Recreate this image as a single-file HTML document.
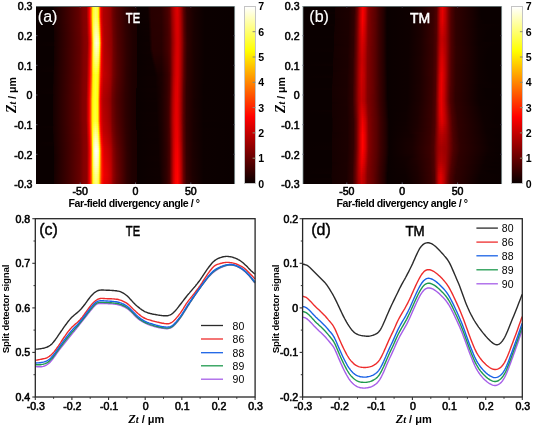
<!DOCTYPE html>
<html><head><meta charset="utf-8">
<style>
html,body{margin:0;padding:0;background:#fff;}
body{width:533px;height:428px;position:relative;overflow:hidden;font-family:"Liberation Sans",sans-serif;}
.hm{position:absolute;overflow:hidden;}
.hm div{position:absolute;left:0;right:0;}
.cbar{position:absolute;box-sizing:border-box;border:1px solid #c4c4c4;background:linear-gradient(to top,#0a0000 0%,#ff0000 37.5%,#ffff00 75%,#ffffff 100%);}
.t{position:absolute;white-space:nowrap;line-height:1;color:#000;filter:grayscale(1);}
.tk{font-size:10.6px;-webkit-text-stroke:0.55px #000;}
.cb{font-size:10.6px;font-weight:bold;}
.xl{font-size:10.6px;font-weight:bold;letter-spacing:-0.45px;}
.xl2{font-size:11px;font-weight:bold;}
.xl2 .z{font-size:1.12em;}
.yl{font-size:10.6px;font-weight:bold;}
.yl2{font-size:9.8px;font-weight:bold;letter-spacing:-0.25px;}
.lg{font-size:10.5px;}
.pl{font-size:16px;-webkit-text-stroke:0.4px currentColor;}
.tt{font-size:14.3px;-webkit-text-stroke:0.5px currentColor;}
.w{color:#fff;}
.z{font-family:"Liberation Serif",serif;font-style:italic;font-size:1.3em;}
.zt{font-family:"Liberation Serif",serif;font-style:italic;font-size:0.95em;}
svg{position:absolute;left:0;top:0;}
</style></head><body>
<div class="hm" style="left:36px;top:6px;width:199px;height:178px">
<div style="top:0px;height:2px;background:linear-gradient(90deg,#0a0000 0.0px,#0a0000 17.0px,#160000 18.0px,#420000 33.0px,#630000 43.0px,#810000 47.0px,#8d0000 50.5px,#e50000 53.0px,#fd0000 53.5px,#ff1800 54.0px,#ff5500 55.0px,#ff7f00 55.5px,#ffb900 56.0px,#ffe500 56.5px,#ffff0f 57.0px,#ffff2d 57.5px,#ffff5e 59.5px,#ffff4f 60.5px,#ffff39 61.5px,#ffff23 62.0px,#ffee00 62.5px,#ffbb00 63.0px,#ff7c00 63.5px,#ff1000 64.5px,#f00000 65.0px,#d70000 65.5px,#b00000 67.5px,#9e0000 72.0px,#900000 74.5px,#6c0000 77.0px,#530000 80.5px,#300000 89.5px,#1f0000 96.0px,#1b0000 100.5px,#0a0000 101.0px,#0d0000 111.5px,#270000 114.5px,#2a0000 125.0px,#480000 131.5px,#580000 133.5px,#9a0000 136.0px,#bd0000 138.0px,#d40000 139.5px,#dd0000 141.5px,#b80000 144.0px,#890000 146.0px,#5d0000 147.5px,#2e0000 150.5px,#1a0000 157.0px,#0b0000 168.0px,#0a0000 199.0px)"></div>
<div style="top:2px;height:2px;background:linear-gradient(90deg,#0a0000 0.0px,#0a0000 17.0px,#160000 18.0px,#420000 33.0px,#630000 43.0px,#810000 47.0px,#8d0000 50.5px,#e60000 53.0px,#fd0000 53.5px,#ff1800 54.0px,#ff5600 55.0px,#ff8000 55.5px,#ffba00 56.0px,#ffe600 56.5px,#ffff11 57.0px,#ffff2f 57.5px,#ffff61 59.5px,#ffff51 60.5px,#ffff3c 61.5px,#ffff25 62.0px,#ffef00 62.5px,#ffbd00 63.0px,#ff7d00 63.5px,#ff1100 64.5px,#f10000 65.0px,#d70000 65.5px,#b00000 67.5px,#9e0000 72.0px,#900000 74.5px,#6c0000 77.0px,#530000 80.5px,#300000 89.5px,#1f0000 96.0px,#1b0000 100.5px,#0a0000 101.0px,#0c0000 111.5px,#280000 115.0px,#2a0000 125.0px,#470000 131.5px,#570000 133.5px,#990000 136.0px,#bc0000 138.0px,#d70000 140.0px,#dd0000 141.5px,#b80000 144.0px,#8a0000 146.0px,#5e0000 147.5px,#2f0000 150.5px,#1a0000 157.0px,#0b0000 168.0px,#0a0000 199.0px)"></div>
<div style="top:4px;height:2px;background:linear-gradient(90deg,#0a0000 0.0px,#0a0000 17.0px,#160000 18.0px,#420000 33.0px,#630000 43.0px,#810000 47.0px,#8d0000 50.5px,#e60000 53.0px,#fe0000 53.5px,#ff1800 54.0px,#ff5600 55.0px,#ff8100 55.5px,#ffba00 56.0px,#ffe700 56.5px,#ffff12 57.0px,#ffff31 57.5px,#ffff63 59.5px,#ffff54 60.5px,#ffff3e 61.5px,#ffff28 62.0px,#fff000 62.5px,#ffbe00 63.0px,#ff7e00 63.5px,#ff1100 64.5px,#f10000 65.0px,#d70000 65.5px,#b00000 67.5px,#9e0000 72.0px,#900000 74.5px,#6c0000 77.0px,#530000 80.5px,#300000 89.5px,#1f0000 96.0px,#1b0000 100.5px,#0a0000 101.0px,#0e0000 112.0px,#280000 115.0px,#2a0000 125.0px,#470000 131.5px,#570000 133.5px,#980000 136.0px,#bb0000 138.0px,#d70000 140.0px,#dc0000 141.5px,#c20000 143.5px,#8b0000 146.0px,#5f0000 147.5px,#2f0000 150.5px,#1b0000 156.5px,#0b0000 168.0px,#0a0000 199.0px)"></div>
<div style="top:6px;height:2px;background:linear-gradient(90deg,#0a0000 0.0px,#0a0000 17.0px,#160000 18.0px,#420000 33.0px,#630000 43.0px,#810000 47.0px,#8d0000 50.5px,#e60000 53.0px,#fe0000 53.5px,#ff1800 54.0px,#ff5700 55.0px,#ff8100 55.5px,#ffbb00 56.0px,#ffe900 56.5px,#ffff14 57.0px,#ffff33 57.5px,#ffff66 59.5px,#ffff57 60.5px,#ffff40 61.5px,#ffff2a 62.0px,#fff200 62.5px,#ffbf00 63.0px,#ff7f00 63.5px,#ff1200 64.5px,#f10000 65.0px,#d70000 65.5px,#b80000 67.0px,#b00000 67.5px,#9e0000 72.0px,#900000 74.5px,#6c0000 77.0px,#530000 80.5px,#300000 89.5px,#1f0000 96.0px,#1b0000 100.5px,#0a0000 101.0px,#0e0000 112.0px,#280000 115.0px,#2a0000 125.0px,#470000 131.5px,#570000 133.5px,#6f0000 134.5px,#970000 136.0px,#ba0000 138.0px,#d60000 140.0px,#dc0000 141.5px,#ca0000 143.0px,#a30000 145.0px,#6e0000 147.0px,#550000 148.0px,#2b0000 151.0px,#160000 159.0px,#0b0000 168.5px,#0a0000 199.0px)"></div>
<div style="top:8px;height:2px;background:linear-gradient(90deg,#0a0000 0.0px,#0a0000 17.0px,#160000 18.0px,#420000 33.0px,#630000 43.0px,#810000 47.0px,#8d0000 50.5px,#e60000 53.0px,#fe0000 53.5px,#ff1800 54.0px,#ff5700 55.0px,#ff8200 55.5px,#ffbc00 56.0px,#ffea00 56.5px,#ffff16 57.0px,#ffff36 57.5px,#ffff68 59.5px,#ffff59 60.5px,#ffff43 61.5px,#ffff2c 62.0px,#fff300 62.5px,#ffc000 63.0px,#ff7f00 63.5px,#ff1200 64.5px,#f10000 65.0px,#d80000 65.5px,#b90000 67.0px,#b00000 67.5px,#9e0000 72.0px,#900000 74.5px,#6c0000 77.0px,#530000 80.5px,#300000 89.5px,#1f0000 96.0px,#1b0000 100.5px,#0a0000 101.0px,#0d0000 112.0px,#270000 115.0px,#2c0000 125.5px,#460000 131.5px,#560000 133.5px,#6e0000 134.5px,#950000 136.0px,#ba0000 138.0px,#d60000 140.0px,#db0000 141.5px,#d20000 142.5px,#af0000 144.5px,#7e0000 146.5px,#550000 148.0px,#2c0000 151.0px,#170000 158.5px,#0b0000 168.5px,#0a0000 199.0px)"></div>
<div style="top:10px;height:2px;background:linear-gradient(90deg,#0a0000 0.0px,#0a0000 17.0px,#160000 18.0px,#420000 33.0px,#630000 43.0px,#810000 47.0px,#8d0000 50.5px,#e60000 53.0px,#fe0000 53.5px,#ff1900 54.0px,#ff5700 55.0px,#ff8200 55.5px,#ffbd00 56.0px,#ffeb00 56.5px,#ffff18 57.0px,#ffff38 57.5px,#ffff6b 59.5px,#ffff5c 60.5px,#ffff45 61.5px,#ffff2e 62.0px,#fff400 62.5px,#ffc100 63.0px,#ff8000 63.5px,#ff1300 64.5px,#f20000 65.0px,#d80000 65.5px,#b90000 67.0px,#b00000 67.5px,#9e0000 72.0px,#900000 74.5px,#6c0000 77.0px,#530000 80.5px,#300000 89.5px,#1f0000 96.0px,#1b0000 100.5px,#0a0000 101.0px,#0d0000 112.0px,#270000 115.0px,#2b0000 125.5px,#460000 131.5px,#560000 133.5px,#5e0000 134.0px,#940000 136.0px,#b90000 138.0px,#d60000 140.0px,#d90000 142.0px,#b00000 144.5px,#7f0000 146.5px,#560000 148.0px,#2c0000 151.0px,#170000 158.5px,#0b0000 168.5px,#0a0000 199.0px)"></div>
<div style="top:12px;height:2px;background:linear-gradient(90deg,#0a0000 0.0px,#0a0000 17.0px,#160000 18.0px,#420000 33.0px,#630000 43.0px,#810000 47.0px,#8c0000 50.5px,#ab0000 51.5px,#e30000 53.0px,#fb0000 53.5px,#ff1500 54.0px,#ff5500 55.0px,#ff7d00 55.5px,#ffb900 56.0px,#ffea00 56.5px,#ffff18 57.0px,#ffff3d 57.5px,#ffff68 59.0px,#ffff73 59.5px,#ffff70 60.0px,#ffff4f 61.5px,#ffff3e 62.0px,#fffe00 62.5px,#ffcd00 63.0px,#ff5000 64.0px,#ff1b00 64.5px,#f60000 65.0px,#db0000 65.5px,#c30000 66.5px,#b10000 67.5px,#9c0000 72.5px,#8a0000 75.0px,#6d0000 77.0px,#510000 81.0px,#2d0000 90.5px,#1f0000 96.5px,#1b0000 100.5px,#0a0000 101.0px,#0c0000 112.0px,#280000 115.5px,#2b0000 125.5px,#450000 131.5px,#5d0000 134.0px,#930000 136.0px,#b80000 138.0px,#d50000 140.0px,#d90000 142.0px,#b00000 144.5px,#800000 146.5px,#560000 148.0px,#2c0000 151.0px,#170000 158.5px,#0b0000 168.5px,#0a0000 199.0px)"></div>
<div style="top:14px;height:2px;background:linear-gradient(90deg,#0a0000 0.0px,#0a0000 17.0px,#160000 18.0px,#420000 33.0px,#620000 43.0px,#830000 47.5px,#8c0000 50.5px,#970000 51.0px,#e00000 53.0px,#f80000 53.5px,#ff1200 54.0px,#ff5200 55.0px,#ff7800 55.5px,#ffb400 56.0px,#ffe900 56.5px,#ffff18 57.0px,#ffff43 57.5px,#ffff6f 59.0px,#ffff7a 59.5px,#ffff7a 60.0px,#ffff5a 61.5px,#ffff4b 62.0px,#ffff0e 62.5px,#ffd900 63.0px,#ff5900 64.0px,#ff2300 64.5px,#fa0000 65.0px,#df0000 65.5px,#ce0000 66.0px,#b20000 67.5px,#9a0000 73.0px,#8b0000 75.0px,#6d0000 77.0px,#510000 81.0px,#2d0000 90.5px,#1f0000 96.5px,#1b0000 100.5px,#0a0000 101.0px,#0f0000 112.5px,#280000 115.5px,#2b0000 125.5px,#450000 131.5px,#5c0000 134.0px,#920000 136.0px,#bd0000 138.5px,#d50000 140.0px,#d90000 142.0px,#b00000 144.5px,#800000 146.5px,#560000 148.0px,#2c0000 151.0px,#170000 158.5px,#0b0000 168.5px,#0a0000 199.0px)"></div>
<div style="top:16px;height:2px;background:linear-gradient(90deg,#0a0000 0.0px,#0a0000 17.0px,#160000 18.0px,#420000 33.0px,#620000 43.0px,#820000 47.5px,#8c0000 50.5px,#950000 51.0px,#de0000 53.0px,#f50000 53.5px,#ff0f00 54.0px,#ff7200 55.5px,#ffe700 56.5px,#ffff17 57.0px,#ffff48 57.5px,#ffff76 59.0px,#ffff82 59.5px,#ffff84 60.0px,#ffff64 61.5px,#ffff55 62.0px,#ffff1d 62.5px,#ffe500 63.0px,#ff6200 64.0px,#ff2b00 64.5px,#ff0000 65.0px,#e30000 65.5px,#cf0000 66.0px,#b30000 67.5px,#970000 73.5px,#8c0000 75.0px,#6e0000 77.0px,#520000 81.0px,#2f0000 90.0px,#1f0000 96.5px,#1b0000 100.5px,#0a0000 101.0px,#0e0000 112.5px,#270000 115.5px,#2b0000 125.5px,#450000 131.5px,#5b0000 134.0px,#910000 136.0px,#bc0000 138.5px,#d50000 140.0px,#da0000 142.0px,#b10000 144.5px,#810000 146.5px,#570000 148.0px,#2c0000 151.0px,#170000 158.5px,#0b0000 168.5px,#0a0000 199.0px)"></div>
<div style="top:18px;height:2px;background:linear-gradient(90deg,#0a0000 0.0px,#0a0000 17.0px,#170000 18.5px,#410000 33.0px,#650000 43.5px,#820000 47.5px,#8c0000 50.5px,#920000 51.0px,#dc0000 53.0px,#f20000 53.5px,#ff0c00 54.0px,#ff6f00 55.5px,#ffe600 56.5px,#ffff16 57.0px,#ffff4c 57.5px,#ffff7e 59.0px,#ffff8a 59.5px,#ffff8e 60.0px,#ffff6e 61.5px,#ffff5f 62.0px,#ffff2c 62.5px,#fff000 63.0px,#ff6b00 64.0px,#ff3300 64.5px,#ff0500 65.0px,#d10000 66.0px,#b40000 67.5px,#aa0000 70.0px,#8d0000 75.0px,#6e0000 77.0px,#520000 81.0px,#2f0000 90.0px,#1f0000 96.5px,#1b0000 100.5px,#0a0000 101.0px,#0d0000 112.5px,#270000 115.5px,#2a0000 125.5px,#440000 131.5px,#5a0000 134.0px,#900000 136.0px,#bb0000 138.5px,#d40000 140.0px,#da0000 142.0px,#b10000 144.5px,#820000 146.5px,#570000 148.0px,#2c0000 151.0px,#170000 158.5px,#0b0000 168.5px,#0a0000 199.0px)"></div>
<div style="top:20px;height:2px;background:linear-gradient(90deg,#0a0000 0.0px,#0c0000 17.5px,#160000 18.0px,#410000 33.0px,#650000 43.5px,#820000 47.5px,#900000 51.0px,#ef0000 53.5px,#ff0a00 54.0px,#ff4800 55.0px,#ff6c00 55.5px,#ffa500 56.0px,#ffe400 56.5px,#ffff15 57.0px,#ffff50 57.5px,#ffff77 58.5px,#ffff91 59.5px,#ffff98 60.0px,#ffff78 61.5px,#ffff69 62.0px,#ffff3c 62.5px,#fffa00 63.0px,#ff7500 64.0px,#ff3c00 64.5px,#ff0900 65.0px,#eb0000 65.5px,#d30000 66.0px,#af0000 68.0px,#9d0000 72.5px,#8e0000 75.0px,#6f0000 77.0px,#520000 81.0px,#2f0000 90.0px,#1f0000 96.5px,#1c0000 100.5px,#0a0000 101.0px,#0d0000 112.5px,#270000 115.5px,#2a0000 125.5px,#440000 131.5px,#590000 134.0px,#8e0000 136.0px,#bb0000 138.5px,#d40000 140.0px,#da0000 142.0px,#b20000 144.5px,#820000 146.5px,#580000 148.0px,#2c0000 151.0px,#170000 158.5px,#0b0000 168.5px,#0a0000 199.0px)"></div>
<div style="top:22px;height:2px;background:linear-gradient(90deg,#0a0000 0.0px,#0a0000 17.5px,#150000 18.0px,#410000 33.0px,#640000 43.5px,#820000 47.5px,#8e0000 51.0px,#ed0000 53.5px,#ff0700 54.0px,#ff4500 55.0px,#ff6900 55.5px,#ff9f00 56.0px,#ffdf00 56.5px,#ffff13 57.0px,#ffff50 57.5px,#ffff6b 58.0px,#ffff99 59.5px,#ffffa2 60.0px,#ffff82 61.5px,#ffff74 62.0px,#ffff4c 62.5px,#ffff07 63.0px,#ffc600 63.5px,#ff8000 64.0px,#ff0e00 65.0px,#ef0000 65.5px,#d50000 66.0px,#b00000 68.0px,#9e0000 72.5px,#8f0000 75.0px,#6f0000 77.0px,#530000 81.0px,#310000 89.5px,#1f0000 96.5px,#1c0000 100.5px,#0a0000 101.0px,#0c0000 112.5px,#280000 116.0px,#2a0000 125.5px,#430000 131.5px,#580000 134.0px,#8d0000 136.0px,#b40000 138.0px,#d30000 140.0px,#da0000 142.0px,#b20000 144.5px,#830000 146.5px,#580000 148.0px,#2c0000 151.0px,#170000 158.5px,#0b0000 168.5px,#0a0000 199.0px)"></div>
<div style="top:24px;height:2px;background:linear-gradient(90deg,#0a0000 0.0px,#0a0000 17.5px,#150000 18.0px,#410000 33.0px,#640000 43.5px,#820000 47.5px,#8d0000 51.0px,#ea0000 53.5px,#ff0400 54.0px,#ff4200 55.0px,#ff6600 55.5px,#ff9900 56.0px,#ffda00 56.5px,#ffff11 57.0px,#ffff50 57.5px,#ffff70 58.0px,#ffff93 59.0px,#ffffab 60.0px,#ffff8d 61.5px,#ffff7e 62.0px,#ffff5b 62.5px,#ffff16 63.0px,#ffd200 63.5px,#ff8c00 64.0px,#ff1500 65.0px,#f40000 65.5px,#d70000 66.0px,#b00000 68.0px,#9e0000 72.5px,#900000 75.0px,#6c0000 77.5px,#530000 81.0px,#310000 89.5px,#1f0000 96.5px,#1b0000 101.0px,#0a0000 101.5px,#0f0000 113.0px,#270000 116.0px,#2a0000 125.5px,#430000 131.5px,#570000 134.0px,#8c0000 136.0px,#b90000 138.5px,#d30000 140.0px,#da0000 142.0px,#b30000 144.5px,#840000 146.5px,#580000 148.0px,#2c0000 151.0px,#180000 158.0px,#0b0000 168.5px,#0a0000 199.0px)"></div>
<div style="top:26px;height:2px;background:linear-gradient(90deg,#0a0000 0.0px,#0a0000 17.5px,#160000 18.5px,#400000 33.0px,#630000 43.5px,#820000 47.5px,#8d0000 51.0px,#e70000 53.5px,#ff0100 54.0px,#ff1c00 54.5px,#ff6300 55.5px,#ff9400 56.0px,#ffd500 56.5px,#ffff0f 57.0px,#ffff4f 57.5px,#ffff75 58.0px,#ffff9a 59.0px,#ffffb3 60.0px,#ffffa3 61.0px,#ffff88 62.0px,#ffff6c 62.5px,#ffff26 63.0px,#ffdf00 63.5px,#ff9700 64.0px,#ff1d00 65.0px,#f80000 65.5px,#db0000 66.0px,#c20000 67.0px,#b00000 68.0px,#9e0000 72.5px,#900000 75.0px,#6c0000 77.5px,#530000 81.0px,#300000 90.0px,#1f0000 96.5px,#1b0000 101.0px,#0a0000 101.5px,#0e0000 113.0px,#270000 116.0px,#290000 125.5px,#430000 131.5px,#560000 134.0px,#8b0000 136.0px,#b80000 138.5px,#d20000 140.0px,#da0000 142.0px,#b30000 144.5px,#850000 146.5px,#590000 148.0px,#2d0000 151.0px,#180000 158.0px,#0b0000 168.5px,#0a0000 199.0px)"></div>
<div style="top:28px;height:2px;background:linear-gradient(90deg,#0a0000 0.0px,#0a0000 17.5px,#160000 18.5px,#420000 33.5px,#630000 43.5px,#810000 47.5px,#8c0000 51.0px,#ac0000 52.0px,#e40000 53.5px,#fd0000 54.0px,#ff1900 54.5px,#ff5f00 55.5px,#ff8e00 56.0px,#ffd000 56.5px,#ffff0c 57.0px,#ffff4e 57.5px,#ffff7a 58.0px,#ffffa1 59.0px,#ffffbb 60.0px,#ffffb7 60.5px,#ffff93 62.0px,#ffff7c 62.5px,#ffff36 63.0px,#ffeb00 63.5px,#ff6100 64.5px,#ff2600 65.0px,#fd0000 65.5px,#df0000 66.0px,#ce0000 66.5px,#b10000 68.0px,#9c0000 73.0px,#8a0000 75.5px,#6d0000 77.5px,#510000 81.5px,#2d0000 91.0px,#1f0000 97.0px,#1b0000 101.0px,#0a0000 101.5px,#0e0000 113.0px,#270000 116.0px,#290000 125.5px,#420000 131.5px,#560000 134.0px,#8a0000 136.0px,#b70000 138.5px,#d10000 140.0px,#d90000 142.0px,#b40000 144.5px,#850000 146.5px,#5a0000 148.0px,#2d0000 151.0px,#190000 157.5px,#0b0000 168.5px,#0a0000 199.0px)"></div>
<div style="top:30px;height:2px;background:linear-gradient(90deg,#0a0000 0.0px,#0a0000 17.5px,#160000 18.5px,#420000 33.5px,#620000 43.5px,#830000 48.0px,#8c0000 51.0px,#970000 51.5px,#e10000 53.5px,#fa0000 54.0px,#ff1500 54.5px,#ff5c00 55.5px,#ff8800 56.0px,#ffca00 56.5px,#ffff09 57.0px,#ffff4c 57.5px,#ffff7e 58.0px,#ffffa8 59.0px,#ffffc2 60.0px,#ffffc2 60.5px,#ffff9d 62.0px,#ffff8b 62.5px,#ffff46 63.0px,#fff800 63.5px,#ff6b00 64.5px,#ff2f00 65.0px,#ff0300 65.5px,#e30000 66.0px,#d00000 66.5px,#b20000 68.0px,#990000 73.5px,#8b0000 75.5px,#6d0000 77.5px,#510000 81.5px,#2d0000 91.0px,#1f0000 97.0px,#1b0000 101.0px,#0a0000 101.5px,#0d0000 113.0px,#260000 116.0px,#290000 125.5px,#460000 132.0px,#560000 134.0px,#890000 136.0px,#b70000 138.5px,#d00000 140.0px,#d90000 142.0px,#b40000 144.5px,#860000 146.5px,#5b0000 148.0px,#2d0000 151.0px,#190000 157.5px,#0b0000 168.5px,#0a0000 199.0px)"></div>
<div style="top:32px;height:2px;background:linear-gradient(90deg,#0a0000 0.0px,#0a0000 17.5px,#160000 18.5px,#420000 33.5px,#620000 43.5px,#830000 48.0px,#8c0000 51.0px,#950000 51.5px,#df0000 53.5px,#f70000 54.0px,#ff1200 54.5px,#ff5800 55.5px,#ff8100 56.0px,#ffc400 56.5px,#ffff06 57.0px,#ffff4a 57.5px,#ffff82 58.0px,#ffffae 59.0px,#ffffca 60.0px,#ffffcc 60.5px,#ffffa8 62.0px,#ffff95 62.5px,#ffff56 63.0px,#ffff09 63.5px,#ffbc00 64.0px,#ff7500 64.5px,#ff3800 65.0px,#ff0800 65.5px,#e80000 66.0px,#d20000 66.5px,#b30000 68.0px,#970000 74.0px,#8c0000 75.5px,#6e0000 77.5px,#520000 81.5px,#2f0000 90.5px,#1f0000 97.0px,#1b0000 101.0px,#0a0000 101.5px,#0d0000 113.0px,#260000 116.0px,#290000 125.5px,#460000 132.0px,#550000 134.0px,#920000 136.5px,#d00000 140.0px,#d90000 142.0px,#b40000 144.5px,#870000 146.5px,#5c0000 148.0px,#2e0000 151.0px,#190000 157.5px,#0b0000 168.5px,#0a0000 199.0px)"></div>
<div style="top:34px;height:2px;background:linear-gradient(90deg,#0a0000 0.0px,#0a0000 17.5px,#170000 19.0px,#410000 33.5px,#650000 44.0px,#820000 48.0px,#8c0000 51.0px,#930000 51.5px,#dc0000 53.5px,#f40000 54.0px,#ff0f00 54.5px,#ff5500 55.5px,#ff7d00 56.0px,#ffff02 57.0px,#ffff48 57.5px,#ffff86 58.0px,#ffffb4 59.0px,#ffffd1 60.0px,#ffffd6 60.5px,#ffffb2 62.0px,#ffffa0 62.5px,#ffff66 63.0px,#ffff1a 63.5px,#ffc800 64.0px,#ff7f00 64.5px,#ff4100 65.0px,#ff0d00 65.5px,#ec0000 66.0px,#d30000 66.5px,#b40000 68.0px,#aa0000 70.5px,#8d0000 75.5px,#6e0000 77.5px,#520000 81.5px,#2f0000 90.5px,#1f0000 97.0px,#1b0000 101.0px,#0a0000 101.5px,#0c0000 113.0px,#270000 116.5px,#290000 125.5px,#450000 132.0px,#550000 134.0px,#910000 136.5px,#cf0000 140.0px,#d90000 142.0px,#b50000 144.5px,#880000 146.5px,#5c0000 148.0px,#2e0000 151.0px,#190000 157.5px,#0b0000 168.5px,#0a0000 199.0px)"></div>
<div style="top:36px;height:2px;background:linear-gradient(90deg,#0a0000 0.0px,#0c0000 18.0px,#160000 18.5px,#410000 33.5px,#650000 44.0px,#820000 48.0px,#900000 51.5px,#da0000 53.5px,#f10000 54.0px,#ff0c00 54.5px,#ff5100 55.5px,#ff7900 56.0px,#ffb800 56.5px,#fffe00 57.0px,#ffff8a 58.0px,#ffffbb 59.0px,#ffffd9 60.0px,#ffffe0 60.5px,#ffffbd 62.0px,#ffffaa 62.5px,#ffff76 63.0px,#ffff2a 63.5px,#ffd500 64.0px,#ff8900 64.5px,#ff4a00 65.0px,#ff1300 65.5px,#f00000 66.0px,#d50000 66.5px,#b50000 68.0px,#ad0000 69.5px,#950000 74.5px,#8e0000 75.5px,#6f0000 77.5px,#520000 81.5px,#2f0000 90.5px,#1f0000 97.0px,#1c0000 101.0px,#0a0000 101.5px,#0e0000 113.5px,#270000 116.5px,#280000 125.5px,#450000 132.0px,#550000 134.0px,#900000 136.5px,#cf0000 140.0px,#d90000 142.0px,#bf0000 144.0px,#890000 146.5px,#5e0000 148.0px,#2f0000 151.0px,#1a0000 157.0px,#0b0000 168.5px,#0a0000 199.0px)"></div>
<div style="top:38px;height:2px;background:linear-gradient(90deg,#0a0000 0.0px,#0d0000 18.0px,#160000 18.5px,#410000 33.5px,#650000 44.0px,#820000 48.0px,#8c0000 51.0px,#920000 51.5px,#db0000 53.5px,#f30000 54.0px,#ff0e00 54.5px,#ff5300 55.5px,#ff7b00 56.0px,#fffe00 57.0px,#ffff84 58.0px,#ffffb2 59.0px,#ffffcf 60.0px,#ffffd5 60.5px,#ffffb2 62.0px,#ffffa0 62.5px,#ffff68 63.0px,#ffff1d 63.5px,#ffcc00 64.0px,#ff8200 64.5px,#ff4500 65.0px,#ff1000 65.5px,#ee0000 66.0px,#d50000 66.5px,#b60000 68.0px,#ac0000 70.0px,#8e0000 75.5px,#6f0000 77.5px,#530000 81.5px,#2f0000 90.5px,#1f0000 97.0px,#1b0000 101.0px,#0a0000 101.5px,#0e0000 113.5px,#270000 116.5px,#280000 125.5px,#450000 132.0px,#550000 134.0px,#910000 136.5px,#d00000 140.0px,#d90000 142.0px,#b60000 144.5px,#880000 146.5px,#5d0000 148.0px,#2f0000 151.0px,#1a0000 157.0px,#0b0000 168.5px,#0a0000 199.0px)"></div>
<div style="top:40px;height:2px;background:linear-gradient(90deg,#0a0000 0.0px,#0a0000 17.5px,#170000 19.0px,#410000 33.5px,#620000 43.5px,#820000 48.0px,#8c0000 51.0px,#930000 51.5px,#dd0000 53.5px,#f40000 54.0px,#ff1000 54.5px,#ff5400 55.5px,#ff7c00 56.0px,#fffe00 57.0px,#ffff42 57.5px,#ffff7e 58.0px,#ffffaa 59.0px,#ffffc6 60.0px,#ffffca 60.5px,#ffffa7 62.0px,#ffff95 62.5px,#ffff5b 63.0px,#ffff10 63.5px,#ffc300 64.0px,#ff7b00 64.5px,#ff3f00 65.0px,#ff0d00 65.5px,#ec0000 66.0px,#d50000 66.5px,#b60000 68.0px,#930000 75.0px,#6b0000 78.0px,#530000 81.5px,#2f0000 90.5px,#1f0000 97.0px,#1b0000 101.0px,#0a0000 101.5px,#0d0000 113.5px,#260000 116.5px,#280000 125.5px,#450000 132.0px,#550000 134.0px,#920000 136.5px,#d10000 140.0px,#da0000 142.0px,#b60000 144.5px,#880000 146.5px,#5c0000 148.0px,#2e0000 151.0px,#190000 157.5px,#0b0000 168.5px,#0a0000 199.0px)"></div>
<div style="top:42px;height:2px;background:linear-gradient(90deg,#0a0000 0.0px,#0a0000 17.5px,#160000 18.5px,#420000 33.5px,#620000 43.5px,#820000 48.0px,#8c0000 51.0px,#950000 51.5px,#de0000 53.5px,#f60000 54.0px,#ff1100 54.5px,#ff5600 55.5px,#ff7d00 56.0px,#fffd00 57.0px,#ffff40 57.5px,#ffff77 58.0px,#ffffa1 59.0px,#ffffbd 60.0px,#ffffbf 60.5px,#ffff9c 62.0px,#ffff8a 62.5px,#ffff4d 63.0px,#ffff03 63.5px,#ff7400 64.5px,#ff3900 65.0px,#ff0a00 65.5px,#eb0000 66.0px,#d50000 66.5px,#b60000 68.0px,#9a0000 74.0px,#8f0000 75.5px,#700000 77.5px,#530000 81.5px,#2e0000 91.0px,#1f0000 97.0px,#1b0000 101.0px,#0a0000 101.5px,#0d0000 113.5px,#260000 116.5px,#280000 125.5px,#450000 132.0px,#550000 134.0px,#930000 136.5px,#d10000 140.0px,#da0000 142.0px,#b50000 144.5px,#870000 146.5px,#5c0000 148.0px,#2e0000 151.0px,#190000 157.5px,#0b0000 168.5px,#0a0000 199.0px)"></div>
<div style="top:44px;height:2px;background:linear-gradient(90deg,#0a0000 0.0px,#0a0000 17.5px,#160000 18.5px,#420000 33.5px,#620000 43.5px,#830000 48.0px,#8c0000 51.0px,#960000 51.5px,#e00000 53.5px,#f80000 54.0px,#ff1300 54.5px,#ff5700 55.5px,#ff8000 56.0px,#fffd00 57.0px,#ffff3d 57.5px,#ffff71 58.0px,#ffff99 59.0px,#ffffb3 60.0px,#ffffb4 60.5px,#ffff91 62.0px,#ffff7f 62.5px,#ffff3f 63.0px,#fff700 63.5px,#ff6e00 64.5px,#ff3400 65.0px,#ff0800 65.5px,#e90000 66.0px,#d50000 66.5px,#b70000 68.0px,#9d0000 73.5px,#8f0000 75.5px,#700000 77.5px,#530000 81.5px,#2d0000 91.0px,#1f0000 97.0px,#1b0000 101.0px,#0a0000 101.5px,#0e0000 114.0px,#260000 117.0px,#280000 125.5px,#410000 131.5px,#550000 134.0px,#890000 136.0px,#b80000 138.5px,#d20000 140.0px,#db0000 142.0px,#b50000 144.5px,#870000 146.5px,#5b0000 148.0px,#2e0000 151.0px,#190000 157.5px,#0b0000 168.5px,#0a0000 199.0px)"></div>
<div style="top:46px;height:2px;background:linear-gradient(90deg,#0a0000 0.0px,#0a0000 17.5px,#160000 18.5px,#420000 33.5px,#620000 43.5px,#830000 48.0px,#8c0000 51.0px,#970000 51.5px,#e10000 53.5px,#f90000 54.0px,#ff1500 54.5px,#ff5900 55.5px,#ff8300 56.0px,#ffc300 56.5px,#fffc00 57.0px,#ffff3b 57.5px,#ffff6a 58.0px,#ffff90 59.0px,#ffffaa 60.0px,#ffffa9 60.5px,#ffff86 62.0px,#ffff75 62.5px,#ffff32 63.0px,#ffed00 63.5px,#ff6700 64.5px,#ff2e00 65.0px,#ff0500 65.5px,#d50000 66.5px,#b70000 68.0px,#a10000 73.0px,#8f0000 75.5px,#710000 77.5px,#540000 81.5px,#2d0000 91.0px,#1f0000 97.0px,#1b0000 101.0px,#0a0000 101.5px,#0f0000 114.5px,#250000 117.5px,#270000 125.5px,#400000 131.5px,#540000 134.0px,#890000 136.0px,#b90000 138.5px,#d30000 140.0px,#db0000 142.0px,#b50000 144.5px,#860000 146.5px,#5b0000 148.0px,#2d0000 151.0px,#190000 157.5px,#0b0000 168.5px,#0a0000 199.0px)"></div>
<div style="top:48px;height:2px;background:linear-gradient(90deg,#0a0000 0.0px,#0a0000 17.5px,#160000 18.5px,#420000 33.5px,#630000 43.5px,#810000 47.5px,#8c0000 51.0px,#ab0000 52.0px,#e30000 53.5px,#fb0000 54.0px,#ff1600 54.5px,#ff5a00 55.5px,#ff8500 56.0px,#ffc500 56.5px,#fffb00 57.0px,#ffff38 57.5px,#ffff63 58.0px,#ffff87 59.0px,#ffffa0 60.0px,#ffff9e 60.5px,#ffff7b 62.0px,#ffff68 62.5px,#ffff24 63.0px,#ffe400 63.5px,#ff6100 64.5px,#ff2900 65.0px,#ff0300 65.5px,#e60000 66.0px,#ca0000 67.0px,#b80000 68.0px,#a20000 73.0px,#8f0000 75.5px,#710000 77.5px,#540000 81.5px,#2d0000 91.0px,#1f0000 97.0px,#1b0000 101.0px,#0a0000 101.5px,#0d0000 114.5px,#240000 118.0px,#260000 125.5px,#3f0000 131.5px,#530000 134.0px,#890000 136.0px,#ba0000 138.5px,#d40000 140.0px,#dc0000 142.0px,#b50000 144.5px,#860000 146.5px,#5a0000 148.0px,#2d0000 151.0px,#180000 158.0px,#0b0000 168.5px,#0a0000 199.0px)"></div>
<div style="top:50px;height:2px;background:linear-gradient(90deg,#0a0000 0.0px,#0a0000 17.5px,#160000 18.5px,#420000 33.5px,#630000 43.5px,#810000 47.5px,#8c0000 51.0px,#ac0000 52.0px,#e40000 53.5px,#fd0000 54.0px,#ff1800 54.5px,#ff5b00 55.5px,#ff8800 56.0px,#ffc600 56.5px,#fffa00 57.0px,#ffff35 57.5px,#ffff5c 58.0px,#ffff8b 59.5px,#ffff97 60.0px,#ffff89 61.0px,#ffff70 62.0px,#ffff5a 62.5px,#ffff17 63.0px,#ffda00 63.5px,#ff5b00 64.5px,#ff2400 65.0px,#ff0100 65.5px,#e40000 66.0px,#cb0000 67.0px,#b80000 68.0px,#a50000 72.5px,#960000 75.0px,#710000 77.5px,#570000 81.0px,#2f0000 90.5px,#1f0000 96.5px,#1b0000 101.0px,#0a0000 101.5px,#0d0000 115.0px,#220000 118.0px,#240000 125.5px,#3e0000 131.5px,#520000 134.0px,#890000 136.0px,#b40000 138.0px,#d50000 140.0px,#dc0000 142.0px,#b50000 144.5px,#850000 146.5px,#590000 148.0px,#2d0000 151.0px,#180000 158.0px,#0b0000 168.5px,#0a0000 199.0px)"></div>
<div style="top:52px;height:2px;background:linear-gradient(90deg,#0a0000 0.0px,#0a0000 17.5px,#160000 18.5px,#420000 33.5px,#630000 43.5px,#810000 47.5px,#8d0000 51.0px,#d20000 53.0px,#fe0000 54.0px,#ff1a00 54.5px,#ff5c00 55.5px,#ff8a00 56.0px,#ffc800 56.5px,#fff900 57.0px,#ffff32 57.5px,#ffff55 58.0px,#ffff82 59.5px,#ffff8d 60.0px,#ffff7e 61.0px,#ffff66 62.0px,#ffff4c 62.5px,#ffff0a 63.0px,#ffd100 63.5px,#ff9000 64.0px,#ff1f00 65.0px,#fd0000 65.5px,#e30000 66.0px,#b80000 68.0px,#a60000 72.5px,#970000 75.0px,#710000 77.5px,#570000 81.0px,#2f0000 90.5px,#1f0000 96.5px,#1b0000 101.0px,#0a0000 101.5px,#0d0000 115.5px,#210000 118.5px,#230000 125.5px,#3d0000 131.5px,#510000 134.0px,#880000 136.0px,#b40000 138.0px,#d50000 140.0px,#dd0000 142.0px,#b40000 144.5px,#850000 146.5px,#590000 148.0px,#2c0000 151.0px,#170000 158.5px,#0b0000 168.5px,#0a0000 199.0px)"></div>
<div style="top:54px;height:2px;background:linear-gradient(90deg,#0a0000 0.0px,#0a0000 17.5px,#140000 18.0px,#430000 33.5px,#640000 43.5px,#820000 47.5px,#8d0000 51.0px,#e80000 53.5px,#ff0100 54.0px,#ff3c00 55.0px,#ff5d00 55.5px,#ff8c00 56.0px,#ffc900 56.5px,#fff700 57.0px,#ffff2e 57.5px,#ffff4d 58.0px,#ffff78 59.5px,#ffff83 60.0px,#ffff67 61.5px,#ffff5a 62.0px,#ffff3e 62.5px,#fffd00 63.0px,#ffc800 63.5px,#ff8800 64.0px,#ff1b00 65.0px,#fb0000 65.5px,#e10000 66.0px,#b90000 68.0px,#a70000 72.5px,#980000 75.0px,#720000 77.5px,#570000 81.0px,#2f0000 90.5px,#1f0000 96.5px,#1b0000 101.0px,#0a0000 101.5px,#0e0000 116.0px,#200000 119.0px,#220000 125.5px,#3c0000 131.5px,#510000 134.0px,#940000 136.5px,#b50000 138.0px,#d60000 140.0px,#dd0000 142.0px,#b40000 144.5px,#840000 146.5px,#590000 148.0px,#2c0000 151.0px,#170000 158.5px,#0b0000 168.5px,#0a0000 199.0px)"></div>
<div style="top:56px;height:2px;background:linear-gradient(90deg,#0a0000 0.0px,#0a0000 17.5px,#150000 18.0px,#410000 33.0px,#640000 43.5px,#820000 47.5px,#8d0000 51.0px,#e90000 53.5px,#ff0300 54.0px,#ff3d00 55.0px,#ff5e00 55.5px,#ff8e00 56.0px,#ffca00 56.5px,#fff500 57.0px,#ffff29 57.5px,#ffff44 58.0px,#ffff6d 59.5px,#ffff78 60.0px,#ffff4e 62.0px,#ffff2f 62.5px,#fff400 63.0px,#ffbf00 63.5px,#ff8000 64.0px,#ff1600 65.0px,#f90000 65.5px,#e00000 66.0px,#ba0000 68.0px,#a70000 72.5px,#980000 75.0px,#770000 77.0px,#570000 81.0px,#2f0000 90.5px,#1f0000 96.5px,#1b0000 101.0px,#0a0000 101.5px,#0e0000 116.5px,#1f0000 119.5px,#210000 125.5px,#3b0000 131.5px,#500000 134.0px,#940000 136.5px,#b50000 138.0px,#d60000 140.0px,#dd0000 142.0px,#b40000 144.5px,#840000 146.5px,#580000 148.0px,#2c0000 151.0px,#170000 158.5px,#0b0000 168.5px,#0a0000 199.0px)"></div>
<div style="top:58px;height:2px;background:linear-gradient(90deg,#0a0000 0.0px,#0a0000 17.5px,#150000 18.0px,#410000 33.0px,#640000 43.5px,#820000 47.5px,#8d0000 51.0px,#eb0000 53.5px,#ff0400 54.0px,#ff3e00 55.0px,#ff5f00 55.5px,#ff9000 56.0px,#ffca00 56.5px,#fff300 57.0px,#ffff25 57.5px,#ffff3b 58.0px,#ffff6d 60.0px,#ffff43 62.0px,#ffff21 62.5px,#ffeb00 63.0px,#ffb500 63.5px,#ff7800 64.0px,#ff1200 65.0px,#f70000 65.5px,#df0000 66.0px,#bb0000 68.0px,#ab0000 72.0px,#990000 75.0px,#770000 77.0px,#580000 81.0px,#2f0000 90.5px,#1f0000 96.5px,#1c0000 100.5px,#0a0000 101.0px,#0e0000 117.0px,#1d0000 120.0px,#200000 125.5px,#3a0000 131.5px,#500000 134.0px,#940000 136.5px,#b60000 138.0px,#d70000 140.0px,#dd0000 142.0px,#b40000 144.5px,#830000 146.5px,#580000 148.0px,#2c0000 151.0px,#170000 158.5px,#0b0000 168.5px,#0a0000 199.0px)"></div>
<div style="top:60px;height:2px;background:linear-gradient(90deg,#0a0000 0.0px,#0b0000 17.5px,#160000 18.0px,#410000 33.0px,#650000 43.5px,#820000 47.5px,#8f0000 51.0px,#ed0000 53.5px,#ff0600 54.0px,#ff5f00 55.5px,#ff9100 56.0px,#ffcb00 56.5px,#fff100 57.0px,#ffff20 57.5px,#ffff40 58.5px,#ffff61 60.0px,#ffff37 62.0px,#ffff12 62.5px,#ffe200 63.0px,#ffac00 63.5px,#ff7000 64.0px,#ff0f00 65.0px,#f60000 65.5px,#df0000 66.0px,#bc0000 68.0px,#ac0000 72.0px,#990000 75.0px,#770000 77.0px,#580000 81.0px,#2e0000 90.5px,#1f0000 96.5px,#1c0000 100.5px,#0a0000 101.0px,#0f0000 117.5px,#1c0000 120.5px,#1f0000 125.5px,#390000 131.5px,#4f0000 134.0px,#940000 136.5px,#b70000 138.0px,#d70000 140.0px,#dd0000 142.0px,#b30000 144.5px,#830000 146.5px,#580000 148.0px,#2c0000 151.0px,#170000 158.5px,#0b0000 168.5px,#0a0000 199.0px)"></div>
<div style="top:62px;height:2px;background:linear-gradient(90deg,#0a0000 0.0px,#0c0000 17.5px,#160000 18.0px,#410000 33.0px,#650000 43.5px,#820000 47.5px,#900000 51.0px,#ee0000 53.5px,#ff0700 54.0px,#ff5f00 55.5px,#ffcb00 56.5px,#ffee00 57.0px,#ffff1a 57.5px,#ffff4d 59.5px,#ffff54 60.0px,#ffff2b 62.0px,#ffff04 62.5px,#ffd900 63.0px,#ff6900 64.0px,#ff0d00 65.0px,#f40000 65.5px,#df0000 66.0px,#bd0000 68.0px,#ac0000 72.0px,#990000 75.0px,#770000 77.0px,#580000 81.0px,#2e0000 90.5px,#1f0000 96.5px,#1c0000 100.5px,#0a0000 101.0px,#0f0000 118.0px,#1b0000 121.0px,#1e0000 125.5px,#380000 131.5px,#4f0000 134.0px,#940000 136.5px,#b70000 138.0px,#d80000 140.0px,#dd0000 142.0px,#b30000 144.5px,#820000 146.5px,#580000 148.0px,#2c0000 151.0px,#170000 158.5px,#0b0000 168.5px,#0a0000 199.0px)"></div>
<div style="top:64px;height:2px;background:linear-gradient(90deg,#0a0000 0.0px,#0d0000 17.5px,#160000 18.0px,#410000 33.0px,#650000 43.5px,#820000 47.5px,#8c0000 50.5px,#910000 51.0px,#f00000 53.5px,#ff0900 54.0px,#ff6000 55.5px,#ffca00 56.5px,#ffec00 57.0px,#ffff13 57.5px,#ffff42 59.5px,#ffff48 60.0px,#ffff20 62.0px,#fff800 62.5px,#ffd100 63.0px,#ff6200 64.0px,#ff0a00 65.0px,#f20000 65.5px,#df0000 66.0px,#be0000 68.0px,#ad0000 72.0px,#990000 75.0px,#780000 77.0px,#590000 81.0px,#2e0000 90.5px,#1f0000 96.5px,#1c0000 100.5px,#0a0000 101.0px,#0d0000 118.0px,#1a0000 121.5px,#1d0000 125.5px,#370000 131.5px,#4f0000 134.0px,#a10000 137.0px,#bf0000 138.5px,#d80000 140.0px,#dd0000 142.0px,#b30000 144.5px,#820000 146.5px,#580000 148.0px,#2c0000 151.0px,#170000 158.5px,#0b0000 168.5px,#0a0000 199.0px)"></div>
<div style="top:66px;height:2px;background:linear-gradient(90deg,#0a0000 0.0px,#0a0000 17.0px,#170000 18.5px,#410000 33.0px,#650000 43.5px,#820000 47.5px,#8c0000 50.5px,#930000 51.0px,#db0000 53.0px,#f10000 53.5px,#ff0a00 54.0px,#ff6000 55.5px,#ffc800 56.5px,#ffe900 57.0px,#ffff0b 57.5px,#ffff37 59.5px,#ffff3c 60.0px,#ffff14 62.0px,#ffef00 62.5px,#ffc800 63.0px,#ff5c00 64.0px,#ff2f00 64.5px,#ff0800 65.0px,#f10000 65.5px,#e00000 66.0px,#c40000 67.5px,#b90000 70.0px,#990000 75.0px,#780000 77.0px,#590000 81.0px,#2e0000 90.5px,#1f0000 96.5px,#1b0000 100.5px,#0a0000 101.0px,#0d0000 118.5px,#180000 122.0px,#1b0000 125.5px,#360000 131.5px,#460000 133.5px,#4e0000 134.0px,#a10000 137.0px,#c00000 138.5px,#d90000 140.0px,#dd0000 142.0px,#b30000 144.5px,#810000 146.5px,#570000 148.0px,#2c0000 151.0px,#170000 158.5px,#0b0000 168.5px,#0a0000 199.0px)"></div>
<div style="top:68px;height:2px;background:linear-gradient(90deg,#0a0000 0.0px,#0a0000 17.0px,#160000 18.0px,#420000 33.0px,#620000 43.0px,#820000 47.5px,#8c0000 50.5px,#940000 51.0px,#dd0000 53.0px,#f30000 53.5px,#ff0b00 54.0px,#ff6000 55.5px,#ffc600 56.5px,#ffe600 57.0px,#ffff02 57.5px,#ffff2d 59.5px,#ffff2f 60.0px,#ffff09 62.0px,#ffe600 62.5px,#ffc000 63.0px,#ff5600 64.0px,#ff2a00 64.5px,#ff0600 65.0px,#e00000 66.0px,#c40000 67.5px,#a80000 73.0px,#9a0000 75.0px,#780000 77.0px,#590000 81.0px,#2c0000 91.0px,#1f0000 96.5px,#1b0000 100.5px,#0a0000 101.0px,#0d0000 119.0px,#170000 122.5px,#1a0000 125.5px,#350000 131.5px,#450000 133.5px,#4e0000 134.0px,#ae0000 137.5px,#d90000 140.0px,#dd0000 142.0px,#bd0000 144.0px,#900000 146.0px,#570000 148.0px,#2c0000 151.0px,#170000 158.5px,#0b0000 168.5px,#0a0000 199.0px)"></div>
<div style="top:70px;height:2px;background:linear-gradient(90deg,#0a0000 0.0px,#0a0000 17.0px,#160000 18.0px,#420000 33.0px,#620000 43.0px,#830000 47.5px,#8c0000 50.5px,#960000 51.0px,#df0000 53.0px,#f50000 53.5px,#ff0e00 54.0px,#ff6500 55.5px,#ff9a00 56.0px,#ffc900 56.5px,#ffe900 57.0px,#ffff03 57.5px,#ffff2e 59.5px,#ffff2e 60.0px,#ffff08 62.0px,#ffe200 62.5px,#ffbb00 63.0px,#ff5100 64.0px,#ff2400 64.5px,#ff0300 65.0px,#de0000 66.0px,#c20000 67.5px,#aa0000 72.5px,#980000 75.0px,#770000 77.0px,#580000 81.0px,#2c0000 91.0px,#1f0000 96.5px,#1b0000 100.5px,#0a0000 101.0px,#0f0000 119.5px,#170000 123.0px,#1d0000 126.0px,#350000 131.5px,#460000 133.5px,#5e0000 134.5px,#b00000 137.5px,#da0000 140.0px,#df0000 141.5px,#d50000 142.5px,#b20000 144.5px,#800000 146.5px,#570000 148.0px,#2c0000 151.0px,#170000 158.5px,#0b0000 168.5px,#0a0000 199.0px)"></div>
<div style="top:72px;height:2px;background:linear-gradient(90deg,#0a0000 0.0px,#0a0000 17.0px,#160000 18.0px,#420000 33.0px,#630000 43.0px,#810000 47.0px,#8c0000 50.5px,#980000 51.0px,#e00000 53.0px,#f80000 53.5px,#ff1000 54.0px,#ff4900 55.0px,#ff6a00 55.5px,#ff9f00 56.0px,#ffcc00 56.5px,#ffec00 57.0px,#ffff04 57.5px,#ffff2f 59.5px,#ffff2d 60.0px,#ffff07 62.0px,#ffde00 62.5px,#ffb600 63.0px,#ff4c00 64.0px,#ff1f00 64.5px,#fe0000 65.0px,#e80000 65.5px,#c90000 67.0px,#c00000 67.5px,#a90000 72.5px,#960000 75.0px,#760000 77.0px,#5a0000 80.5px,#2e0000 90.5px,#1f0000 96.5px,#1b0000 100.5px,#0a0000 101.0px,#0f0000 119.5px,#170000 123.0px,#1d0000 126.0px,#360000 131.5px,#460000 133.5px,#5f0000 134.5px,#b10000 137.5px,#d50000 139.5px,#e00000 141.5px,#cd0000 143.0px,#a60000 145.0px,#700000 147.0px,#560000 148.0px,#2c0000 151.0px,#170000 158.5px,#0b0000 168.0px,#0a0000 199.0px)"></div>
<div style="top:74px;height:2px;background:linear-gradient(90deg,#0a0000 0.0px,#0a0000 17.0px,#160000 18.0px,#420000 33.0px,#630000 43.0px,#810000 47.0px,#8c0000 50.5px,#ac0000 51.5px,#e20000 53.0px,#fa0000 53.5px,#ff1300 54.0px,#ff4b00 55.0px,#ff6f00 55.5px,#ffa500 56.0px,#ffcf00 56.5px,#ffef00 57.0px,#ffff05 57.5px,#ffff30 59.5px,#ffff2c 60.0px,#ffff10 61.5px,#ffff02 62.0px,#ffdb00 62.5px,#ffb000 63.0px,#ff4700 64.0px,#ff1900 64.5px,#fb0000 65.0px,#e50000 65.5px,#bd0000 67.5px,#aa0000 72.0px,#9b0000 74.5px,#740000 77.0px,#590000 80.5px,#2f0000 90.0px,#1f0000 96.0px,#1b0000 100.5px,#0a0000 101.0px,#0e0000 119.5px,#170000 123.0px,#1d0000 126.0px,#360000 131.5px,#460000 133.5px,#b20000 137.5px,#d60000 139.5px,#e00000 141.5px,#c60000 143.5px,#8d0000 146.0px,#600000 147.5px,#300000 150.5px,#1b0000 156.5px,#0b0000 168.0px,#0a0000 199.0px)"></div>
<div style="top:76px;height:2px;background:linear-gradient(90deg,#0a0000 0.0px,#0a0000 17.0px,#160000 18.0px,#420000 33.0px,#630000 43.0px,#810000 47.0px,#8d0000 50.5px,#d20000 52.5px,#fc0000 53.5px,#ff1500 54.0px,#ff4e00 55.0px,#ff7400 55.5px,#ffaa00 56.0px,#ffd200 56.5px,#fff200 57.0px,#ffff06 57.5px,#ffff31 59.5px,#ffff19 61.0px,#fffd00 62.0px,#ffd700 62.5px,#ffab00 63.0px,#ff4100 64.0px,#ff1400 64.5px,#f70000 65.0px,#e10000 65.5px,#bb0000 67.5px,#a90000 72.0px,#9a0000 74.5px,#730000 77.0px,#580000 80.5px,#2f0000 90.0px,#1f0000 96.0px,#1b0000 100.5px,#0a0000 101.0px,#0e0000 119.5px,#170000 123.0px,#1a0000 125.5px,#360000 131.5px,#470000 133.5px,#b40000 137.5px,#d70000 139.5px,#e10000 141.5px,#bb0000 144.0px,#8c0000 146.0px,#5f0000 147.5px,#2f0000 150.5px,#1a0000 157.0px,#0b0000 168.0px,#0a0000 199.0px)"></div>
<div style="top:78px;height:2px;background:linear-gradient(90deg,#0a0000 0.0px,#0a0000 17.0px,#140000 17.5px,#430000 33.0px,#640000 43.0px,#820000 47.0px,#8d0000 50.5px,#e70000 53.0px,#fe0000 53.5px,#ff5100 55.0px,#ff7900 55.5px,#ffaf00 56.0px,#ffd500 56.5px,#fff500 57.0px,#ffff07 57.5px,#ffff32 59.5px,#ffff0e 61.5px,#fff900 62.0px,#ffd400 62.5px,#ffa500 63.0px,#ff6d00 63.5px,#ff0e00 64.5px,#f40000 65.0px,#de0000 65.5px,#ba0000 67.5px,#a70000 72.0px,#980000 74.5px,#720000 77.0px,#570000 80.5px,#2f0000 90.0px,#1f0000 96.0px,#1b0000 100.5px,#0a0000 101.0px,#0e0000 119.5px,#160000 123.0px,#1b0000 125.5px,#320000 131.0px,#470000 133.5px,#b50000 137.5px,#d80000 139.5px,#e10000 141.5px,#bb0000 144.0px,#8b0000 146.0px,#5e0000 147.5px,#2f0000 150.5px,#1a0000 157.0px,#0b0000 167.5px,#0a0000 199.0px)"></div>
<div style="top:80px;height:2px;background:linear-gradient(90deg,#0a0000 0.0px,#0a0000 17.0px,#150000 17.5px,#410000 32.5px,#640000 43.0px,#820000 47.0px,#8d0000 50.5px,#e90000 53.0px,#ff0100 53.5px,#ff5400 55.0px,#ff7e00 55.5px,#ffb400 56.0px,#fff800 57.0px,#ffff08 57.5px,#ffff33 59.5px,#ffff0d 61.5px,#fff600 62.0px,#ffd000 62.5px,#ffa000 63.0px,#ff6700 63.5px,#ff0800 64.5px,#f10000 65.0px,#da0000 65.5px,#b80000 67.5px,#a90000 71.5px,#970000 74.5px,#750000 76.5px,#570000 80.5px,#300000 89.5px,#1f0000 96.0px,#1b0000 100.5px,#0a0000 101.0px,#0d0000 119.5px,#160000 123.5px,#1f0000 126.5px,#330000 131.0px,#470000 133.5px,#b70000 137.5px,#da0000 139.5px,#e20000 141.5px,#ba0000 144.0px,#8a0000 146.0px,#5d0000 147.5px,#2e0000 150.5px,#1a0000 157.0px,#0b0000 167.5px,#0a0000 199.0px)"></div>
<div style="top:82px;height:2px;background:linear-gradient(90deg,#0a0000 0.0px,#0b0000 17.0px,#150000 17.5px,#410000 32.5px,#640000 43.0px,#820000 47.0px,#8e0000 50.5px,#eb0000 53.0px,#ff0400 53.5px,#ff5600 55.0px,#ff8400 55.5px,#ffb900 56.0px,#fffb00 57.0px,#ffff1f 58.5px,#ffff32 59.5px,#ffff0c 61.5px,#fff200 62.0px,#ffcc00 62.5px,#ff9a00 63.0px,#ff6100 63.5px,#ff0400 64.5px,#d70000 65.5px,#b70000 67.5px,#a70000 71.5px,#950000 74.5px,#740000 76.5px,#560000 80.5px,#300000 89.5px,#1f0000 96.0px,#1c0000 100.0px,#0a0000 100.5px,#0f0000 120.0px,#160000 123.5px,#1d0000 126.0px,#330000 131.0px,#470000 133.5px,#b80000 137.5px,#db0000 139.5px,#e20000 141.5px,#b90000 144.0px,#890000 146.0px,#5c0000 147.5px,#2e0000 150.5px,#190000 157.5px,#0b0000 167.5px,#0a0000 199.0px)"></div>
<div style="top:84px;height:2px;background:linear-gradient(90deg,#0a0000 0.0px,#0c0000 17.0px,#160000 17.5px,#410000 32.5px,#650000 43.0px,#820000 47.0px,#900000 50.5px,#ee0000 53.0px,#ff0600 53.5px,#ff5900 55.0px,#ffbe00 56.0px,#fffe00 57.0px,#ffff31 59.5px,#ffff0b 61.5px,#ffee00 62.0px,#ffc900 62.5px,#ff5a00 63.5px,#ff0100 64.5px,#d50000 65.5px,#b50000 67.5px,#a60000 71.5px,#930000 74.5px,#730000 76.5px,#550000 80.5px,#300000 89.5px,#1f0000 96.0px,#1c0000 100.0px,#0a0000 100.5px,#0f0000 120.0px,#160000 123.5px,#1f0000 126.5px,#330000 131.0px,#480000 133.5px,#ad0000 137.0px,#c10000 138.0px,#db0000 139.5px,#e20000 141.5px,#b90000 144.0px,#880000 146.0px,#5b0000 147.5px,#2d0000 150.5px,#190000 157.5px,#0b0000 167.5px,#0a0000 199.0px)"></div>
<div style="top:86px;height:2px;background:linear-gradient(90deg,#0a0000 0.0px,#0d0000 17.0px,#160000 17.5px,#410000 32.5px,#650000 43.0px,#820000 47.0px,#8c0000 50.0px,#920000 50.5px,#f00000 53.0px,#ff0800 53.5px,#ff5c00 55.0px,#ffc200 56.0px,#ffff01 57.0px,#ffff2b 59.0px,#ffff30 59.5px,#ffff0a 61.5px,#ffeb00 62.0px,#ffc500 62.5px,#ff5500 63.5px,#ff2600 64.0px,#fd0000 64.5px,#d30000 65.5px,#b40000 67.5px,#a40000 71.5px,#910000 74.5px,#710000 76.5px,#540000 80.5px,#2f0000 89.5px,#1f0000 96.0px,#1b0000 100.0px,#0a0000 100.5px,#0e0000 120.0px,#160000 123.5px,#210000 127.0px,#330000 131.0px,#490000 133.5px,#ae0000 137.0px,#c20000 138.0px,#dc0000 139.5px,#e20000 141.5px,#b80000 144.0px,#870000 146.0px,#5a0000 147.5px,#2d0000 150.5px,#190000 157.5px,#0b0000 167.5px,#0a0000 199.0px)"></div>
<div style="top:88px;height:2px;background:linear-gradient(90deg,#0a0000 0.0px,#0a0000 16.5px,#170000 18.0px,#420000 32.5px,#620000 42.5px,#820000 47.0px,#8c0000 50.0px,#930000 50.5px,#dc0000 52.5px,#f20000 53.0px,#ff0a00 53.5px,#ff5f00 55.0px,#ffc500 56.0px,#ffff02 57.0px,#ffff2c 59.0px,#ffff30 59.5px,#ffff0a 61.5px,#ffe700 62.0px,#ffc100 62.5px,#ff5000 63.5px,#ff2100 64.0px,#f90000 64.5px,#d10000 65.5px,#b70000 67.0px,#9a0000 73.0px,#900000 74.5px,#700000 76.5px,#530000 80.5px,#2f0000 89.5px,#1f0000 96.0px,#1b0000 100.0px,#0a0000 100.5px,#0e0000 120.0px,#160000 124.0px,#330000 131.0px,#4a0000 133.5px,#af0000 137.0px,#d50000 139.0px,#dc0000 139.5px,#e20000 141.5px,#b80000 144.0px,#860000 146.0px,#5a0000 147.5px,#2d0000 150.5px,#190000 157.5px,#0b0000 167.5px,#0a0000 199.0px)"></div>
<div style="top:90px;height:2px;background:linear-gradient(90deg,#0a0000 0.0px,#0a0000 16.5px,#160000 17.5px,#420000 32.5px,#620000 42.5px,#830000 47.0px,#8c0000 50.0px,#950000 50.5px,#de0000 52.5px,#f40000 53.0px,#ff0d00 53.5px,#ff6300 55.0px,#ffc800 56.0px,#ffe800 56.5px,#ffff03 57.0px,#ffff2d 59.0px,#ffff2f 59.5px,#ffff09 61.5px,#ffe400 62.0px,#ffbd00 62.5px,#ff4a00 63.5px,#ff1b00 64.0px,#f60000 64.5px,#df0000 65.0px,#ce0000 65.5px,#b50000 67.0px,#9c0000 72.5px,#8e0000 74.5px,#6f0000 76.5px,#530000 80.5px,#2f0000 89.5px,#1f0000 96.0px,#1b0000 100.0px,#0a0000 100.5px,#0e0000 120.0px,#160000 124.0px,#340000 131.0px,#4b0000 133.5px,#b10000 137.0px,#dd0000 139.5px,#e20000 141.5px,#b70000 144.0px,#850000 146.0px,#590000 147.5px,#2d0000 150.5px,#180000 158.0px,#0b0000 168.0px,#0a0000 199.0px)"></div>
<div style="top:92px;height:2px;background:linear-gradient(90deg,#0a0000 0.0px,#0a0000 16.5px,#160000 17.5px,#420000 32.5px,#620000 42.5px,#830000 47.0px,#8c0000 50.0px,#970000 50.5px,#e00000 52.5px,#f70000 53.0px,#ff0f00 53.5px,#ff6800 55.0px,#ff9d00 55.5px,#ffcb00 56.0px,#ffeb00 56.5px,#ffff04 57.0px,#ffff2e 59.0px,#ffff2e 59.5px,#ffff08 61.5px,#ffe000 62.0px,#ffb700 62.5px,#ff4500 63.5px,#ff1500 64.0px,#f20000 64.5px,#db0000 65.0px,#cc0000 65.5px,#b30000 67.0px,#9d0000 72.0px,#8c0000 74.5px,#6e0000 76.5px,#520000 80.5px,#2d0000 90.0px,#1f0000 96.0px,#1b0000 100.0px,#0a0000 100.5px,#0d0000 120.0px,#1d0000 126.0px,#340000 131.0px,#440000 133.0px,#4d0000 133.5px,#b20000 137.0px,#de0000 139.5px,#e20000 141.5px,#c20000 143.5px,#930000 145.5px,#590000 147.5px,#2d0000 150.5px,#170000 158.0px,#0b0000 168.0px,#0a0000 199.0px)"></div>
<div style="top:94px;height:2px;background:linear-gradient(90deg,#0a0000 0.0px,#0a0000 16.5px,#160000 17.5px,#420000 32.5px,#630000 42.5px,#810000 46.5px,#8c0000 50.0px,#980000 50.5px,#e00000 52.5px,#f80000 53.0px,#ff1000 53.5px,#ff4900 54.5px,#ff6b00 55.0px,#ffa000 55.5px,#ffcd00 56.0px,#ffec00 56.5px,#ffff05 57.0px,#ffff2f 59.0px,#ffff2e 59.5px,#ffff08 61.5px,#ffde00 62.0px,#ffb400 62.5px,#ff4300 63.5px,#ff1300 64.0px,#f10000 64.5px,#da0000 65.0px,#c30000 66.0px,#b20000 67.0px,#9d0000 72.0px,#8b0000 74.5px,#6e0000 76.5px,#520000 80.5px,#2d0000 90.0px,#1f0000 96.0px,#1b0000 100.0px,#0a0000 100.5px,#0f0000 120.5px,#1b0000 125.5px,#340000 131.0px,#450000 133.0px,#4d0000 133.5px,#b30000 137.0px,#de0000 139.5px,#e20000 141.5px,#c20000 143.5px,#930000 145.5px,#590000 147.5px,#2d0000 150.5px,#170000 158.0px,#0b0000 167.5px,#0a0000 199.0px)"></div>
<div style="top:96px;height:2px;background:linear-gradient(90deg,#0a0000 0.0px,#0a0000 16.5px,#160000 17.5px,#420000 32.5px,#630000 42.5px,#810000 46.5px,#8c0000 50.0px,#980000 50.5px,#e00000 52.5px,#f80000 53.0px,#ff1000 53.5px,#ff4900 54.5px,#ff6b00 55.0px,#ffa000 55.5px,#ffcd00 56.0px,#ffed00 56.5px,#ffff06 57.0px,#ffff31 59.0px,#ffff2f 59.5px,#ffff09 61.5px,#ffdf00 62.0px,#ffb500 62.5px,#ff4400 63.5px,#ff1400 64.0px,#f20000 64.5px,#db0000 65.0px,#c40000 66.0px,#b30000 67.0px,#9e0000 72.0px,#8c0000 74.5px,#6e0000 76.5px,#520000 80.5px,#2d0000 90.0px,#1f0000 96.0px,#1b0000 100.0px,#0a0000 100.5px,#0e0000 120.5px,#1d0000 126.0px,#340000 131.0px,#450000 133.0px,#4e0000 133.5px,#b40000 137.0px,#df0000 139.5px,#e40000 141.0px,#da0000 142.0px,#b70000 144.0px,#830000 146.0px,#590000 147.5px,#2d0000 150.5px,#170000 158.0px,#0b0000 167.5px,#0a0000 199.0px)"></div>
<div style="top:98px;height:2px;background:linear-gradient(90deg,#0a0000 0.0px,#0a0000 16.5px,#160000 17.5px,#420000 32.5px,#630000 42.5px,#810000 46.5px,#8c0000 50.0px,#980000 50.5px,#e00000 52.5px,#f80000 53.0px,#ff1000 53.5px,#ff4900 54.5px,#ff6b00 55.0px,#ffa100 55.5px,#ffce00 56.0px,#ffee00 56.5px,#ffff07 57.0px,#ffff32 59.0px,#ffff31 59.5px,#ffff0a 61.5px,#ffe000 62.0px,#ffb600 62.5px,#ff4500 63.5px,#ff1500 64.0px,#f40000 64.5px,#dc0000 65.0px,#c60000 66.0px,#b40000 67.0px,#9f0000 72.0px,#8d0000 74.5px,#6f0000 76.5px,#530000 80.5px,#2d0000 90.0px,#1f0000 96.0px,#1b0000 100.0px,#0a0000 100.5px,#0e0000 120.5px,#1d0000 126.0px,#340000 131.0px,#450000 133.0px,#4e0000 133.5px,#b50000 137.0px,#df0000 139.5px,#e50000 141.0px,#db0000 142.0px,#b70000 144.0px,#840000 146.0px,#590000 147.5px,#2d0000 150.5px,#170000 158.0px,#0b0000 167.5px,#0a0000 199.0px)"></div>
<div style="top:100px;height:2px;background:linear-gradient(90deg,#0a0000 0.0px,#0a0000 16.5px,#160000 17.5px,#420000 32.5px,#630000 42.5px,#810000 46.5px,#8c0000 50.0px,#980000 50.5px,#e00000 52.5px,#f80000 53.0px,#ff1000 53.5px,#ff4a00 54.5px,#ff6b00 55.0px,#ffa100 55.5px,#ffce00 56.0px,#ffee00 56.5px,#ffff08 57.0px,#ffff34 59.0px,#ffff32 59.5px,#ffff0c 61.5px,#ffe100 62.0px,#ffb600 62.5px,#ff4600 63.5px,#ff1700 64.0px,#f50000 64.5px,#de0000 65.0px,#c70000 66.0px,#b50000 67.0px,#a00000 72.0px,#8e0000 74.5px,#700000 76.5px,#530000 80.5px,#2d0000 90.0px,#1f0000 96.0px,#1b0000 100.0px,#0a0000 100.5px,#0e0000 120.5px,#1d0000 126.0px,#340000 131.0px,#450000 133.0px,#5e0000 134.0px,#b50000 137.0px,#e00000 139.5px,#e50000 141.0px,#db0000 142.0px,#b70000 144.0px,#840000 146.0px,#590000 147.5px,#2d0000 150.5px,#170000 158.0px,#0b0000 167.5px,#0a0000 199.0px)"></div>
<div style="top:102px;height:2px;background:linear-gradient(90deg,#0a0000 0.0px,#0a0000 16.5px,#160000 17.5px,#420000 32.5px,#630000 42.5px,#810000 46.5px,#8c0000 50.0px,#980000 50.5px,#e00000 52.5px,#f80000 53.0px,#ff1000 53.5px,#ff4a00 54.5px,#ff6c00 55.0px,#ffa200 55.5px,#ffcf00 56.0px,#ffef00 56.5px,#ffff09 57.0px,#ffff35 59.0px,#ffff34 59.5px,#ffff0d 61.5px,#ffe100 62.0px,#ffb700 62.5px,#ff4700 63.5px,#ff1800 64.0px,#f60000 64.5px,#df0000 65.0px,#c80000 66.0px,#b70000 67.0px,#a10000 72.0px,#8f0000 74.5px,#700000 76.5px,#540000 80.5px,#2d0000 90.0px,#1f0000 96.0px,#1b0000 100.0px,#0a0000 100.5px,#0e0000 120.5px,#1d0000 126.0px,#340000 131.0px,#450000 133.0px,#5e0000 134.0px,#b60000 137.0px,#e00000 139.5px,#e60000 141.0px,#dc0000 142.0px,#b70000 144.0px,#840000 146.0px,#590000 147.5px,#2d0000 150.5px,#180000 158.0px,#0b0000 167.5px,#0a0000 199.0px)"></div>
<div style="top:104px;height:2px;background:linear-gradient(90deg,#0a0000 0.0px,#0a0000 16.5px,#160000 17.5px,#420000 32.5px,#630000 42.5px,#810000 46.5px,#8c0000 50.0px,#980000 50.5px,#e00000 52.5px,#f80000 53.0px,#ff1000 53.5px,#ff4a00 54.5px,#ff6c00 55.0px,#ffa200 55.5px,#ffcf00 56.0px,#fff000 56.5px,#ffff0b 57.0px,#ffff36 59.0px,#ffff35 59.5px,#ffff0e 61.5px,#ffe200 62.0px,#ffb800 62.5px,#ff4800 63.5px,#ff1900 64.0px,#f70000 64.5px,#e00000 65.0px,#c90000 66.0px,#b80000 67.0px,#a20000 72.0px,#900000 74.5px,#710000 76.5px,#540000 80.5px,#2d0000 90.0px,#1f0000 96.0px,#1b0000 100.0px,#0a0000 100.5px,#0d0000 120.5px,#1d0000 126.0px,#340000 131.0px,#450000 133.0px,#5e0000 134.0px,#b70000 137.0px,#e10000 139.5px,#e70000 141.0px,#dc0000 142.0px,#b70000 144.0px,#840000 146.0px,#590000 147.5px,#2d0000 150.5px,#180000 158.0px,#0b0000 167.5px,#0a0000 199.0px)"></div>
<div style="top:106px;height:2px;background:linear-gradient(90deg,#0a0000 0.0px,#0a0000 16.5px,#160000 17.5px,#420000 32.5px,#630000 42.5px,#810000 46.5px,#8c0000 50.0px,#980000 50.5px,#e00000 52.5px,#f80000 53.0px,#ff1000 53.5px,#ff4a00 54.5px,#ff6c00 55.0px,#ffa300 55.5px,#ffd000 56.0px,#fff000 56.5px,#ffff0c 57.0px,#ffff38 59.0px,#ffff36 59.5px,#ffff0f 61.5px,#ffe300 62.0px,#ffb900 62.5px,#ff4900 63.5px,#ff1a00 64.0px,#f90000 64.5px,#e20000 65.0px,#cb0000 66.0px,#b90000 67.0px,#a30000 72.0px,#910000 74.5px,#720000 76.5px,#540000 80.5px,#2d0000 90.0px,#1f0000 96.0px,#1b0000 100.0px,#0a0000 100.5px,#0f0000 121.0px,#1d0000 126.0px,#340000 131.0px,#450000 133.0px,#5f0000 134.0px,#b70000 137.0px,#e20000 139.5px,#e70000 141.0px,#dc0000 142.0px,#b80000 144.0px,#930000 145.5px,#650000 147.0px,#3a0000 149.5px,#2d0000 150.5px,#180000 158.0px,#0b0000 167.5px,#0a0000 199.0px)"></div>
<div style="top:108px;height:2px;background:linear-gradient(90deg,#0a0000 0.0px,#0a0000 16.5px,#160000 17.5px,#420000 32.5px,#630000 42.5px,#810000 46.5px,#8c0000 50.0px,#980000 50.5px,#e00000 52.5px,#f80000 53.0px,#ff1000 53.5px,#ff4a00 54.5px,#ff6d00 55.0px,#ffa300 55.5px,#ffd100 56.0px,#fff100 56.5px,#ffff0d 57.0px,#ffff39 59.0px,#ffff38 59.5px,#ffff10 61.5px,#ffe400 62.0px,#ffb900 62.5px,#ff4a00 63.5px,#ff1b00 64.0px,#fa0000 64.5px,#e30000 65.0px,#cc0000 66.0px,#ba0000 67.0px,#a40000 72.0px,#910000 74.5px,#720000 76.5px,#550000 80.5px,#2d0000 90.0px,#1f0000 96.0px,#1b0000 100.0px,#0a0000 100.5px,#0e0000 121.0px,#1d0000 126.0px,#340000 131.0px,#450000 133.0px,#5f0000 134.0px,#b80000 137.0px,#dd0000 139.0px,#e80000 141.0px,#d50000 142.5px,#ac0000 144.5px,#740000 146.5px,#590000 147.5px,#2d0000 150.5px,#180000 158.0px,#0b0000 167.5px,#0a0000 199.0px)"></div>
<div style="top:110px;height:2px;background:linear-gradient(90deg,#0a0000 0.0px,#0a0000 16.5px,#160000 17.5px,#420000 32.5px,#630000 42.5px,#810000 46.5px,#8c0000 50.0px,#980000 50.5px,#e00000 52.5px,#f80000 53.0px,#ff1100 53.5px,#ff4b00 54.5px,#ff6d00 55.0px,#ffa300 55.5px,#ffd100 56.0px,#fff200 56.5px,#ffff0e 57.0px,#ffff3b 59.0px,#ffff39 59.5px,#ffff12 61.5px,#ffe400 62.0px,#ffba00 62.5px,#ff4c00 63.5px,#ff1d00 64.0px,#fb0000 64.5px,#e40000 65.0px,#cd0000 66.0px,#bb0000 67.0px,#a40000 72.0px,#920000 74.5px,#730000 76.5px,#550000 80.5px,#2d0000 90.0px,#1f0000 96.0px,#1b0000 100.0px,#0a0000 100.5px,#0e0000 121.0px,#1d0000 126.0px,#340000 131.0px,#450000 133.0px,#5f0000 134.0px,#b90000 137.0px,#de0000 139.0px,#e80000 141.0px,#d50000 142.5px,#ad0000 144.5px,#740000 146.5px,#590000 147.5px,#2d0000 150.5px,#180000 158.0px,#0b0000 167.5px,#0a0000 199.0px)"></div>
<div style="top:112px;height:2px;background:linear-gradient(90deg,#0a0000 0.0px,#0a0000 16.5px,#160000 17.5px,#420000 32.5px,#630000 42.5px,#810000 46.5px,#8c0000 50.0px,#980000 50.5px,#e10000 52.5px,#f80000 53.0px,#ff1100 53.5px,#ff4b00 54.5px,#ff6d00 55.0px,#ffa400 55.5px,#ffd200 56.0px,#fff200 56.5px,#ffff0f 57.0px,#ffff3c 59.0px,#ffff3a 59.5px,#ffff13 61.5px,#ffe500 62.0px,#ffbb00 62.5px,#ff4d00 63.5px,#ff1e00 64.0px,#fc0000 64.5px,#e50000 65.0px,#ce0000 66.0px,#bc0000 67.0px,#a50000 72.0px,#930000 74.5px,#740000 76.5px,#560000 80.5px,#2e0000 90.0px,#1f0000 96.0px,#1b0000 100.0px,#0a0000 100.5px,#0e0000 121.0px,#1d0000 126.0px,#340000 131.0px,#450000 133.0px,#600000 134.0px,#b90000 137.0px,#de0000 139.0px,#e90000 141.0px,#d60000 142.5px,#ad0000 144.5px,#740000 146.5px,#590000 147.5px,#2e0000 150.5px,#190000 157.5px,#0b0000 167.5px,#0a0000 199.0px)"></div>
<div style="top:114px;height:2px;background:linear-gradient(90deg,#0a0000 0.0px,#0a0000 16.5px,#160000 17.5px,#420000 32.5px,#630000 42.5px,#810000 46.5px,#8c0000 50.0px,#980000 50.5px,#e10000 52.5px,#f80000 53.0px,#ff1100 53.5px,#ff4b00 54.5px,#ff6d00 55.0px,#ffa400 55.5px,#ffd200 56.0px,#fff300 56.5px,#ffff10 57.0px,#ffff3d 59.0px,#ffff3c 59.5px,#ffff14 61.5px,#ffe600 62.0px,#ffbb00 62.5px,#ff4e00 63.5px,#ff1f00 64.0px,#fd0000 64.5px,#e70000 65.0px,#d00000 66.0px,#bd0000 67.0px,#a60000 72.0px,#940000 74.5px,#740000 76.5px,#560000 80.5px,#2e0000 90.0px,#1f0000 96.0px,#1b0000 100.0px,#0a0000 100.5px,#0e0000 121.0px,#1d0000 126.0px,#340000 131.0px,#450000 133.0px,#600000 134.0px,#ba0000 137.0px,#df0000 139.0px,#ea0000 141.0px,#ce0000 143.0px,#930000 145.5px,#640000 147.0px,#320000 150.0px,#1c0000 156.0px,#0c0000 167.0px,#0a0000 199.0px)"></div>
<div style="top:116px;height:2px;background:linear-gradient(90deg,#0a0000 0.0px,#0a0000 16.5px,#160000 17.5px,#420000 32.5px,#620000 42.5px,#830000 47.0px,#8c0000 50.0px,#960000 50.5px,#de0000 52.5px,#f50000 53.0px,#ff0e00 53.5px,#ff6a00 55.0px,#ffd400 56.0px,#fff600 56.5px,#ffff1a 57.0px,#ffff4a 59.0px,#ffff4b 59.5px,#ffff22 61.5px,#fff200 62.0px,#ffc800 62.5px,#ff5800 63.5px,#ff2800 64.0px,#ff0400 64.5px,#dc0000 65.5px,#c00000 67.0px,#a80000 72.0px,#960000 74.5px,#750000 76.5px,#570000 80.5px,#2e0000 90.0px,#1f0000 96.0px,#1b0000 100.0px,#0a0000 100.5px,#0f0000 121.5px,#1c0000 126.0px,#340000 131.0px,#450000 133.0px,#600000 134.0px,#ba0000 137.0px,#df0000 139.0px,#ea0000 141.0px,#d70000 142.5px,#ae0000 144.5px,#750000 146.5px,#5a0000 147.5px,#2e0000 150.5px,#190000 157.5px,#0b0000 167.5px,#0a0000 199.0px)"></div>
<div style="top:118px;height:2px;background:linear-gradient(90deg,#0a0000 0.0px,#0a0000 16.5px,#170000 18.0px,#420000 32.5px,#620000 42.5px,#820000 47.0px,#8c0000 50.0px,#930000 50.5px,#dc0000 52.5px,#f30000 53.0px,#ff0c00 53.5px,#ff6700 55.0px,#ffd500 56.0px,#fff800 56.5px,#ffff24 57.0px,#ffff56 59.0px,#ffff5a 59.5px,#ffff30 61.5px,#fffe00 62.0px,#ffd500 62.5px,#ff6200 63.5px,#ff3200 64.0px,#ff0900 64.5px,#f10000 65.0px,#df0000 65.5px,#c20000 67.0px,#a30000 73.0px,#980000 74.5px,#770000 76.5px,#580000 80.5px,#2e0000 90.0px,#1f0000 96.0px,#1b0000 100.0px,#0a0000 100.5px,#0f0000 121.5px,#1c0000 126.0px,#340000 131.0px,#450000 133.0px,#5f0000 134.0px,#b90000 137.0px,#df0000 139.0px,#eb0000 141.0px,#e00000 142.0px,#ba0000 144.0px,#950000 145.5px,#660000 147.0px,#3b0000 149.5px,#2e0000 150.5px,#190000 157.5px,#0b0000 167.5px,#0a0000 199.0px)"></div>
<div style="top:120px;height:2px;background:linear-gradient(90deg,#0a0000 0.0px,#0d0000 17.0px,#160000 17.5px,#410000 32.5px,#650000 43.0px,#820000 47.0px,#8c0000 50.0px,#910000 50.5px,#f00000 53.0px,#ff0900 53.5px,#ff6500 55.0px,#ffd500 56.0px,#fffa00 56.5px,#ffff2d 57.0px,#ffff63 59.0px,#ffff69 59.5px,#ffff3e 61.5px,#ffff11 62.0px,#ffe100 62.5px,#ff6d00 63.5px,#ff0f00 64.5px,#f60000 65.0px,#e10000 65.5px,#be0000 67.5px,#ae0000 71.5px,#9a0000 74.5px,#780000 76.5px,#590000 80.5px,#2e0000 90.0px,#1f0000 96.0px,#1c0000 100.0px,#0a0000 100.5px,#0e0000 121.5px,#1c0000 126.0px,#340000 131.0px,#450000 133.0px,#5f0000 134.0px,#b90000 137.0px,#e50000 139.5px,#eb0000 141.0px,#e10000 142.0px,#bb0000 144.0px,#960000 145.5px,#5b0000 147.5px,#2e0000 150.5px,#190000 157.5px,#0b0000 167.5px,#0a0000 199.0px)"></div>
<div style="top:122px;height:2px;background:linear-gradient(90deg,#0a0000 0.0px,#0b0000 17.0px,#160000 17.5px,#410000 32.5px,#650000 43.0px,#820000 47.0px,#8f0000 50.5px,#ed0000 53.0px,#ff0700 53.5px,#ff6400 55.0px,#ff9800 55.5px,#ffd400 56.0px,#fffc00 56.5px,#ffff33 57.0px,#ffff56 58.0px,#ffff78 59.5px,#ffff4c 61.5px,#ffff24 62.0px,#ffec00 62.5px,#ffb600 63.0px,#ff7800 63.5px,#ff1500 64.5px,#fb0000 65.0px,#e40000 65.5px,#bf0000 67.5px,#af0000 71.5px,#9c0000 74.5px,#790000 76.5px,#5a0000 80.5px,#2f0000 90.0px,#1f0000 96.0px,#1c0000 100.0px,#0a0000 100.5px,#0e0000 121.5px,#1c0000 126.0px,#340000 131.0px,#450000 133.0px,#4e0000 133.5px,#b90000 137.0px,#e60000 139.5px,#ec0000 141.0px,#e10000 142.0px,#bc0000 144.0px,#870000 146.0px,#5b0000 147.5px,#2e0000 150.5px,#190000 157.5px,#0c0000 167.5px,#0a0000 199.0px)"></div>
<div style="top:124px;height:2px;background:linear-gradient(90deg,#0a0000 0.0px,#0a0000 17.0px,#150000 17.5px,#410000 32.5px,#640000 43.0px,#820000 47.0px,#8d0000 50.5px,#eb0000 53.0px,#ff0400 53.5px,#ff4000 54.5px,#ff6200 55.0px,#ff9400 55.5px,#ffd100 56.0px,#fffd00 56.5px,#ffff37 57.0px,#ffff51 57.5px,#ffff7c 59.0px,#ffff87 59.5px,#ffff5a 61.5px,#ffff38 62.0px,#fff800 62.5px,#ffc300 63.0px,#ff8500 63.5px,#ff1c00 64.5px,#ff0200 65.0px,#e80000 65.5px,#c10000 67.5px,#b10000 71.5px,#9e0000 74.5px,#7b0000 76.5px,#5b0000 80.5px,#2f0000 90.0px,#1f0000 96.0px,#1b0000 100.5px,#0a0000 101.0px,#0e0000 121.5px,#1c0000 126.0px,#330000 131.0px,#450000 133.0px,#4e0000 133.5px,#b90000 137.0px,#e60000 139.5px,#ea0000 141.5px,#c90000 143.5px,#980000 145.5px,#5c0000 147.5px,#2e0000 150.5px,#190000 157.5px,#0c0000 167.5px,#0a0000 199.0px)"></div>
<div style="top:126px;height:2px;background:linear-gradient(90deg,#0a0000 0.0px,#0a0000 17.0px,#140000 17.5px,#430000 33.0px,#640000 43.0px,#820000 47.0px,#8d0000 50.5px,#e80000 53.0px,#ff0200 53.5px,#ff3e00 54.5px,#ff6000 55.0px,#ff9000 55.5px,#ffce00 56.0px,#fffe00 56.5px,#ffff3a 57.0px,#ffff5b 57.5px,#ffff88 59.0px,#ffff93 59.5px,#ffff77 61.0px,#ffff69 61.5px,#ffff4b 62.0px,#ffff09 62.5px,#ffd000 63.0px,#ff9300 63.5px,#ff2600 64.5px,#ff0900 65.0px,#ee0000 65.5px,#c40000 67.5px,#b30000 71.5px,#a00000 74.5px,#780000 77.0px,#5c0000 80.5px,#2d0000 90.5px,#1f0000 96.0px,#1b0000 100.5px,#0a0000 101.0px,#0f0000 122.0px,#1b0000 126.0px,#330000 131.0px,#450000 133.0px,#4d0000 133.5px,#b80000 137.0px,#e00000 139.0px,#e90000 140.0px,#eb0000 141.5px,#ca0000 143.5px,#990000 145.5px,#5d0000 147.5px,#2f0000 150.5px,#190000 157.5px,#0c0000 167.5px,#0a0000 199.0px)"></div>
<div style="top:128px;height:2px;background:linear-gradient(90deg,#0a0000 0.0px,#0a0000 17.0px,#160000 18.0px,#420000 33.0px,#630000 43.0px,#810000 47.0px,#8c0000 50.5px,#bf0000 52.0px,#e50000 53.0px,#fe0000 53.5px,#ff1a00 54.0px,#ff5e00 55.0px,#ff8c00 55.5px,#ffcb00 56.0px,#ffff00 56.5px,#ffff3d 57.0px,#ffff64 57.5px,#ffff87 58.5px,#ffffa0 59.5px,#ffff91 60.5px,#ffff78 61.5px,#ffff5f 62.0px,#ffff1b 62.5px,#ffde00 63.0px,#ff6600 64.0px,#ff3100 64.5px,#ff1000 65.0px,#f40000 65.5px,#c70000 67.5px,#b30000 72.0px,#a30000 74.5px,#7a0000 77.0px,#5d0000 80.5px,#2e0000 90.5px,#1f0000 96.0px,#1b0000 100.5px,#0a0000 101.0px,#0f0000 122.0px,#1b0000 126.0px,#330000 131.0px,#4c0000 133.5px,#b80000 137.0px,#e00000 139.0px,#e90000 140.0px,#ec0000 141.5px,#cb0000 143.5px,#9a0000 145.5px,#5d0000 147.5px,#2f0000 150.5px,#190000 157.5px,#0c0000 167.5px,#0a0000 199.0px)"></div>
<div style="top:130px;height:2px;background:linear-gradient(90deg,#0a0000 0.0px,#0a0000 17.0px,#160000 18.0px,#420000 33.0px,#630000 43.0px,#810000 47.0px,#8c0000 50.5px,#ab0000 51.5px,#e20000 53.0px,#fb0000 53.5px,#ff1700 54.0px,#ff5b00 55.0px,#ff8700 55.5px,#ffc800 56.0px,#ffff00 56.5px,#ffff40 57.0px,#ffff6d 57.5px,#ffff93 58.5px,#ffffac 59.5px,#ffffaa 60.0px,#ffff86 61.5px,#ffff73 62.0px,#ffff2e 62.5px,#ffeb00 63.0px,#ff7200 64.0px,#ff3c00 64.5px,#ff1700 65.0px,#fb0000 65.5px,#d50000 67.0px,#cb0000 67.5px,#b50000 72.0px,#a50000 74.5px,#7c0000 77.0px,#5f0000 80.5px,#2e0000 90.5px,#1f0000 96.0px,#1b0000 100.5px,#0a0000 101.0px,#0f0000 122.0px,#1b0000 126.0px,#330000 131.0px,#4c0000 133.5px,#b80000 137.0px,#e00000 139.0px,#ea0000 140.0px,#ed0000 141.5px,#c00000 144.0px,#8b0000 146.0px,#5e0000 147.5px,#2f0000 150.5px,#190000 157.5px,#0c0000 167.5px,#0a0000 199.0px)"></div>
<div style="top:132px;height:2px;background:linear-gradient(90deg,#0a0000 0.0px,#0a0000 17.0px,#160000 18.0px,#420000 33.0px,#620000 43.0px,#830000 47.5px,#8c0000 50.5px,#960000 51.0px,#e00000 53.0px,#f80000 53.5px,#ff1400 54.0px,#ff5900 55.0px,#ff8200 55.5px,#ffc400 56.0px,#ffff01 56.5px,#ffff42 57.0px,#ffff75 57.5px,#ffff9e 58.5px,#ffffb9 59.5px,#ffffb9 60.0px,#ffff95 61.5px,#ffff83 62.0px,#fff900 63.0px,#ff7e00 64.0px,#ff4700 64.5px,#ff1e00 65.0px,#ff0300 65.5px,#d80000 67.0px,#ce0000 67.5px,#b50000 72.5px,#a10000 75.0px,#7e0000 77.0px,#600000 80.5px,#2e0000 90.5px,#1f0000 96.0px,#1b0000 100.5px,#0a0000 101.0px,#0e0000 122.0px,#1d0000 126.5px,#330000 131.0px,#4b0000 133.5px,#c50000 137.5px,#e80000 139.5px,#ee0000 141.5px,#c10000 144.0px,#8c0000 146.0px,#5e0000 147.5px,#2f0000 150.5px,#190000 157.5px,#0c0000 167.5px,#0a0000 199.0px)"></div>
<div style="top:134px;height:2px;background:linear-gradient(90deg,#0a0000 0.0px,#0a0000 17.0px,#160000 18.0px,#420000 33.0px,#620000 43.0px,#830000 47.5px,#8c0000 50.5px,#940000 51.0px,#de0000 53.0px,#f60000 53.5px,#ff1100 54.0px,#ff5600 55.0px,#ff7d00 55.5px,#ffff00 56.5px,#ffff44 57.0px,#ffff7d 57.5px,#ffffa8 58.5px,#ffffc4 59.5px,#ffffc7 60.0px,#ffffa4 61.5px,#ffff91 62.0px,#ffff55 62.5px,#ffff0b 63.0px,#ffc800 63.5px,#ff8900 64.0px,#ff5200 64.5px,#ff2500 65.0px,#ff0900 65.5px,#f50000 66.0px,#d20000 67.5px,#b40000 73.0px,#a40000 75.0px,#800000 77.0px,#620000 80.5px,#2d0000 91.0px,#1f0000 96.5px,#1b0000 100.5px,#0a0000 101.0px,#0e0000 122.0px,#1b0000 126.0px,#330000 131.0px,#4b0000 133.5px,#c50000 137.5px,#e90000 139.5px,#ef0000 141.5px,#c20000 144.0px,#8d0000 146.0px,#5f0000 147.5px,#2f0000 150.5px,#190000 157.5px,#0c0000 167.5px,#0a0000 199.0px)"></div>
<div style="top:136px;height:2px;background:linear-gradient(90deg,#0a0000 0.0px,#0d0000 17.5px,#160000 18.0px,#410000 33.0px,#660000 43.5px,#830000 47.5px,#8c0000 50.5px,#920000 51.0px,#dc0000 53.0px,#f30000 53.5px,#ff0f00 54.0px,#ff5300 55.0px,#ff7b00 55.5px,#fffe00 56.5px,#ffff84 57.5px,#ffffb1 58.5px,#ffffce 59.5px,#ffffd4 60.0px,#ffffb1 61.5px,#ffff9f 62.0px,#ffff67 62.5px,#ffff1c 63.0px,#ffd600 63.5px,#ff9500 64.0px,#ff5d00 64.5px,#ff2d00 65.0px,#ff1000 65.5px,#f90000 66.0px,#d60000 67.5px,#ce0000 68.5px,#bd0000 72.0px,#a70000 75.0px,#820000 77.0px,#600000 81.0px,#2d0000 91.0px,#1f0000 96.5px,#1c0000 100.5px,#0a0000 101.0px,#0e0000 122.0px,#1b0000 126.0px,#320000 131.0px,#4a0000 133.5px,#c60000 137.5px,#ea0000 139.5px,#f00000 141.5px,#cf0000 143.5px,#9f0000 145.5px,#5f0000 147.5px,#300000 150.5px,#1a0000 157.5px,#0c0000 167.5px,#0a0000 199.0px)"></div>
<div style="top:138px;height:2px;background:linear-gradient(90deg,#0a0000 0.0px,#0c0000 17.5px,#160000 18.0px,#410000 33.0px,#650000 43.5px,#830000 47.5px,#900000 51.0px,#da0000 53.0px,#f10000 53.5px,#ff0c00 54.0px,#ff5000 55.0px,#ff7900 55.5px,#ffb600 56.0px,#fffc00 56.5px,#ffff88 57.5px,#ffffa5 58.0px,#ffffcc 59.0px,#ffffe1 60.0px,#ffffbe 61.5px,#ffffac 62.0px,#ffff7a 62.5px,#ffff2e 63.0px,#ffe300 63.5px,#ffa100 64.0px,#ff3400 65.0px,#fe0000 66.0px,#da0000 67.5px,#d10000 68.5px,#c00000 72.0px,#ab0000 75.0px,#850000 77.0px,#650000 80.5px,#2d0000 91.0px,#1f0000 96.5px,#1c0000 100.5px,#0a0000 101.0px,#0f0000 122.5px,#1d0000 126.5px,#320000 131.0px,#4a0000 133.5px,#c60000 137.5px,#eb0000 139.5px,#f20000 141.5px,#d10000 143.5px,#a00000 145.5px,#600000 147.5px,#300000 150.5px,#1a0000 157.5px,#0c0000 167.5px,#0a0000 199.0px)"></div>
<div style="top:140px;height:2px;background:linear-gradient(90deg,#0a0000 0.0px,#0a0000 17.5px,#150000 18.0px,#410000 33.0px,#650000 43.5px,#830000 47.5px,#8e0000 51.0px,#ee0000 53.5px,#ff0900 54.0px,#ff2800 54.5px,#ff7600 55.5px,#ffb100 56.0px,#fff800 56.5px,#ffff43 57.0px,#ffff8a 57.5px,#ffffac 58.0px,#ffffd5 59.0px,#ffffee 60.0px,#ffffcc 61.5px,#ffffb9 62.0px,#ffff8d 62.5px,#ffff41 63.0px,#fff000 63.5px,#ffaf00 64.0px,#ff3c00 65.0px,#ff0400 66.0px,#d60000 68.0px,#c30000 72.0px,#ae0000 75.0px,#870000 77.0px,#660000 80.5px,#2e0000 91.0px,#1f0000 96.5px,#1c0000 100.5px,#0a0000 101.0px,#0f0000 122.5px,#1d0000 126.5px,#320000 131.0px,#490000 133.5px,#c60000 137.5px,#ec0000 139.5px,#f30000 141.5px,#d20000 143.5px,#a20000 145.5px,#610000 147.5px,#300000 150.5px,#1b0000 157.0px,#0c0000 167.5px,#0a0000 199.0px)"></div>
<div style="top:142px;height:2px;background:linear-gradient(90deg,#0a0000 0.0px,#0a0000 17.5px,#150000 18.0px,#410000 33.0px,#650000 43.5px,#830000 47.5px,#8e0000 51.0px,#ec0000 53.5px,#ff0700 54.0px,#ff2500 54.5px,#ff7300 55.5px,#ffac00 56.0px,#fff400 56.5px,#ffff43 57.0px,#ffff8b 57.5px,#ffffb3 58.0px,#ffffdf 59.0px,#fffff9 60.0px,#ffffd9 61.5px,#ffffc7 62.0px,#ffffa0 62.5px,#ffff53 63.0px,#fffd00 63.5px,#ff8000 64.5px,#ff4600 65.0px,#ff0a00 66.0px,#fb0000 66.5px,#d80000 68.0px,#c60000 72.0px,#b10000 75.0px,#890000 77.0px,#680000 80.5px,#2e0000 91.0px,#1f0000 96.5px,#1b0000 101.0px,#0a0000 101.5px,#0f0000 122.5px,#1d0000 126.5px,#320000 131.0px,#490000 133.5px,#c70000 137.5px,#ed0000 139.5px,#f50000 141.5px,#d40000 143.5px,#a30000 145.5px,#620000 147.5px,#300000 150.5px,#1b0000 157.0px,#0c0000 167.5px,#0a0000 199.0px)"></div>
<div style="top:144px;height:2px;background:linear-gradient(90deg,#0a0000 0.0px,#0a0000 17.5px,#170000 18.5px,#410000 33.0px,#640000 43.5px,#830000 47.5px,#8e0000 51.0px,#d40000 53.0px,#ff0400 54.0px,#ff2200 54.5px,#ff7000 55.5px,#ffa700 56.0px,#ffef00 56.5px,#ffff41 57.0px,#ffff8b 57.5px,#ffffba 58.0px,#ffffe9 59.0px,#fffff8 59.5px,#ffffff 60.0px,#fffffe 60.5px,#ffffe7 61.5px,#ffffd5 62.0px,#ffffb3 62.5px,#ffff66 63.0px,#ffff11 63.5px,#ffc900 64.0px,#ff5100 65.0px,#ff2d00 65.5px,#ff1100 66.0px,#ff0200 66.5px,#db0000 68.0px,#c90000 72.0px,#b30000 75.0px,#860000 77.5px,#660000 81.0px,#2c0000 91.5px,#1f0000 96.5px,#1b0000 101.0px,#0a0000 101.5px,#0e0000 122.5px,#1d0000 126.5px,#320000 131.0px,#490000 133.5px,#c70000 137.5px,#ee0000 139.5px,#f60000 141.5px,#d50000 143.5px,#a40000 145.5px,#620000 147.5px,#310000 150.5px,#1b0000 157.0px,#0c0000 167.5px,#0a0000 199.0px)"></div>
<div style="top:146px;height:2px;background:linear-gradient(90deg,#0a0000 0.0px,#0a0000 17.5px,#170000 18.5px,#410000 33.0px,#640000 43.5px,#830000 47.5px,#8e0000 51.0px,#d50000 53.0px,#ff0500 54.0px,#ff2200 54.5px,#ff7000 55.5px,#ffa700 56.0px,#ffee00 56.5px,#ffff3f 57.0px,#ffff87 57.5px,#ffffb5 58.0px,#ffffe2 59.0px,#fffffd 60.0px,#ffffed 61.0px,#ffffce 62.0px,#ffffac 62.5px,#ffff5f 63.0px,#ffff0b 63.5px,#ffc700 64.0px,#ff5000 65.0px,#ff2e00 65.5px,#ff1200 66.0px,#ff0300 66.5px,#dd0000 68.0px,#ca0000 72.0px,#b50000 75.0px,#8d0000 77.0px,#6a0000 80.5px,#2f0000 91.0px,#1f0000 96.5px,#1b0000 101.0px,#0a0000 101.5px,#0e0000 122.5px,#1d0000 126.5px,#320000 131.0px,#490000 133.5px,#c80000 137.5px,#ef0000 139.5px,#f70000 141.5px,#d60000 143.5px,#a50000 145.5px,#630000 147.5px,#310000 150.5px,#1b0000 157.0px,#0c0000 167.5px,#0a0000 199.0px)"></div>
<div style="top:148px;height:2px;background:linear-gradient(90deg,#0a0000 0.0px,#0a0000 17.5px,#140000 18.0px,#430000 33.5px,#650000 43.5px,#830000 47.5px,#8e0000 51.0px,#ea0000 53.5px,#ff0500 54.0px,#ff2300 54.5px,#ff7000 55.5px,#ffa600 56.0px,#ffed00 56.5px,#ffff3c 57.0px,#ffff83 57.5px,#ffffaf 58.0px,#ffffdb 59.0px,#fffff6 60.0px,#ffffe5 61.0px,#ffffc7 62.0px,#ffffa5 62.5px,#ffff59 63.0px,#ffff06 63.5px,#ff8900 64.5px,#ff5000 65.0px,#ff2e00 65.5px,#ff1300 66.0px,#ff0500 66.5px,#ea0000 67.5px,#df0000 68.0px,#cc0000 72.0px,#b60000 75.0px,#8e0000 77.0px,#6b0000 80.5px,#2f0000 91.0px,#1f0000 96.5px,#1b0000 101.0px,#0a0000 101.5px,#0e0000 122.5px,#1d0000 126.5px,#320000 131.0px,#490000 133.5px,#c90000 137.5px,#f00000 139.5px,#f80000 141.5px,#d70000 143.5px,#a60000 145.5px,#640000 147.5px,#310000 150.5px,#1b0000 157.0px,#0c0000 167.5px,#0a0000 199.0px)"></div>
<div style="top:150px;height:2px;background:linear-gradient(90deg,#0a0000 0.0px,#0a0000 17.5px,#140000 18.0px,#430000 33.5px,#650000 43.5px,#830000 47.5px,#8e0000 51.0px,#eb0000 53.5px,#ff0600 54.0px,#ff2400 54.5px,#ff7000 55.5px,#ffa600 56.0px,#ffed00 56.5px,#ffff39 57.0px,#ffff80 57.5px,#ffffaa 58.0px,#ffffd5 59.0px,#ffffef 60.0px,#ffffde 61.0px,#ffffc0 62.0px,#ffff9e 62.5px,#ffff52 63.0px,#ffff00 63.5px,#ff4f00 65.0px,#ff1400 66.0px,#ff0600 66.5px,#f80000 67.0px,#e10000 68.0px,#cd0000 72.0px,#b80000 75.0px,#8f0000 77.0px,#6c0000 80.5px,#2f0000 91.0px,#1f0000 96.5px,#1b0000 101.0px,#0a0000 101.5px,#0f0000 123.0px,#2c0000 130.0px,#490000 133.5px,#c90000 137.5px,#f10000 139.5px,#f90000 141.5px,#d80000 143.5px,#a70000 145.5px,#650000 147.5px,#320000 150.5px,#1b0000 157.0px,#0c0000 167.5px,#0a0000 199.0px)"></div>
<div style="top:152px;height:2px;background:linear-gradient(90deg,#0a0000 0.0px,#0a0000 17.5px,#140000 18.0px,#430000 33.5px,#650000 43.5px,#830000 47.5px,#8f0000 51.0px,#ec0000 53.5px,#ff0700 54.0px,#ff2400 54.5px,#ff7000 55.5px,#ffa600 56.0px,#ffec00 56.5px,#ffff36 57.0px,#ffff7c 57.5px,#ffffa4 58.0px,#ffffce 59.0px,#ffffe8 60.0px,#ffffd7 61.0px,#ffffb9 62.0px,#ffff96 62.5px,#fffc00 63.5px,#ff4f00 65.0px,#ff1500 66.0px,#f90000 67.0px,#e20000 68.0px,#cf0000 72.0px,#b90000 75.0px,#900000 77.0px,#6c0000 80.5px,#2f0000 91.0px,#1f0000 96.5px,#1c0000 101.0px,#0a0000 101.5px,#0f0000 123.0px,#2e0000 130.5px,#490000 133.5px,#ca0000 137.5px,#f20000 139.5px,#fa0000 141.5px,#d90000 143.5px,#a80000 145.5px,#650000 147.5px,#320000 150.5px,#1c0000 157.0px,#0c0000 167.5px,#0a0000 199.0px)"></div>
<div style="top:154px;height:2px;background:linear-gradient(90deg,#0a0000 0.0px,#0a0000 17.5px,#140000 18.0px,#440000 33.5px,#650000 43.5px,#840000 47.5px,#8f0000 51.0px,#ec0000 53.5px,#ff0700 54.0px,#ff2500 54.5px,#ff7000 55.5px,#ffa600 56.0px,#ffeb00 56.5px,#ffff33 57.0px,#ffff78 57.5px,#ffff9f 58.0px,#ffffc8 59.0px,#ffffe2 60.0px,#ffffc3 61.5px,#ffffb2 62.0px,#ffff8f 62.5px,#ffff45 63.0px,#fff800 63.5px,#ff4e00 65.0px,#ff1600 66.0px,#fb0000 67.0px,#e40000 68.0px,#d00000 72.0px,#ba0000 75.0px,#910000 77.0px,#6d0000 80.5px,#2f0000 91.0px,#1f0000 96.5px,#1c0000 101.0px,#0a0000 101.5px,#0f0000 123.0px,#2e0000 130.5px,#490000 133.5px,#ca0000 137.5px,#f30000 139.5px,#fb0000 141.5px,#db0000 143.5px,#a90000 145.5px,#660000 147.5px,#320000 150.5px,#1c0000 157.0px,#0c0000 167.5px,#0a0000 199.0px)"></div>
<div style="top:156px;height:2px;background:linear-gradient(90deg,#0a0000 0.0px,#0a0000 17.5px,#140000 18.0px,#440000 33.5px,#650000 43.5px,#840000 47.5px,#8f0000 51.0px,#ed0000 53.5px,#ff0800 54.0px,#ff2500 54.5px,#ff7000 55.5px,#ffa600 56.0px,#ffea00 56.5px,#ffff30 57.0px,#ffff74 57.5px,#ffff99 58.0px,#ffffc1 59.0px,#ffffdb 60.0px,#ffffbc 61.5px,#ffffab 62.0px,#ffff88 62.5px,#ffff3f 63.0px,#fff500 63.5px,#ff4e00 65.0px,#ff1700 66.0px,#fc0000 67.0px,#e60000 68.0px,#d20000 72.0px,#bc0000 75.0px,#920000 77.0px,#6e0000 80.5px,#2f0000 91.0px,#1f0000 96.5px,#1c0000 101.0px,#0a0000 101.5px,#0e0000 123.0px,#2e0000 130.5px,#490000 133.5px,#cb0000 137.5px,#f30000 139.5px,#fc0000 141.5px,#dc0000 143.5px,#aa0000 145.5px,#670000 147.5px,#330000 150.5px,#1d0000 156.5px,#0c0000 167.5px,#0a0000 199.0px)"></div>
<div style="top:158px;height:2px;background:linear-gradient(90deg,#0a0000 0.0px,#0a0000 17.5px,#150000 18.0px,#420000 33.0px,#660000 43.5px,#840000 47.5px,#8f0000 51.0px,#ee0000 53.5px,#ff0900 54.0px,#ff2600 54.5px,#ff7000 55.5px,#ffa500 56.0px,#ffe900 56.5px,#ffff2d 57.0px,#ffff70 57.5px,#ffff94 58.0px,#ffffba 59.0px,#ffffd4 60.0px,#ffffb5 61.5px,#ffffa4 62.0px,#ffff81 62.5px,#ffff38 63.0px,#fff100 63.5px,#ff4d00 65.0px,#ff1800 66.0px,#fe0000 67.0px,#e70000 68.0px,#d40000 72.0px,#bd0000 75.0px,#930000 77.0px,#6f0000 80.5px,#2f0000 91.0px,#1f0000 96.5px,#1c0000 101.0px,#0a0000 101.5px,#0e0000 123.0px,#2e0000 130.5px,#490000 133.5px,#cb0000 137.5px,#f40000 139.5px,#fe0000 141.5px,#dd0000 143.5px,#ab0000 145.5px,#670000 147.5px,#330000 150.5px,#1d0000 156.5px,#0c0000 167.5px,#0a0000 199.0px)"></div>
<div style="top:160px;height:2px;background:linear-gradient(90deg,#0a0000 0.0px,#0a0000 17.5px,#150000 18.0px,#420000 33.0px,#660000 43.5px,#840000 47.5px,#8f0000 51.0px,#ee0000 53.5px,#ff0900 54.0px,#ff4900 55.0px,#ff6e00 55.5px,#ffa400 56.0px,#ffe600 56.5px,#ffff27 57.0px,#ffff68 57.5px,#ffff8a 58.0px,#ffffaf 59.0px,#ffffc8 60.0px,#ffffa9 61.5px,#ffff99 62.0px,#ffff76 62.5px,#ffff2e 63.0px,#ffec00 63.5px,#ff4c00 65.0px,#ff1900 66.0px,#ff0000 67.0px,#e90000 68.0px,#d50000 72.0px,#be0000 75.0px,#930000 77.0px,#6f0000 80.5px,#2f0000 91.0px,#1f0000 96.5px,#1c0000 101.0px,#0a0000 101.5px,#0e0000 123.0px,#290000 129.5px,#3b0000 132.0px,#490000 133.5px,#cc0000 137.5px,#f50000 139.5px,#fe0000 141.5px,#de0000 143.5px,#ac0000 145.5px,#680000 147.5px,#330000 150.5px,#1d0000 156.5px,#0c0000 167.5px,#0a0000 199.0px)"></div>
<div style="top:162px;height:2px;background:linear-gradient(90deg,#0a0000 0.0px,#0a0000 17.5px,#150000 18.0px,#420000 33.0px,#660000 43.5px,#840000 47.5px,#8f0000 51.0px,#ee0000 53.5px,#ff0900 54.0px,#ff4800 55.0px,#ff6d00 55.5px,#ffa200 56.0px,#ffe400 56.5px,#ffff20 57.0px,#ffff60 57.5px,#ffff81 58.0px,#ffffa4 59.0px,#ffffbd 60.0px,#ffff9d 61.5px,#ffff8e 62.0px,#ffff6b 62.5px,#ffff24 63.0px,#ffe600 63.5px,#ff4a00 65.0px,#ff1900 66.0px,#ff0200 67.0px,#ea0000 68.0px,#da0000 71.5px,#bf0000 75.0px,#940000 77.0px,#700000 80.5px,#2f0000 91.0px,#1f0000 96.5px,#1c0000 101.0px,#0a0000 101.5px,#0f0000 123.5px,#320000 131.0px,#4a0000 133.5px,#cc0000 137.5px,#f60000 139.5px,#ff0000 141.5px,#df0000 143.5px,#ac0000 145.5px,#690000 147.5px,#330000 150.5px,#1d0000 156.5px,#0c0000 167.5px,#0a0000 199.0px)"></div>
<div style="top:164px;height:2px;background:linear-gradient(90deg,#0a0000 0.0px,#0a0000 17.5px,#150000 18.0px,#420000 33.0px,#660000 43.5px,#840000 47.5px,#8f0000 51.0px,#ef0000 53.5px,#ff0900 54.0px,#ff4800 55.0px,#ff6c00 55.5px,#ffa000 56.0px,#ffe100 56.5px,#ffff1a 57.0px,#ffff58 57.5px,#ffff77 58.0px,#ffffa6 59.5px,#ffffb1 60.0px,#ffff92 61.5px,#ffff83 62.0px,#ffff60 62.5px,#ffff1a 63.0px,#ffe100 63.5px,#ff4900 65.0px,#ff1a00 66.0px,#ff0300 67.0px,#eb0000 68.0px,#db0000 71.5px,#c00000 75.0px,#950000 77.0px,#700000 80.5px,#2f0000 91.0px,#200000 96.0px,#1c0000 101.0px,#0a0000 101.5px,#0f0000 123.5px,#320000 131.0px,#4a0000 133.5px,#cd0000 137.5px,#f70000 139.5px,#ff0100 141.5px,#e00000 143.5px,#ad0000 145.5px,#690000 147.5px,#340000 150.5px,#1d0000 156.5px,#0c0000 167.5px,#0a0000 199.0px)"></div>
<div style="top:166px;height:2px;background:linear-gradient(90deg,#0a0000 0.0px,#0a0000 17.5px,#150000 18.0px,#420000 33.0px,#660000 43.5px,#840000 47.5px,#8f0000 51.0px,#ef0000 53.5px,#ff0900 54.0px,#ff4700 55.0px,#ff6b00 55.5px,#ff9e00 56.0px,#ffde00 56.5px,#ffff14 57.0px,#ffff50 57.5px,#ffff6d 58.0px,#ffff9b 59.5px,#ffffa6 60.0px,#ffff86 61.5px,#ffff78 62.0px,#ffff55 62.5px,#ffff10 63.0px,#ffdc00 63.5px,#ff4700 65.0px,#ff1a00 66.0px,#ff0400 67.0px,#ed0000 68.0px,#dc0000 71.5px,#c10000 75.0px,#950000 77.0px,#710000 80.5px,#2f0000 91.0px,#200000 96.0px,#1c0000 101.0px,#0a0000 101.5px,#0f0000 123.5px,#320000 131.0px,#4a0000 133.5px,#cd0000 137.5px,#f70000 139.5px,#ff0200 141.5px,#e90000 143.0px,#bb0000 145.0px,#8c0000 146.5px,#6a0000 147.5px,#340000 150.5px,#1d0000 156.5px,#0c0000 167.5px,#0a0000 199.0px)"></div>
<div style="top:168px;height:2px;background:linear-gradient(90deg,#0a0000 0.0px,#0a0000 17.5px,#160000 18.0px,#420000 33.0px,#660000 43.5px,#840000 47.5px,#8f0000 51.0px,#ef0000 53.5px,#ff0900 54.0px,#ff4700 55.0px,#ff6900 55.5px,#ff9d00 56.0px,#ffdb00 56.5px,#ffff0d 57.0px,#ffff48 57.5px,#ffff63 58.0px,#ffff8f 59.5px,#ffff9a 60.0px,#ffff6d 62.0px,#ffff4a 62.5px,#ffff07 63.0px,#ffd600 63.5px,#ff4600 65.0px,#ff1b00 66.0px,#ff0500 67.0px,#ee0000 68.0px,#de0000 71.5px,#c20000 75.0px,#960000 77.0px,#720000 80.5px,#2f0000 91.0px,#200000 96.0px,#1c0000 101.0px,#0a0000 101.5px,#0f0000 123.5px,#320000 131.0px,#4a0000 133.5px,#ce0000 137.5px,#f80000 139.5px,#ff0300 141.5px,#f30000 142.5px,#d60000 144.0px,#9f0000 146.0px,#6b0000 147.5px,#340000 150.5px,#1d0000 156.5px,#0c0000 167.5px,#0a0000 199.0px)"></div>
<div style="top:170px;height:2px;background:linear-gradient(90deg,#0a0000 0.0px,#0a0000 17.5px,#160000 18.0px,#420000 33.0px,#660000 43.5px,#840000 47.5px,#8f0000 51.0px,#ef0000 53.5px,#ff0900 54.0px,#ff4600 55.0px,#ff6800 55.5px,#ff9b00 56.0px,#ffd900 56.5px,#ffff09 57.0px,#ffff43 57.5px,#ffff5e 58.0px,#ffff89 59.5px,#ffff94 60.0px,#ffff67 62.0px,#ffff44 62.5px,#ffff02 63.0px,#ffd300 63.5px,#ff4300 65.0px,#ff1900 66.0px,#ff0300 67.0px,#ec0000 68.0px,#dc0000 71.5px,#c10000 75.0px,#950000 77.0px,#710000 80.5px,#2f0000 91.0px,#200000 96.0px,#1c0000 101.0px,#0a0000 101.5px,#0e0000 123.5px,#320000 131.0px,#4a0000 133.5px,#ce0000 137.5px,#f90000 139.5px,#ff0400 141.5px,#fd0000 142.0px,#d60000 144.0px,#9f0000 146.0px,#6b0000 147.5px,#350000 150.5px,#1e0000 156.5px,#0c0000 167.5px,#0a0000 199.0px)"></div>
<div style="top:172px;height:2px;background:linear-gradient(90deg,#0a0000 0.0px,#0a0000 17.5px,#160000 18.0px,#420000 33.0px,#660000 43.5px,#840000 47.5px,#8f0000 51.0px,#ef0000 53.5px,#ff0900 54.0px,#ff4500 55.0px,#ff6700 55.5px,#ff9900 56.0px,#ffd700 56.5px,#ffff05 57.0px,#ffff3e 57.5px,#ffff58 58.0px,#ffff82 59.5px,#ffff8d 60.0px,#ffff61 62.0px,#ffff3f 62.5px,#fffd00 63.0px,#ff4100 65.0px,#ff1600 66.0px,#ff0100 67.0px,#ea0000 68.0px,#da0000 71.5px,#bf0000 75.0px,#940000 77.0px,#700000 80.5px,#2f0000 91.0px,#200000 96.0px,#1c0000 101.0px,#0a0000 101.5px,#0f0000 124.0px,#320000 131.0px,#4a0000 133.5px,#cf0000 137.5px,#fa0000 139.5px,#ff0500 141.5px,#fe0000 142.0px,#d70000 144.0px,#a00000 146.0px,#6b0000 147.5px,#350000 150.5px,#1e0000 156.5px,#0c0000 167.5px,#0a0000 199.0px)"></div>
<div style="top:174px;height:2px;background:linear-gradient(90deg,#0a0000 0.0px,#0a0000 17.5px,#160000 18.0px,#420000 33.0px,#660000 43.5px,#840000 47.5px,#8f0000 51.0px,#ef0000 53.5px,#ff0900 54.0px,#ff4500 55.0px,#ff6600 55.5px,#ff9800 56.0px,#ffd500 56.5px,#ffff01 57.0px,#ffff39 57.5px,#ffff53 58.0px,#ffff87 60.0px,#ffff5b 62.0px,#ffff39 62.5px,#fffa00 63.0px,#ff3e00 65.0px,#ff1400 66.0px,#fe0000 67.0px,#e90000 68.0px,#d80000 71.5px,#be0000 75.0px,#930000 77.0px,#6f0000 80.5px,#2f0000 91.0px,#200000 96.0px,#1c0000 101.0px,#0a0000 101.5px,#0f0000 124.0px,#320000 131.0px,#4a0000 133.5px,#d00000 137.5px,#fb0000 139.5px,#ff0600 141.5px,#fe0000 142.0px,#d80000 144.0px,#a00000 146.0px,#6c0000 147.5px,#350000 150.5px,#1e0000 156.5px,#0c0000 167.5px,#0a0000 199.0px)"></div>
<div style="top:176px;height:2px;background:linear-gradient(90deg,#0a0000 0.0px,#0a0000 17.5px,#160000 18.0px,#420000 33.0px,#660000 43.5px,#840000 47.5px,#8f0000 51.0px,#ef0000 53.5px,#ff0900 54.0px,#ff4400 55.0px,#ff6500 55.5px,#ff9600 56.0px,#ffd200 56.5px,#fffd00 57.0px,#ffff35 57.5px,#ffff4d 58.0px,#ffff81 60.0px,#ffff55 62.0px,#ffff34 62.5px,#fff700 63.0px,#ff3b00 65.0px,#ff1100 66.0px,#fc0000 67.0px,#e70000 68.0px,#d70000 71.5px,#bc0000 75.0px,#920000 77.0px,#6e0000 80.5px,#2f0000 91.0px,#200000 96.0px,#1c0000 101.0px,#0a0000 101.5px,#0f0000 124.0px,#320000 131.0px,#4a0000 133.5px,#d10000 137.5px,#fc0000 139.5px,#ff0700 141.5px,#ff0000 142.0px,#d90000 144.0px,#a10000 146.0px,#6c0000 147.5px,#350000 150.5px,#1e0000 156.5px,#0c0000 167.5px,#0a0000 199.0px)"></div>
</div>
<div class="hm" style="left:302.5px;top:6px;width:199.5px;height:178px">
<div style="top:0px;height:2px;background:linear-gradient(90deg,#0a0000 0.0px,#0a0000 32.0px,#150000 33.0px,#1b0000 46.0px,#300000 51.5px,#6b0000 54.5px,#bd0000 57.0px,#f50000 59.5px,#f80000 60.0px,#d10000 62.5px,#8d0000 65.0px,#7c0000 66.5px,#5a0000 72.5px,#3e0000 76.0px,#220000 81.0px,#0a0000 84.0px,#0e0000 107.0px,#1c0000 118.5px,#390000 130.5px,#4e0000 133.5px,#570000 134.0px,#cd0000 137.5px,#e80000 139.5px,#bd0000 142.5px,#7b0000 145.5px,#500000 148.0px,#310000 152.5px,#170000 170.0px,#0a0000 178.0px,#0a0000 199.5px)"></div>
<div style="top:2px;height:2px;background:linear-gradient(90deg,#0a0000 0.0px,#0a0000 32.0px,#150000 32.5px,#1b0000 46.0px,#310000 51.5px,#6d0000 54.5px,#be0000 57.0px,#f60000 59.5px,#f70000 60.0px,#d00000 62.5px,#8c0000 65.0px,#7b0000 66.5px,#590000 72.5px,#3d0000 76.0px,#220000 81.0px,#0a0000 84.0px,#0e0000 107.0px,#1c0000 118.5px,#390000 130.5px,#4e0000 133.5px,#580000 134.0px,#cd0000 137.5px,#e70000 139.5px,#bc0000 142.5px,#7b0000 145.5px,#500000 148.0px,#310000 152.5px,#170000 170.0px,#0a0000 178.0px,#0a0000 199.5px)"></div>
<div style="top:4px;height:2px;background:linear-gradient(90deg,#0a0000 0.0px,#0a0000 32.0px,#150000 32.5px,#1b0000 46.0px,#320000 51.5px,#6e0000 54.5px,#bf0000 57.0px,#f60000 59.5px,#f70000 60.0px,#cf0000 62.5px,#8c0000 65.0px,#770000 67.0px,#590000 72.5px,#3d0000 76.0px,#260000 80.5px,#0a0000 84.0px,#0e0000 107.0px,#1c0000 118.5px,#3a0000 130.5px,#4e0000 133.5px,#6a0000 134.5px,#ce0000 137.5px,#e60000 139.5px,#bb0000 142.5px,#7a0000 145.5px,#500000 148.0px,#310000 152.5px,#170000 170.5px,#0a0000 178.0px,#0a0000 199.5px)"></div>
<div style="top:6px;height:2px;background:linear-gradient(90deg,#0a0000 0.0px,#0c0000 32.0px,#150000 32.5px,#1c0000 46.0px,#330000 51.5px,#630000 54.0px,#9e0000 56.0px,#c00000 57.0px,#f70000 59.5px,#f00000 60.5px,#ce0000 62.5px,#8b0000 65.0px,#730000 67.5px,#590000 72.5px,#3d0000 76.0px,#260000 80.5px,#0a0000 84.0px,#0e0000 107.0px,#1c0000 118.5px,#3a0000 130.5px,#4e0000 133.5px,#7c0000 135.0px,#ce0000 137.5px,#e50000 139.5px,#ba0000 142.5px,#7a0000 145.5px,#500000 148.0px,#310000 152.5px,#170000 170.5px,#0a0000 178.0px,#0a0000 199.5px)"></div>
<div style="top:8px;height:2px;background:linear-gradient(90deg,#0a0000 0.0px,#0a0000 31.5px,#150000 32.5px,#1c0000 46.0px,#2f0000 51.0px,#500000 53.0px,#710000 54.5px,#c20000 57.0px,#f80000 59.5px,#f00000 60.5px,#cd0000 62.5px,#8a0000 65.0px,#700000 68.0px,#590000 72.5px,#3b0000 76.5px,#220000 81.0px,#0a0000 84.0px,#0e0000 106.5px,#1b0000 118.0px,#370000 130.0px,#4f0000 133.5px,#ce0000 137.5px,#e40000 139.5px,#b90000 142.5px,#7a0000 145.5px,#500000 148.0px,#310000 152.5px,#170000 170.5px,#0a0000 178.0px,#0a0000 199.5px)"></div>
<div style="top:10px;height:2px;background:linear-gradient(90deg,#0a0000 0.0px,#0a0000 31.5px,#150000 32.5px,#1c0000 46.0px,#2f0000 51.0px,#650000 54.0px,#c30000 57.0px,#f90000 59.5px,#e70000 61.0px,#cb0000 62.5px,#890000 65.0px,#700000 68.0px,#590000 72.5px,#3d0000 76.0px,#250000 80.5px,#0a0000 84.0px,#0e0000 106.5px,#1b0000 118.0px,#370000 130.0px,#4f0000 133.5px,#ce0000 137.5px,#e30000 139.5px,#b90000 142.5px,#790000 145.5px,#500000 148.0px,#310000 152.5px,#170000 170.5px,#0a0000 178.5px,#0a0000 199.5px)"></div>
<div style="top:12px;height:2px;background:linear-gradient(90deg,#0a0000 0.0px,#0a0000 31.5px,#130000 32.0px,#1c0000 46.0px,#2f0000 51.0px,#660000 54.0px,#c40000 57.0px,#f90000 59.5px,#de0000 61.5px,#ca0000 62.5px,#890000 65.0px,#6d0000 68.5px,#580000 72.5px,#3d0000 76.0px,#250000 80.5px,#0a0000 84.0px,#0e0000 106.5px,#1b0000 118.0px,#380000 130.0px,#4f0000 133.5px,#ce0000 137.5px,#e00000 139.0px,#e20000 139.5px,#b80000 142.5px,#790000 145.5px,#4f0000 148.0px,#310000 152.5px,#170000 171.0px,#0a0000 178.5px,#0a0000 199.5px)"></div>
<div style="top:14px;height:2px;background:linear-gradient(90deg,#0a0000 0.0px,#0a0000 31.5px,#150000 32.0px,#1b0000 45.5px,#2f0000 51.0px,#670000 54.0px,#c40000 57.0px,#f80000 59.5px,#d40000 62.0px,#880000 65.0px,#6d0000 68.5px,#580000 72.5px,#3d0000 76.0px,#250000 80.5px,#0a0000 84.0px,#0e0000 106.5px,#1c0000 118.0px,#380000 130.0px,#4f0000 133.5px,#cd0000 137.5px,#df0000 139.0px,#e00000 139.5px,#b70000 142.5px,#790000 145.5px,#4f0000 148.0px,#2f0000 153.0px,#0e0000 175.0px,#0a0000 182.5px,#0a0000 199.5px)"></div>
<div style="top:16px;height:2px;background:linear-gradient(90deg,#0a0000 0.0px,#0a0000 31.5px,#150000 32.0px,#1b0000 45.5px,#300000 51.0px,#680000 54.0px,#c30000 57.0px,#ee0000 59.0px,#f50000 59.5px,#d20000 62.0px,#870000 65.0px,#6d0000 68.5px,#5d0000 72.0px,#3d0000 76.0px,#250000 80.5px,#0a0000 84.0px,#0e0000 106.5px,#1c0000 118.0px,#380000 130.0px,#500000 133.5px,#bf0000 137.0px,#cb0000 137.5px,#dc0000 139.0px,#dd0000 139.5px,#b50000 142.5px,#700000 146.0px,#4f0000 148.0px,#2f0000 153.0px,#0e0000 175.0px,#0a0000 181.5px,#0a0000 199.5px)"></div>
<div style="top:18px;height:2px;background:linear-gradient(90deg,#0a0000 0.0px,#0c0000 31.5px,#150000 32.0px,#1b0000 45.5px,#300000 51.0px,#690000 54.0px,#c20000 57.0px,#ec0000 59.0px,#f20000 59.5px,#d00000 62.0px,#860000 65.0px,#6b0000 69.0px,#580000 72.5px,#3d0000 76.0px,#250000 80.5px,#0a0000 84.0px,#0e0000 106.5px,#1c0000 118.0px,#380000 130.0px,#500000 133.5px,#bd0000 137.0px,#c90000 137.5px,#d90000 139.0px,#d90000 139.5px,#b40000 142.5px,#700000 146.0px,#4f0000 148.0px,#2f0000 153.0px,#0d0000 175.5px,#0a0000 199.5px)"></div>
<div style="top:20px;height:2px;background:linear-gradient(90deg,#0a0000 0.0px,#0a0000 31.0px,#150000 32.0px,#1b0000 45.5px,#300000 51.0px,#6a0000 54.0px,#c10000 57.0px,#ea0000 59.0px,#ef0000 59.5px,#cd0000 62.0px,#850000 65.0px,#6b0000 69.0px,#580000 72.5px,#3d0000 76.0px,#250000 80.5px,#0a0000 84.0px,#0e0000 106.5px,#1c0000 118.0px,#380000 130.0px,#510000 133.5px,#bc0000 137.0px,#c70000 137.5px,#d70000 139.0px,#d00000 140.0px,#b20000 142.5px,#700000 146.0px,#4f0000 148.0px,#2f0000 153.0px,#0d0000 175.5px,#0a0000 193.5px,#0a0000 199.5px)"></div>
<div style="top:22px;height:2px;background:linear-gradient(90deg,#0a0000 0.0px,#0a0000 31.0px,#150000 32.0px,#1b0000 45.5px,#310000 51.0px,#6b0000 54.0px,#b60000 56.5px,#e80000 59.0px,#ec0000 59.5px,#cb0000 62.0px,#850000 65.0px,#6b0000 69.0px,#5c0000 72.0px,#3d0000 76.0px,#250000 80.5px,#0a0000 84.0px,#0e0000 106.5px,#1c0000 118.0px,#390000 130.0px,#520000 133.5px,#bb0000 137.0px,#ca0000 138.0px,#d40000 139.0px,#ce0000 140.0px,#b10000 142.5px,#700000 146.0px,#4f0000 148.0px,#2f0000 153.0px,#0e0000 175.5px,#0a0000 188.0px,#0a0000 199.5px)"></div>
<div style="top:24px;height:2px;background:linear-gradient(90deg,#0a0000 0.0px,#0a0000 31.0px,#150000 32.0px,#1c0000 45.5px,#320000 51.0px,#6c0000 54.0px,#b50000 56.5px,#e60000 59.0px,#e90000 59.5px,#c90000 62.0px,#840000 65.0px,#6b0000 69.0px,#5c0000 72.0px,#3d0000 76.0px,#250000 80.5px,#0a0000 84.0px,#0e0000 106.0px,#1c0000 118.0px,#390000 130.0px,#520000 133.5px,#b90000 137.0px,#c70000 138.0px,#d10000 139.0px,#cb0000 140.0px,#af0000 142.5px,#680000 146.5px,#4f0000 148.0px,#2f0000 153.0px,#0e0000 175.5px,#0a0000 185.0px,#0a0000 199.5px)"></div>
<div style="top:26px;height:2px;background:linear-gradient(90deg,#0a0000 0.0px,#0a0000 31.0px,#140000 31.5px,#1c0000 45.5px,#330000 51.0px,#6c0000 54.0px,#b50000 56.5px,#e30000 59.0px,#e60000 59.5px,#c70000 62.0px,#840000 65.0px,#690000 69.5px,#580000 72.5px,#3d0000 76.0px,#250000 80.5px,#0a0000 84.0px,#0e0000 106.0px,#1c0000 118.0px,#390000 130.0px,#530000 133.5px,#b80000 137.0px,#c50000 138.0px,#cf0000 139.0px,#c30000 140.5px,#ae0000 142.5px,#680000 146.5px,#4f0000 148.0px,#2f0000 153.0px,#0e0000 175.5px,#0a0000 184.5px,#0a0000 199.5px)"></div>
<div style="top:28px;height:2px;background:linear-gradient(90deg,#0a0000 0.0px,#0a0000 31.0px,#150000 31.5px,#1c0000 45.5px,#340000 51.0px,#6d0000 54.0px,#b40000 56.5px,#e10000 59.0px,#e30000 59.5px,#c50000 62.0px,#830000 65.0px,#680000 69.5px,#580000 72.5px,#3d0000 76.0px,#250000 80.5px,#0a0000 84.0px,#0e0000 106.0px,#1b0000 117.5px,#390000 130.0px,#4c0000 133.0px,#530000 133.5px,#b60000 137.0px,#cc0000 139.0px,#b40000 142.0px,#4f0000 148.0px,#2f0000 153.0px,#0e0000 175.5px,#0a0000 184.5px,#0a0000 199.5px)"></div>
<div style="top:30px;height:2px;background:linear-gradient(90deg,#0a0000 0.0px,#0b0000 31.0px,#150000 31.5px,#1b0000 45.0px,#2f0000 50.5px,#620000 53.5px,#b30000 56.5px,#df0000 59.0px,#db0000 60.0px,#c30000 62.0px,#830000 65.0px,#680000 69.5px,#570000 72.5px,#3d0000 76.0px,#250000 80.5px,#0a0000 84.0px,#0e0000 106.0px,#1b0000 117.5px,#390000 130.0px,#4c0000 133.0px,#540000 133.5px,#b50000 137.0px,#c90000 139.0px,#ab0000 142.5px,#4f0000 148.0px,#2f0000 153.0px,#0e0000 175.5px,#0a0000 183.5px,#0a0000 199.5px)"></div>
<div style="top:32px;height:2px;background:linear-gradient(90deg,#0a0000 0.0px,#0a0000 30.5px,#150000 31.5px,#1b0000 45.0px,#2f0000 50.5px,#620000 53.5px,#b20000 56.5px,#dd0000 59.0px,#d80000 60.0px,#c10000 62.0px,#820000 65.0px,#680000 69.5px,#570000 72.5px,#3d0000 76.0px,#250000 80.5px,#0a0000 84.0px,#0e0000 106.0px,#1c0000 117.5px,#3a0000 130.0px,#4c0000 133.0px,#540000 133.5px,#a70000 136.5px,#ba0000 137.5px,#c60000 139.0px,#aa0000 142.5px,#4f0000 148.0px,#2f0000 153.0px,#0e0000 175.5px,#0a0000 183.0px,#0a0000 199.5px)"></div>
<div style="top:34px;height:2px;background:linear-gradient(90deg,#0a0000 0.0px,#0a0000 30.5px,#150000 31.5px,#1b0000 45.0px,#2f0000 50.5px,#630000 53.5px,#b20000 56.5px,#db0000 59.0px,#d10000 60.5px,#bf0000 62.0px,#820000 65.0px,#660000 70.0px,#570000 72.5px,#3d0000 76.0px,#250000 80.5px,#0a0000 84.0px,#0e0000 106.0px,#1c0000 117.5px,#3a0000 130.0px,#4c0000 133.0px,#550000 133.5px,#a70000 136.5px,#ba0000 137.5px,#c60000 139.0px,#a90000 142.5px,#4f0000 148.0px,#2f0000 153.0px,#0e0000 175.5px,#0a0000 182.5px,#0a0000 199.5px)"></div>
<div style="top:36px;height:2px;background:linear-gradient(90deg,#0a0000 0.0px,#0a0000 30.5px,#150000 31.5px,#1b0000 45.0px,#2f0000 50.5px,#640000 53.5px,#b10000 56.5px,#da0000 59.0px,#c40000 61.5px,#b20000 62.5px,#810000 65.0px,#660000 70.0px,#570000 72.5px,#3d0000 76.0px,#250000 80.5px,#0a0000 84.0px,#0e0000 106.0px,#1c0000 117.5px,#3a0000 130.0px,#4d0000 133.0px,#650000 134.0px,#b50000 137.0px,#c90000 139.0px,#aa0000 142.5px,#500000 148.0px,#2f0000 153.0px,#0d0000 176.0px,#0a0000 199.5px)"></div>
<div style="top:38px;height:2px;background:linear-gradient(90deg,#0a0000 0.0px,#0a0000 30.5px,#130000 31.0px,#1b0000 45.0px,#300000 50.5px,#650000 53.5px,#b10000 56.5px,#d80000 59.0px,#bc0000 62.0px,#810000 65.0px,#660000 70.0px,#570000 72.5px,#3d0000 76.0px,#250000 80.5px,#0a0000 84.0px,#0e0000 105.5px,#1c0000 117.5px,#370000 129.5px,#4d0000 133.0px,#660000 134.0px,#b70000 137.0px,#cb0000 139.0px,#ab0000 142.5px,#500000 148.0px,#2f0000 153.0px,#0d0000 176.0px,#0a0000 193.5px,#0a0000 199.5px)"></div>
<div style="top:40px;height:2px;background:linear-gradient(90deg,#0a0000 0.0px,#0a0000 30.5px,#150000 31.0px,#1b0000 45.0px,#300000 50.5px,#660000 53.5px,#b00000 56.5px,#d70000 59.0px,#ba0000 62.0px,#870000 64.5px,#6e0000 68.0px,#5b0000 72.0px,#3d0000 76.0px,#250000 80.5px,#0a0000 84.0px,#0e0000 105.5px,#1c0000 117.5px,#370000 129.5px,#4d0000 133.0px,#760000 134.5px,#b90000 137.0px,#cd0000 139.0px,#ac0000 142.5px,#600000 147.0px,#4c0000 148.5px,#2f0000 153.5px,#0e0000 176.0px,#0a0000 188.0px,#0a0000 199.5px)"></div>
<div style="top:42px;height:2px;background:linear-gradient(90deg,#0a0000 0.0px,#0b0000 30.5px,#150000 31.0px,#1c0000 45.0px,#310000 50.5px,#660000 53.5px,#b00000 56.5px,#d50000 59.0px,#b80000 62.0px,#870000 64.5px,#6c0000 68.5px,#5b0000 72.0px,#3d0000 76.0px,#250000 80.5px,#0a0000 84.0px,#0e0000 105.5px,#1c0000 117.5px,#370000 129.5px,#4d0000 133.0px,#bb0000 137.0px,#d00000 139.0px,#ad0000 142.5px,#680000 146.5px,#500000 148.0px,#300000 153.0px,#0e0000 176.0px,#0a0000 185.5px,#0a0000 199.5px)"></div>
<div style="top:44px;height:2px;background:linear-gradient(90deg,#0a0000 0.0px,#0c0000 30.5px,#150000 31.0px,#1c0000 45.0px,#310000 50.5px,#670000 53.5px,#af0000 56.5px,#d40000 59.0px,#b70000 62.0px,#860000 64.5px,#6c0000 68.5px,#5b0000 72.0px,#3d0000 76.0px,#250000 80.5px,#0a0000 84.0px,#0e0000 105.5px,#1c0000 117.5px,#380000 129.5px,#4e0000 133.0px,#be0000 137.0px,#d20000 139.0px,#ae0000 142.5px,#680000 146.5px,#500000 148.0px,#300000 153.0px,#0e0000 176.0px,#0a0000 186.0px,#0a0000 199.5px)"></div>
<div style="top:46px;height:2px;background:linear-gradient(90deg,#0a0000 0.0px,#0a0000 30.0px,#150000 31.0px,#1c0000 45.0px,#320000 50.5px,#680000 53.5px,#a60000 56.0px,#d20000 59.0px,#b50000 62.0px,#850000 64.5px,#6a0000 69.0px,#570000 72.5px,#3d0000 76.0px,#250000 80.5px,#0a0000 84.0px,#0e0000 105.5px,#1b0000 117.0px,#380000 129.5px,#4e0000 133.0px,#c00000 137.0px,#d50000 139.0px,#ae0000 142.5px,#700000 146.0px,#500000 148.0px,#300000 153.0px,#0e0000 176.0px,#0a0000 185.5px,#0a0000 199.5px)"></div>
<div style="top:48px;height:2px;background:linear-gradient(90deg,#0a0000 0.0px,#0a0000 30.0px,#150000 31.0px,#1b0000 44.5px,#320000 50.5px,#680000 53.5px,#a60000 56.0px,#d00000 59.0px,#b40000 62.0px,#850000 64.5px,#6a0000 69.0px,#570000 72.5px,#3d0000 76.0px,#250000 80.5px,#0a0000 84.0px,#0e0000 105.5px,#1b0000 117.0px,#380000 129.5px,#4e0000 133.0px,#c20000 137.0px,#d70000 139.0px,#b80000 142.0px,#6f0000 146.0px,#500000 148.0px,#300000 153.0px,#0e0000 176.0px,#0a0000 184.5px,#0a0000 199.5px)"></div>
<div style="top:50px;height:2px;background:linear-gradient(90deg,#0a0000 0.0px,#0a0000 30.0px,#150000 31.0px,#1b0000 44.5px,#330000 50.5px,#690000 53.5px,#a60000 56.0px,#ce0000 59.0px,#b30000 62.0px,#840000 64.5px,#6a0000 69.0px,#570000 72.5px,#3d0000 76.0px,#220000 81.0px,#0a0000 84.0px,#0e0000 105.5px,#1c0000 117.0px,#380000 129.5px,#4f0000 133.0px,#c50000 137.0px,#da0000 139.0px,#b90000 142.0px,#6f0000 146.0px,#500000 148.0px,#300000 153.0px,#0e0000 176.0px,#0a0000 184.0px,#0a0000 199.5px)"></div>
<div style="top:52px;height:2px;background:linear-gradient(90deg,#0a0000 0.0px,#0a0000 30.0px,#130000 30.5px,#1c0000 45.0px,#2f0000 50.0px,#5f0000 53.0px,#a50000 56.0px,#cc0000 59.0px,#b10000 62.0px,#840000 64.5px,#6a0000 69.0px,#570000 72.5px,#3d0000 76.0px,#220000 81.0px,#0a0000 84.0px,#0e0000 105.0px,#1c0000 117.0px,#390000 129.5px,#4f0000 133.0px,#c70000 137.0px,#dc0000 139.0px,#ba0000 142.0px,#6f0000 146.0px,#4f0000 148.0px,#300000 153.0px,#0e0000 176.0px,#0a0000 183.5px,#0a0000 199.5px)"></div>
<div style="top:54px;height:2px;background:linear-gradient(90deg,#0a0000 0.0px,#0a0000 30.0px,#150000 30.5px,#1b0000 44.5px,#2f0000 50.0px,#6a0000 53.5px,#a60000 56.0px,#cb0000 59.0px,#b10000 62.0px,#840000 64.5px,#680000 69.5px,#570000 72.5px,#3d0000 76.0px,#220000 81.0px,#0a0000 84.0px,#0e0000 105.0px,#1c0000 117.0px,#390000 129.5px,#500000 133.0px,#c90000 137.0px,#de0000 139.0px,#ba0000 142.0px,#770000 145.5px,#4f0000 148.0px,#300000 153.0px,#0e0000 176.0px,#0a0000 183.0px,#0a0000 199.5px)"></div>
<div style="top:56px;height:2px;background:linear-gradient(90deg,#0a0000 0.0px,#0b0000 30.0px,#150000 30.5px,#1b0000 44.5px,#2f0000 50.0px,#6b0000 53.5px,#a60000 56.0px,#cc0000 59.0px,#b10000 62.0px,#830000 64.5px,#680000 69.5px,#570000 72.5px,#3d0000 76.0px,#220000 81.0px,#0a0000 84.0px,#0e0000 105.0px,#1c0000 117.0px,#390000 129.5px,#510000 133.0px,#cb0000 137.0px,#df0000 139.0px,#bb0000 142.0px,#770000 145.5px,#4f0000 148.0px,#300000 153.0px,#0e0000 176.0px,#0a0000 183.5px,#0a0000 199.5px)"></div>
<div style="top:58px;height:2px;background:linear-gradient(90deg,#0a0000 0.0px,#0d0000 30.0px,#150000 30.5px,#1b0000 44.5px,#2f0000 50.0px,#6c0000 53.5px,#a70000 56.0px,#c90000 58.5px,#cc0000 59.0px,#b10000 62.0px,#830000 64.5px,#680000 69.5px,#570000 72.5px,#3d0000 76.0px,#230000 81.0px,#0a0000 84.0px,#0e0000 105.0px,#1c0000 117.0px,#390000 129.5px,#520000 133.0px,#cc0000 137.0px,#e10000 139.0px,#bc0000 142.0px,#760000 145.5px,#4f0000 148.0px,#2f0000 153.0px,#0e0000 176.0px,#0a0000 184.0px,#0a0000 199.5px)"></div>
<div style="top:60px;height:2px;background:linear-gradient(90deg,#0a0000 0.0px,#0a0000 29.5px,#150000 30.5px,#1b0000 44.5px,#2f0000 50.0px,#6d0000 53.5px,#a80000 56.0px,#ca0000 58.5px,#c90000 59.5px,#b10000 62.0px,#830000 64.5px,#680000 69.5px,#570000 72.5px,#3d0000 76.0px,#230000 81.0px,#0a0000 84.0px,#0e0000 105.0px,#1c0000 117.0px,#390000 129.5px,#530000 133.0px,#ce0000 137.0px,#e30000 139.0px,#bc0000 142.0px,#760000 145.5px,#4f0000 148.0px,#2f0000 153.0px,#0e0000 176.0px,#0a0000 184.0px,#0a0000 199.5px)"></div>
<div style="top:62px;height:2px;background:linear-gradient(90deg,#0a0000 0.0px,#0a0000 29.5px,#150000 30.5px,#1c0000 44.5px,#2f0000 50.0px,#6e0000 53.5px,#a90000 56.0px,#cb0000 58.5px,#ca0000 59.5px,#b10000 62.0px,#830000 64.5px,#680000 69.5px,#570000 72.5px,#3d0000 76.0px,#230000 81.0px,#0a0000 84.0px,#0e0000 105.0px,#1c0000 117.0px,#3a0000 129.5px,#540000 133.0px,#d00000 137.0px,#e50000 139.0px,#bd0000 142.0px,#760000 145.5px,#4f0000 148.0px,#2f0000 153.0px,#0e0000 176.0px,#0a0000 184.5px,#0a0000 199.5px)"></div>
<div style="top:64px;height:2px;background:linear-gradient(90deg,#0a0000 0.0px,#0a0000 29.5px,#130000 30.0px,#1c0000 44.5px,#300000 50.0px,#6f0000 53.5px,#aa0000 56.0px,#cc0000 58.5px,#ca0000 59.5px,#b10000 62.0px,#830000 64.5px,#680000 69.5px,#570000 72.5px,#3d0000 76.0px,#230000 81.0px,#100000 83.5px,#0a0000 84.5px,#0e0000 105.0px,#1c0000 117.0px,#3a0000 129.5px,#4d0000 132.5px,#550000 133.0px,#d20000 137.0px,#e60000 139.0px,#bd0000 142.0px,#760000 145.5px,#4e0000 148.0px,#2f0000 153.0px,#0e0000 176.0px,#0a0000 185.0px,#0a0000 199.5px)"></div>
<div style="top:66px;height:2px;background:linear-gradient(90deg,#0a0000 0.0px,#0a0000 29.5px,#150000 30.0px,#1c0000 44.5px,#300000 50.0px,#700000 53.5px,#aa0000 56.0px,#cd0000 58.5px,#cb0000 59.5px,#b90000 61.5px,#830000 64.5px,#680000 69.5px,#570000 72.5px,#3d0000 76.0px,#230000 81.0px,#100000 83.5px,#0a0000 84.5px,#0e0000 105.0px,#1c0000 117.0px,#3a0000 129.5px,#4e0000 132.5px,#550000 133.0px,#d40000 137.0px,#e70000 138.5px,#e80000 139.0px,#be0000 142.0px,#750000 145.5px,#4e0000 148.0px,#2f0000 153.0px,#0e0000 176.0px,#0a0000 185.5px,#0a0000 199.5px)"></div>
<div style="top:68px;height:2px;background:linear-gradient(90deg,#0a0000 0.0px,#0b0000 29.5px,#150000 30.0px,#1b0000 44.0px,#310000 50.0px,#650000 53.0px,#ab0000 56.0px,#cf0000 58.5px,#c70000 60.0px,#ba0000 61.5px,#830000 64.5px,#680000 69.5px,#570000 72.5px,#3d0000 76.0px,#230000 81.0px,#100000 83.5px,#0a0000 84.5px,#0e0000 105.0px,#1c0000 117.0px,#3a0000 129.5px,#4e0000 132.5px,#560000 133.0px,#c90000 136.5px,#d60000 137.0px,#e90000 138.5px,#ea0000 139.0px,#be0000 142.0px,#750000 145.5px,#4e0000 148.0px,#2f0000 153.0px,#0e0000 176.0px,#0a0000 186.0px,#0a0000 199.5px)"></div>
<div style="top:70px;height:2px;background:linear-gradient(90deg,#0a0000 0.0px,#0d0000 29.5px,#150000 30.0px,#1b0000 44.0px,#310000 50.0px,#650000 53.0px,#ab0000 56.0px,#ce0000 58.5px,#c60000 60.0px,#b90000 61.5px,#830000 64.5px,#680000 69.5px,#570000 72.5px,#3d0000 76.0px,#240000 81.0px,#110000 83.5px,#0a0000 84.5px,#0e0000 105.0px,#1c0000 117.0px,#370000 129.0px,#4e0000 132.5px,#580000 133.0px,#ca0000 136.5px,#dc0000 137.5px,#e90000 138.5px,#e90000 139.0px,#bd0000 142.0px,#740000 145.5px,#4e0000 148.0px,#2f0000 153.0px,#0e0000 176.0px,#0a0000 186.5px,#0a0000 199.5px)"></div>
<div style="top:72px;height:2px;background:linear-gradient(90deg,#0a0000 0.0px,#0a0000 29.0px,#150000 30.0px,#1b0000 44.0px,#320000 50.0px,#660000 53.0px,#ab0000 56.0px,#cd0000 58.5px,#c10000 60.5px,#b00000 62.0px,#820000 64.5px,#660000 70.0px,#530000 73.0px,#3b0000 76.5px,#200000 81.5px,#0a0000 84.5px,#0e0000 105.0px,#1c0000 117.0px,#370000 129.0px,#4e0000 132.5px,#690000 133.5px,#cb0000 136.5px,#dd0000 137.5px,#e90000 138.5px,#e10000 139.5px,#bc0000 142.0px,#7c0000 145.0px,#4d0000 148.0px,#2f0000 153.0px,#0e0000 176.0px,#0a0000 186.5px,#0a0000 199.5px)"></div>
<div style="top:74px;height:2px;background:linear-gradient(90deg,#0a0000 0.0px,#0a0000 29.0px,#150000 30.0px,#1b0000 44.0px,#330000 50.0px,#660000 53.0px,#aa0000 56.0px,#cc0000 58.5px,#b70000 61.5px,#820000 64.5px,#660000 70.0px,#530000 73.0px,#3b0000 76.5px,#210000 81.5px,#0a0000 84.5px,#0e0000 105.0px,#1b0000 116.5px,#380000 129.0px,#4f0000 132.5px,#6a0000 133.5px,#cc0000 136.5px,#e90000 138.5px,#e00000 139.5px,#bb0000 142.0px,#7b0000 145.0px,#4d0000 148.0px,#2f0000 153.0px,#0e0000 176.0px,#0a0000 187.5px,#0a0000 199.5px)"></div>
<div style="top:76px;height:2px;background:linear-gradient(90deg,#0a0000 0.0px,#0a0000 29.0px,#150000 30.0px,#1b0000 44.0px,#330000 50.0px,#670000 53.0px,#aa0000 56.0px,#cb0000 58.5px,#b60000 61.5px,#820000 64.5px,#660000 70.0px,#530000 73.0px,#3b0000 76.5px,#210000 81.5px,#0a0000 84.5px,#0e0000 105.0px,#1b0000 116.5px,#380000 129.0px,#4f0000 132.5px,#9c0000 135.0px,#ce0000 136.5px,#e90000 138.5px,#cb0000 141.0px,#a40000 143.0px,#720000 145.5px,#4d0000 148.0px,#2f0000 153.0px,#0e0000 176.0px,#0a0000 190.5px,#0a0000 199.5px)"></div>
<div style="top:78px;height:2px;background:linear-gradient(90deg,#0a0000 0.0px,#0a0000 29.0px,#140000 29.5px,#1b0000 44.0px,#2f0000 49.5px,#5d0000 52.5px,#a90000 56.0px,#ca0000 58.5px,#b60000 61.5px,#820000 64.5px,#660000 70.0px,#530000 73.0px,#3b0000 76.5px,#210000 81.5px,#0a0000 84.5px,#0e0000 105.0px,#1c0000 116.5px,#380000 129.0px,#4f0000 132.5px,#cf0000 136.5px,#ea0000 138.5px,#c30000 141.5px,#7a0000 145.0px,#4d0000 148.0px,#2f0000 153.0px,#0d0000 176.0px,#0a0000 195.5px,#0a0000 199.5px)"></div>
<div style="top:80px;height:2px;background:linear-gradient(90deg,#0a0000 0.0px,#0a0000 29.0px,#150000 29.5px,#1b0000 44.0px,#2f0000 49.5px,#680000 53.0px,#a90000 56.0px,#c90000 58.5px,#b50000 61.5px,#820000 64.5px,#640000 70.5px,#470000 74.5px,#1e0000 82.0px,#0a0000 84.5px,#0e0000 105.0px,#1c0000 116.5px,#380000 129.0px,#4f0000 132.5px,#d00000 136.5px,#ea0000 138.5px,#c20000 141.5px,#790000 145.0px,#510000 147.5px,#300000 152.5px,#0d0000 176.0px,#0a0000 199.5px)"></div>
<div style="top:82px;height:2px;background:linear-gradient(90deg,#0a0000 0.0px,#0c0000 29.0px,#150000 29.5px,#1c0000 44.0px,#2f0000 49.5px,#680000 53.0px,#a10000 55.5px,#c80000 58.5px,#b40000 61.5px,#810000 64.5px,#640000 70.5px,#470000 74.5px,#1e0000 82.0px,#0a0000 84.5px,#0e0000 105.0px,#1c0000 116.5px,#390000 129.0px,#500000 132.5px,#d10000 136.5px,#ea0000 138.5px,#c20000 141.5px,#790000 145.0px,#500000 147.5px,#300000 152.5px,#0e0000 175.5px,#0a0000 182.0px,#0a0000 199.5px)"></div>
<div style="top:84px;height:2px;background:linear-gradient(90deg,#0a0000 0.0px,#0a0000 28.5px,#150000 29.5px,#1c0000 44.0px,#2f0000 49.5px,#690000 53.0px,#a10000 55.5px,#c70000 58.5px,#b30000 61.5px,#810000 64.5px,#620000 71.0px,#3c0000 76.5px,#220000 81.5px,#0a0000 84.5px,#0e0000 104.5px,#1c0000 116.5px,#390000 129.0px,#500000 132.5px,#d10000 136.5px,#ea0000 138.5px,#c10000 141.5px,#780000 145.0px,#500000 147.5px,#300000 152.5px,#0e0000 175.5px,#0a0000 182.5px,#0a0000 199.5px)"></div>
<div style="top:86px;height:2px;background:linear-gradient(90deg,#0a0000 0.0px,#0a0000 28.5px,#150000 29.5px,#1c0000 44.0px,#2f0000 49.5px,#690000 53.0px,#a10000 55.5px,#c60000 58.5px,#b20000 61.5px,#810000 64.5px,#620000 71.0px,#3c0000 76.5px,#220000 81.5px,#0a0000 84.5px,#0e0000 104.5px,#1c0000 116.5px,#390000 129.0px,#520000 132.5px,#d20000 136.5px,#e90000 138.5px,#c00000 141.5px,#770000 145.0px,#4f0000 147.5px,#2f0000 152.5px,#0e0000 175.5px,#0a0000 183.0px,#0a0000 199.5px)"></div>
<div style="top:88px;height:2px;background:linear-gradient(90deg,#0a0000 0.0px,#0a0000 28.5px,#150000 29.5px,#1c0000 44.0px,#2f0000 49.5px,#6a0000 53.0px,#a10000 55.5px,#c50000 58.5px,#b20000 61.5px,#810000 64.5px,#580000 72.5px,#3c0000 76.5px,#220000 81.5px,#0a0000 84.5px,#0e0000 104.5px,#1c0000 116.5px,#390000 129.0px,#530000 132.5px,#d20000 136.5px,#e80000 138.5px,#bf0000 141.5px,#770000 145.0px,#4f0000 147.5px,#2f0000 152.5px,#0e0000 175.5px,#0a0000 183.5px,#0a0000 199.5px)"></div>
<div style="top:90px;height:2px;background:linear-gradient(90deg,#0a0000 0.0px,#0a0000 28.5px,#150000 29.5px,#1b0000 43.5px,#2f0000 49.5px,#6a0000 53.0px,#a00000 55.5px,#c40000 58.5px,#b10000 61.5px,#810000 64.5px,#580000 72.5px,#3c0000 76.5px,#220000 81.5px,#0a0000 84.5px,#0e0000 104.5px,#1c0000 116.5px,#3a0000 129.0px,#4d0000 132.0px,#540000 132.5px,#d20000 136.5px,#e70000 138.5px,#be0000 141.5px,#760000 145.0px,#4f0000 147.5px,#2f0000 152.5px,#0e0000 175.5px,#0a0000 184.5px,#0a0000 199.5px)"></div>
<div style="top:92px;height:2px;background:linear-gradient(90deg,#0a0000 0.0px,#0a0000 28.5px,#140000 29.0px,#1b0000 43.5px,#300000 49.5px,#6b0000 53.0px,#a00000 55.5px,#c30000 58.5px,#b00000 61.5px,#800000 64.5px,#580000 72.5px,#3c0000 76.5px,#220000 81.5px,#0a0000 84.5px,#0e0000 104.5px,#1c0000 116.5px,#3a0000 129.0px,#4e0000 132.0px,#550000 132.5px,#c60000 136.0px,#d20000 136.5px,#e40000 138.0px,#e60000 138.5px,#bd0000 141.5px,#750000 145.0px,#4e0000 147.5px,#2f0000 152.5px,#0e0000 175.5px,#0a0000 185.0px,#0a0000 199.5px)"></div>
<div style="top:94px;height:2px;background:linear-gradient(90deg,#0a0000 0.0px,#0a0000 28.5px,#150000 29.0px,#1b0000 43.5px,#2f0000 49.5px,#6a0000 53.0px,#a10000 55.5px,#c40000 58.5px,#b10000 61.5px,#810000 64.5px,#620000 71.0px,#3c0000 76.5px,#230000 81.5px,#100000 84.0px,#0a0000 85.0px,#0e0000 104.5px,#1b0000 116.0px,#370000 128.5px,#4e0000 132.0px,#560000 132.5px,#c60000 136.0px,#d20000 136.5px,#e40000 138.0px,#e60000 138.5px,#bd0000 141.5px,#760000 145.0px,#4f0000 147.5px,#2f0000 152.5px,#0d0000 176.0px,#0a0000 199.5px)"></div>
<div style="top:96px;height:2px;background:linear-gradient(90deg,#0a0000 0.0px,#0a0000 28.5px,#130000 29.0px,#1c0000 44.0px,#2f0000 49.5px,#690000 53.0px,#a90000 56.0px,#c80000 58.5px,#b50000 61.5px,#830000 64.5px,#690000 69.5px,#590000 72.5px,#3d0000 76.5px,#240000 81.5px,#0a0000 85.0px,#0e0000 104.5px,#1c0000 116.0px,#370000 128.5px,#4e0000 132.0px,#570000 132.5px,#d20000 136.5px,#e70000 138.5px,#bf0000 141.5px,#780000 145.0px,#500000 147.5px,#300000 152.5px,#0d0000 176.5px,#0a0000 199.5px)"></div>
<div style="top:98px;height:2px;background:linear-gradient(90deg,#0a0000 0.0px,#0a0000 28.5px,#150000 29.5px,#1c0000 44.0px,#2f0000 49.5px,#670000 53.0px,#aa0000 56.0px,#cb0000 58.5px,#c80000 59.5px,#b20000 62.0px,#800000 65.0px,#5a0000 72.5px,#3d0000 76.5px,#210000 82.0px,#0a0000 85.0px,#0e0000 104.0px,#1c0000 116.0px,#380000 128.5px,#4e0000 132.0px,#570000 132.5px,#d10000 136.5px,#e70000 138.5px,#c10000 141.5px,#7a0000 145.0px,#4e0000 148.0px,#2f0000 153.0px,#0d0000 177.0px,#0a0000 196.0px,#0a0000 199.5px)"></div>
<div style="top:100px;height:2px;background:linear-gradient(90deg,#0a0000 0.0px,#0a0000 28.5px,#150000 29.5px,#1b0000 44.0px,#330000 50.0px,#660000 53.0px,#ac0000 56.0px,#ce0000 58.5px,#d10000 59.0px,#b60000 62.0px,#810000 65.0px,#630000 71.0px,#3b0000 77.0px,#220000 82.0px,#0a0000 85.0px,#0e0000 103.5px,#1c0000 115.5px,#380000 128.5px,#4e0000 132.0px,#670000 133.0px,#d10000 136.5px,#e80000 138.5px,#b90000 142.0px,#750000 145.5px,#4f0000 148.0px,#300000 153.0px,#0e0000 177.5px,#0a0000 193.5px,#0a0000 199.5px)"></div>
<div style="top:102px;height:2px;background:linear-gradient(90deg,#0a0000 0.0px,#0a0000 28.5px,#150000 29.5px,#1b0000 44.0px,#320000 50.0px,#700000 53.5px,#ad0000 56.0px,#d60000 59.0px,#ba0000 62.0px,#820000 65.0px,#660000 70.5px,#540000 73.5px,#3c0000 77.0px,#220000 82.0px,#100000 84.5px,#0a0000 85.5px,#0e0000 103.5px,#1c0000 115.5px,#390000 128.5px,#4e0000 132.0px,#680000 133.0px,#d10000 136.5px,#e80000 138.5px,#bb0000 142.0px,#770000 145.5px,#4c0000 148.5px,#2f0000 153.5px,#0e0000 178.0px,#0a0000 194.0px,#0a0000 199.5px)"></div>
<div style="top:104px;height:2px;background:linear-gradient(90deg,#0a0000 0.0px,#0d0000 29.0px,#150000 29.5px,#1b0000 44.0px,#300000 50.0px,#6f0000 53.5px,#ae0000 56.0px,#dc0000 59.0px,#bf0000 62.0px,#840000 65.0px,#680000 70.0px,#590000 73.0px,#3c0000 77.0px,#230000 82.0px,#0a0000 85.5px,#0e0000 103.0px,#1d0000 115.5px,#390000 128.5px,#4f0000 132.0px,#770000 133.5px,#d00000 136.5px,#e70000 138.5px,#bc0000 142.0px,#790000 145.5px,#4e0000 148.5px,#300000 153.5px,#0e0000 178.5px,#0a0000 195.0px,#0a0000 199.5px)"></div>
<div style="top:106px;height:2px;background:linear-gradient(90deg,#0a0000 0.0px,#0b0000 29.0px,#150000 29.5px,#1b0000 44.0px,#300000 50.0px,#6d0000 53.5px,#ae0000 56.0px,#df0000 59.0px,#c80000 61.5px,#b80000 62.5px,#860000 65.0px,#6b0000 69.5px,#590000 73.0px,#3d0000 77.0px,#240000 82.0px,#0a0000 85.5px,#0f0000 103.0px,#1c0000 115.0px,#390000 128.5px,#4f0000 132.0px,#860000 134.0px,#cf0000 136.5px,#e60000 138.5px,#c50000 141.5px,#730000 146.0px,#4f0000 148.5px,#2f0000 154.0px,#0e0000 179.0px,#0a0000 194.0px,#0a0000 199.5px)"></div>
<div style="top:108px;height:2px;background:linear-gradient(90deg,#0a0000 0.0px,#0a0000 29.0px,#150000 29.5px,#1b0000 44.0px,#2f0000 50.0px,#6b0000 53.5px,#b80000 56.5px,#e10000 59.0px,#dd0000 60.0px,#bc0000 62.5px,#880000 65.0px,#6f0000 68.5px,#5a0000 73.0px,#3d0000 77.0px,#210000 82.5px,#0a0000 85.5px,#0f0000 103.0px,#1c0000 115.0px,#3a0000 128.5px,#4f0000 132.0px,#ce0000 136.5px,#e40000 138.5px,#dd0000 139.5px,#bf0000 142.0px,#750000 146.0px,#4c0000 149.0px,#2f0000 154.5px,#0e0000 179.5px,#0a0000 193.5px,#0a0000 199.5px)"></div>
<div style="top:110px;height:2px;background:linear-gradient(90deg,#0a0000 0.0px,#0a0000 29.0px,#140000 29.5px,#1c0000 44.5px,#2f0000 50.0px,#5f0000 53.0px,#b80000 56.5px,#e30000 59.0px,#e50000 59.5px,#c90000 62.0px,#830000 65.5px,#690000 70.0px,#570000 73.5px,#3c0000 77.5px,#220000 82.5px,#0a0000 85.5px,#0f0000 103.0px,#1c0000 114.5px,#3a0000 128.5px,#4f0000 132.0px,#cc0000 136.5px,#e20000 138.5px,#dc0000 139.5px,#b70000 142.5px,#770000 146.0px,#4e0000 149.0px,#2f0000 154.5px,#0e0000 180.0px,#0a0000 193.0px,#0a0000 199.5px)"></div>
<div style="top:112px;height:2px;background:linear-gradient(90deg,#0a0000 0.0px,#0a0000 29.0px,#150000 30.0px,#1c0000 44.5px,#330000 50.5px,#680000 53.5px,#b90000 56.5px,#e60000 59.0px,#ea0000 59.5px,#c50000 62.5px,#840000 65.5px,#6a0000 70.0px,#580000 73.5px,#3c0000 77.5px,#230000 82.5px,#100000 85.0px,#0a0000 86.0px,#0f0000 103.0px,#1c0000 114.5px,#380000 128.0px,#4f0000 132.0px,#ca0000 136.5px,#e00000 138.5px,#e10000 139.0px,#b80000 142.5px,#790000 146.0px,#4f0000 149.0px,#300000 154.5px,#0e0000 180.5px,#0a0000 192.5px,#0a0000 199.5px)"></div>
<div style="top:114px;height:2px;background:linear-gradient(90deg,#0a0000 0.0px,#0a0000 29.0px,#150000 30.0px,#1b0000 44.5px,#320000 50.5px,#660000 53.5px,#b90000 56.5px,#e80000 59.0px,#ee0000 59.5px,#c90000 62.5px,#850000 65.5px,#6a0000 70.0px,#590000 73.5px,#3c0000 77.5px,#230000 82.5px,#0a0000 86.0px,#0f0000 102.5px,#1d0000 114.5px,#380000 128.0px,#4f0000 132.0px,#c90000 136.5px,#e10000 139.0px,#b90000 142.5px,#740000 146.5px,#4d0000 149.5px,#2f0000 155.0px,#0e0000 181.0px,#0a0000 192.5px,#0a0000 199.5px)"></div>
<div style="top:116px;height:2px;background:linear-gradient(90deg,#0a0000 0.0px,#0a0000 29.0px,#150000 30.0px,#1b0000 44.5px,#310000 50.5px,#650000 53.5px,#ba0000 56.5px,#f20000 59.5px,#cc0000 62.5px,#870000 65.5px,#6c0000 69.5px,#590000 73.5px,#3d0000 77.5px,#240000 82.5px,#0a0000 86.0px,#100000 102.5px,#1d0000 114.5px,#390000 128.0px,#4f0000 132.0px,#c60000 136.5px,#dd0000 139.0px,#b80000 142.5px,#6e0000 147.0px,#4d0000 149.5px,#2f0000 155.0px,#0e0000 181.5px,#0a0000 193.5px,#0a0000 199.5px)"></div>
<div style="top:118px;height:2px;background:linear-gradient(90deg,#0a0000 0.0px,#0a0000 29.0px,#150000 30.0px,#1b0000 44.5px,#310000 50.5px,#660000 53.5px,#bb0000 56.5px,#f50000 59.5px,#d50000 62.0px,#c10000 63.0px,#870000 65.5px,#6c0000 69.5px,#590000 73.5px,#3d0000 77.5px,#210000 83.0px,#0a0000 86.0px,#100000 103.0px,#1d0000 114.0px,#390000 128.0px,#510000 132.0px,#c40000 136.5px,#d70000 139.0px,#b50000 142.5px,#6f0000 147.0px,#4e0000 149.5px,#300000 155.0px,#0e0000 182.0px,#0a0000 197.5px,#0a0000 199.5px)"></div>
<div style="top:120px;height:2px;background:linear-gradient(90deg,#0a0000 0.0px,#0a0000 29.0px,#150000 30.0px,#1b0000 44.5px,#310000 50.5px,#660000 53.5px,#ad0000 56.0px,#c80000 57.0px,#f80000 59.5px,#d70000 62.0px,#c20000 63.0px,#870000 65.5px,#6d0000 69.5px,#590000 73.5px,#3d0000 77.5px,#210000 83.0px,#0a0000 86.0px,#110000 103.0px,#1d0000 114.0px,#370000 127.5px,#4d0000 131.5px,#530000 132.0px,#c00000 136.5px,#d10000 139.0px,#ab0000 143.0px,#690000 147.5px,#4b0000 150.0px,#2f0000 155.5px,#0e0000 182.5px,#0a0000 199.5px)"></div>
<div style="top:122px;height:2px;background:linear-gradient(90deg,#0a0000 0.0px,#0a0000 29.0px,#150000 30.0px,#1b0000 44.5px,#320000 50.5px,#670000 53.5px,#ae0000 56.0px,#ca0000 57.0px,#fa0000 59.5px,#d90000 62.0px,#c30000 63.0px,#880000 65.5px,#6d0000 69.5px,#590000 73.5px,#3d0000 77.5px,#210000 83.0px,#0a0000 86.0px,#110000 103.5px,#1f0000 114.5px,#380000 127.5px,#4d0000 131.5px,#bc0000 136.5px,#cb0000 139.0px,#a90000 143.0px,#550000 149.0px,#3a0000 153.0px,#2d0000 157.0px,#0e0000 182.5px,#0a0000 191.0px,#0a0000 199.5px)"></div>
<div style="top:124px;height:2px;background:linear-gradient(90deg,#0a0000 0.0px,#0a0000 29.0px,#150000 30.0px,#1b0000 44.5px,#320000 50.5px,#670000 53.5px,#b00000 56.0px,#cb0000 57.0px,#fd0000 59.5px,#db0000 62.0px,#c50000 63.0px,#880000 65.5px,#6f0000 69.0px,#5a0000 73.5px,#3d0000 77.5px,#210000 83.0px,#0a0000 86.0px,#120000 104.5px,#240000 117.5px,#390000 127.5px,#4d0000 131.5px,#b00000 136.0px,#bb0000 137.0px,#c50000 139.0px,#a70000 143.0px,#500000 149.5px,#300000 155.5px,#0d0000 183.5px,#0a0000 199.5px)"></div>
<div style="top:126px;height:2px;background:linear-gradient(90deg,#0a0000 0.0px,#0a0000 29.0px,#130000 29.5px,#1b0000 44.5px,#320000 50.5px,#670000 53.5px,#b10000 56.0px,#cd0000 57.0px,#f80000 59.0px,#ff0100 59.5px,#e60000 61.5px,#d40000 62.5px,#930000 65.0px,#830000 66.0px,#6b0000 70.0px,#5a0000 73.5px,#3d0000 77.5px,#210000 83.0px,#0a0000 86.0px,#140000 106.0px,#370000 127.0px,#4e0000 131.5px,#9b0000 135.0px,#b40000 136.5px,#bf0000 139.0px,#a50000 143.0px,#4d0000 150.0px,#2f0000 156.0px,#0d0000 184.0px,#0a0000 199.5px)"></div>
<div style="top:128px;height:2px;background:linear-gradient(90deg,#0a0000 0.0px,#0a0000 29.0px,#140000 29.5px,#1b0000 44.5px,#320000 50.5px,#680000 53.5px,#b20000 56.0px,#cf0000 57.0px,#fb0000 59.0px,#ff0400 59.5px,#f80000 60.5px,#d60000 62.5px,#940000 65.0px,#830000 66.0px,#6b0000 70.0px,#5a0000 73.5px,#3d0000 77.5px,#210000 83.0px,#0a0000 86.0px,#150000 108.0px,#380000 127.0px,#500000 131.5px,#9a0000 135.0px,#b00000 136.5px,#b90000 139.0px,#a20000 143.0px,#4d0000 150.0px,#2f0000 156.0px,#0e0000 184.0px,#0a0000 193.5px,#0a0000 199.5px)"></div>
<div style="top:130px;height:2px;background:linear-gradient(90deg,#0a0000 0.0px,#0a0000 29.0px,#140000 29.5px,#1b0000 44.5px,#320000 50.5px,#680000 53.5px,#b20000 56.0px,#cf0000 57.0px,#fb0000 59.0px,#ff0400 59.5px,#f80000 60.5px,#d60000 62.5px,#940000 65.0px,#840000 66.0px,#6b0000 70.0px,#5a0000 73.5px,#3d0000 77.5px,#220000 83.0px,#0a0000 86.0px,#160000 108.5px,#390000 127.0px,#4c0000 131.0px,#5e0000 132.0px,#a10000 135.5px,#ae0000 136.5px,#b60000 139.0px,#a10000 143.0px,#4e0000 150.0px,#2f0000 156.0px,#0e0000 184.5px,#0a0000 195.5px,#0a0000 199.5px)"></div>
<div style="top:132px;height:2px;background:linear-gradient(90deg,#0a0000 0.0px,#0a0000 29.0px,#150000 29.5px,#1b0000 44.5px,#320000 50.5px,#680000 53.5px,#b20000 56.0px,#cf0000 57.0px,#fb0000 59.0px,#ff0400 59.5px,#f80000 60.5px,#d60000 62.5px,#940000 65.0px,#840000 66.0px,#6b0000 70.0px,#5a0000 73.5px,#3d0000 77.5px,#220000 83.0px,#0a0000 86.0px,#180000 109.0px,#390000 127.0px,#4c0000 131.0px,#990000 135.0px,#a80000 136.0px,#b40000 138.5px,#a00000 143.0px,#4b0000 150.5px,#2f0000 156.5px,#0e0000 185.0px,#0a0000 198.0px,#0a0000 199.5px)"></div>
<div style="top:134px;height:2px;background:linear-gradient(90deg,#0a0000 0.0px,#0a0000 29.0px,#150000 29.5px,#1c0000 44.5px,#320000 50.5px,#680000 53.5px,#b30000 56.0px,#cf0000 57.0px,#fb0000 59.0px,#ff0400 59.5px,#f80000 60.5px,#d60000 62.5px,#940000 65.0px,#840000 66.0px,#6b0000 70.0px,#5a0000 73.5px,#3d0000 77.5px,#220000 83.0px,#0a0000 86.0px,#190000 109.5px,#380000 126.5px,#4c0000 131.0px,#900000 134.5px,#a60000 136.0px,#b10000 138.5px,#9e0000 143.0px,#4c0000 150.5px,#2f0000 156.5px,#0e0000 185.5px,#0a0000 199.5px)"></div>
<div style="top:136px;height:2px;background:linear-gradient(90deg,#0a0000 0.0px,#0b0000 29.0px,#150000 29.5px,#1c0000 44.5px,#320000 50.5px,#680000 53.5px,#b30000 56.0px,#cf0000 57.0px,#fb0000 59.0px,#ff0400 59.5px,#f80000 60.5px,#d60000 62.5px,#940000 65.0px,#840000 66.0px,#6b0000 70.0px,#5a0000 73.5px,#3d0000 77.5px,#220000 83.0px,#0a0000 86.0px,#1a0000 109.5px,#380000 126.5px,#4d0000 131.0px,#880000 134.0px,#a50000 136.0px,#ad0000 138.5px,#9d0000 143.0px,#550000 149.5px,#3c0000 153.5px,#2d0000 158.0px,#0d0000 186.0px,#0a0000 199.5px)"></div>
<div style="top:138px;height:2px;background:linear-gradient(90deg,#0a0000 0.0px,#0b0000 29.0px,#150000 29.5px,#1c0000 44.5px,#330000 50.5px,#680000 53.5px,#b30000 56.0px,#cf0000 57.0px,#fb0000 59.0px,#ff0400 59.5px,#f80000 60.5px,#d60000 62.5px,#950000 65.0px,#840000 66.0px,#6b0000 70.0px,#5a0000 73.5px,#3d0000 77.5px,#220000 83.0px,#0a0000 86.0px,#1a0000 109.5px,#390000 126.5px,#4f0000 131.0px,#880000 134.0px,#a30000 136.0px,#aa0000 138.5px,#9c0000 143.0px,#620000 148.5px,#4d0000 150.5px,#2f0000 157.0px,#0d0000 186.5px,#0a0000 199.5px)"></div>
<div style="top:140px;height:2px;background:linear-gradient(90deg,#0a0000 0.0px,#0c0000 29.0px,#150000 29.5px,#1c0000 44.5px,#330000 50.5px,#680000 53.5px,#b30000 56.0px,#cf0000 57.0px,#fb0000 59.0px,#ff0400 59.5px,#f80000 60.5px,#d60000 62.5px,#950000 65.0px,#840000 66.0px,#6b0000 70.0px,#5a0000 73.5px,#3b0000 78.0px,#220000 83.0px,#100000 85.5px,#0a0000 86.5px,#1a0000 109.0px,#3a0000 126.5px,#4b0000 130.5px,#8f0000 134.5px,#a00000 136.0px,#a70000 138.5px,#9e0000 141.5px,#970000 143.5px,#4d0000 150.5px,#2f0000 157.0px,#0e0000 186.5px,#0a0000 196.5px,#0a0000 199.5px)"></div>
<div style="top:142px;height:2px;background:linear-gradient(90deg,#0a0000 0.0px,#0c0000 29.0px,#150000 29.5px,#1c0000 44.5px,#330000 50.5px,#690000 53.5px,#b40000 56.0px,#d00000 57.0px,#fa0000 59.0px,#ff0200 59.5px,#ef0000 61.0px,#d50000 62.5px,#930000 65.0px,#830000 66.0px,#6b0000 70.0px,#5a0000 73.5px,#3d0000 77.5px,#220000 83.0px,#0a0000 86.0px,#1a0000 109.0px,#3a0000 126.5px,#4b0000 130.5px,#8f0000 134.5px,#a00000 136.0px,#a70000 138.5px,#9e0000 141.5px,#960000 143.5px,#4d0000 150.5px,#2f0000 157.0px,#0e0000 186.5px,#0a0000 198.5px,#0a0000 199.5px)"></div>
<div style="top:144px;height:2px;background:linear-gradient(90deg,#0a0000 0.0px,#0a0000 28.5px,#150000 29.5px,#1c0000 44.5px,#2f0000 50.0px,#600000 53.0px,#950000 55.0px,#c40000 56.5px,#f90000 59.0px,#fe0000 59.5px,#da0000 62.0px,#870000 65.5px,#6c0000 69.5px,#590000 73.5px,#3d0000 77.5px,#210000 83.0px,#0a0000 86.0px,#1a0000 109.5px,#390000 126.5px,#4b0000 130.5px,#5c0000 131.5px,#900000 134.5px,#a20000 136.0px,#a90000 138.5px,#9a0000 143.0px,#5a0000 149.0px,#490000 151.0px,#2f0000 157.0px,#0e0000 186.0px,#0a0000 199.5px)"></div>
<div style="top:146px;height:2px;background:linear-gradient(90deg,#0a0000 0.0px,#0a0000 28.5px,#150000 29.5px,#1b0000 44.0px,#2f0000 50.0px,#610000 53.0px,#a60000 55.5px,#d00000 57.0px,#f80000 59.0px,#fa0000 59.5px,#d70000 62.0px,#8f0000 65.0px,#810000 66.0px,#6a0000 70.0px,#580000 73.5px,#3c0000 77.5px,#240000 82.5px,#0a0000 86.0px,#1a0000 109.5px,#390000 126.5px,#500000 131.0px,#8a0000 134.0px,#a40000 136.0px,#ab0000 138.5px,#9a0000 143.0px,#4d0000 150.0px,#2f0000 156.5px,#0e0000 185.0px,#0a0000 195.5px,#0a0000 199.5px)"></div>
<div style="top:148px;height:2px;background:linear-gradient(90deg,#0a0000 0.0px,#0a0000 28.5px,#150000 29.5px,#1b0000 44.0px,#300000 50.0px,#630000 53.0px,#a80000 55.5px,#d00000 57.0px,#f70000 59.0px,#f20000 60.0px,#c90000 62.5px,#8c0000 65.0px,#790000 67.0px,#570000 73.5px,#3c0000 77.5px,#230000 82.5px,#100000 85.0px,#0a0000 86.0px,#180000 109.0px,#380000 126.5px,#4f0000 131.0px,#8a0000 134.0px,#a60000 136.0px,#ad0000 138.5px,#9e0000 142.5px,#620000 148.0px,#4c0000 150.0px,#2f0000 156.0px,#0e0000 184.5px,#0a0000 199.5px)"></div>
<div style="top:150px;height:2px;background:linear-gradient(90deg,#0a0000 0.0px,#0a0000 28.5px,#150000 29.5px,#1b0000 44.0px,#300000 50.0px,#640000 53.0px,#a90000 55.5px,#c50000 56.5px,#f50000 59.0px,#e80000 60.5px,#d10000 62.0px,#8a0000 65.0px,#720000 68.0px,#5b0000 73.0px,#3b0000 77.5px,#220000 82.5px,#0a0000 85.5px,#150000 107.5px,#380000 126.5px,#4e0000 131.0px,#8b0000 134.0px,#a80000 136.0px,#af0000 138.5px,#9f0000 142.5px,#4e0000 149.5px,#2f0000 155.5px,#0d0000 184.0px,#0a0000 199.5px)"></div>
<div style="top:152px;height:2px;background:linear-gradient(90deg,#0a0000 0.0px,#0a0000 28.5px,#150000 29.5px,#1b0000 44.0px,#310000 50.0px,#650000 53.0px,#ab0000 55.5px,#c50000 56.5px,#f40000 59.0px,#d60000 61.5px,#c10000 62.5px,#880000 65.0px,#6d0000 69.0px,#5a0000 73.0px,#3d0000 77.0px,#210000 82.5px,#0a0000 85.5px,#130000 105.0px,#350000 126.0px,#4d0000 131.0px,#8c0000 134.0px,#aa0000 136.0px,#b10000 138.5px,#9f0000 142.5px,#4c0000 149.5px,#2f0000 155.5px,#0e0000 183.0px,#0a0000 195.0px,#0a0000 199.5px)"></div>
<div style="top:154px;height:2px;background:linear-gradient(90deg,#0a0000 0.0px,#0a0000 28.5px,#150000 29.5px,#1b0000 44.0px,#320000 50.0px,#670000 53.0px,#bb0000 56.0px,#eb0000 58.5px,#f10000 59.0px,#cb0000 62.0px,#860000 65.0px,#6a0000 69.5px,#590000 73.0px,#3d0000 77.0px,#240000 82.0px,#0a0000 85.5px,#120000 103.5px,#200000 114.5px,#390000 127.0px,#4d0000 131.0px,#960000 134.5px,#ac0000 136.0px,#b30000 138.5px,#9f0000 142.5px,#4e0000 149.0px,#2f0000 155.0px,#0d0000 182.5px,#0a0000 199.5px)"></div>
<div style="top:156px;height:2px;background:linear-gradient(90deg,#0a0000 0.0px,#0a0000 28.5px,#130000 29.0px,#1c0000 44.0px,#330000 50.0px,#690000 53.0px,#bb0000 56.0px,#e90000 58.5px,#ed0000 59.0px,#cf0000 61.5px,#840000 65.0px,#6a0000 69.5px,#580000 73.0px,#3c0000 77.0px,#230000 82.0px,#110000 84.5px,#0a0000 85.5px,#110000 102.5px,#1e0000 113.5px,#380000 127.0px,#4d0000 131.0px,#a10000 135.0px,#af0000 136.0px,#b90000 138.0px,#a40000 142.0px,#4d0000 149.0px,#300000 154.5px,#0e0000 181.5px,#0a0000 191.5px,#0a0000 199.5px)"></div>
<div style="top:158px;height:2px;background:linear-gradient(90deg,#0a0000 0.0px,#0a0000 28.5px,#140000 29.0px,#1c0000 44.0px,#2f0000 49.5px,#5f0000 52.5px,#9f0000 55.0px,#c30000 56.5px,#e50000 58.5px,#e80000 59.0px,#ca0000 61.5px,#830000 65.0px,#690000 69.5px,#570000 73.0px,#3c0000 77.0px,#220000 82.0px,#0a0000 85.0px,#100000 101.5px,#1d0000 113.5px,#380000 127.0px,#4d0000 131.0px,#ae0000 135.5px,#c00000 138.0px,#a60000 142.0px,#4f0000 148.5px,#2f0000 154.5px,#0d0000 181.0px,#0a0000 199.5px)"></div>
<div style="top:160px;height:2px;background:linear-gradient(90deg,#0a0000 0.0px,#0a0000 28.5px,#150000 29.0px,#1b0000 43.5px,#2f0000 49.5px,#6b0000 53.0px,#b80000 56.0px,#e20000 58.5px,#de0000 59.5px,#bd0000 62.0px,#880000 64.5px,#6f0000 68.0px,#5a0000 72.5px,#3d0000 76.5px,#210000 82.0px,#0a0000 85.0px,#100000 102.0px,#1c0000 113.5px,#3a0000 127.5px,#4d0000 131.0px,#620000 132.0px,#b20000 135.5px,#c70000 138.0px,#a70000 142.0px,#520000 148.0px,#360000 152.5px,#2b0000 157.0px,#0e0000 180.0px,#0a0000 188.5px,#0a0000 199.5px)"></div>
<div style="top:162px;height:2px;background:linear-gradient(90deg,#0a0000 0.0px,#0b0000 28.5px,#150000 29.0px,#1b0000 43.5px,#2f0000 49.5px,#6d0000 53.0px,#b70000 56.0px,#de0000 58.5px,#c80000 61.0px,#b80000 62.0px,#860000 64.5px,#6b0000 69.0px,#5a0000 72.5px,#3d0000 76.5px,#240000 81.5px,#0a0000 85.0px,#0f0000 102.0px,#1d0000 114.0px,#390000 127.5px,#4d0000 131.0px,#540000 131.5px,#b70000 135.5px,#cd0000 138.0px,#a80000 142.0px,#4f0000 148.0px,#300000 153.5px,#0e0000 179.5px,#0a0000 195.5px,#0a0000 199.5px)"></div>
<div style="top:164px;height:2px;background:linear-gradient(90deg,#0a0000 0.0px,#0c0000 28.5px,#150000 29.0px,#1b0000 43.5px,#300000 49.5px,#6e0000 53.0px,#ad0000 55.5px,#db0000 58.5px,#be0000 61.5px,#840000 64.5px,#680000 69.5px,#590000 72.5px,#3c0000 76.5px,#230000 81.5px,#110000 84.0px,#0a0000 85.0px,#0f0000 102.0px,#1c0000 114.0px,#390000 127.5px,#530000 131.5px,#bb0000 135.5px,#d00000 137.5px,#d30000 138.0px,#b10000 141.5px,#690000 146.0px,#4e0000 148.0px,#2f0000 153.5px,#0e0000 178.5px,#0a0000 186.0px,#0a0000 199.5px)"></div>
<div style="top:166px;height:2px;background:linear-gradient(90deg,#0a0000 0.0px,#0d0000 28.5px,#150000 29.0px,#1b0000 43.5px,#310000 49.5px,#6f0000 53.0px,#ac0000 55.5px,#d60000 58.5px,#ba0000 61.5px,#820000 64.5px,#660000 70.0px,#540000 73.0px,#3c0000 76.5px,#220000 81.5px,#0a0000 84.5px,#0f0000 102.5px,#1c0000 114.5px,#380000 127.5px,#510000 131.5px,#c00000 135.5px,#d60000 137.5px,#d90000 138.0px,#b20000 141.5px,#6e0000 145.5px,#4c0000 148.0px,#2f0000 153.5px,#0e0000 178.0px,#0a0000 190.5px,#0a0000 199.5px)"></div>
<div style="top:168px;height:2px;background:linear-gradient(90deg,#0a0000 0.0px,#0a0000 28.0px,#150000 29.0px,#1b0000 43.5px,#320000 49.5px,#650000 52.5px,#ab0000 55.5px,#cd0000 58.0px,#d10000 58.5px,#b60000 61.5px,#810000 64.5px,#630000 70.5px,#3b0000 76.5px,#220000 81.5px,#0a0000 84.5px,#0e0000 102.5px,#1c0000 114.5px,#3a0000 128.0px,#500000 131.5px,#c40000 135.5px,#dd0000 137.5px,#de0000 138.0px,#bc0000 141.0px,#730000 145.0px,#4f0000 147.5px,#300000 152.5px,#0d0000 177.5px,#0a0000 199.5px)"></div>
<div style="top:170px;height:2px;background:linear-gradient(90deg,#0a0000 0.0px,#0a0000 28.0px,#150000 29.0px,#1b0000 43.5px,#320000 49.5px,#700000 53.0px,#a90000 55.5px,#cb0000 58.0px,#ce0000 58.5px,#b40000 61.5px,#800000 64.5px,#630000 70.5px,#3b0000 76.5px,#210000 81.5px,#0a0000 84.5px,#0e0000 103.0px,#1c0000 115.0px,#390000 128.0px,#4f0000 131.5px,#c70000 135.5px,#e10000 137.5px,#e20000 138.0px,#bd0000 141.0px,#790000 144.5px,#4d0000 147.5px,#2f0000 152.5px,#0d0000 177.0px,#0a0000 199.5px)"></div>
<div style="top:172px;height:2px;background:linear-gradient(90deg,#0a0000 0.0px,#0d0000 28.5px,#150000 29.0px,#1b0000 43.5px,#320000 49.5px,#6f0000 53.0px,#a80000 55.5px,#cd0000 58.5px,#b40000 61.5px,#810000 64.5px,#640000 70.5px,#3b0000 76.5px,#220000 81.5px,#0a0000 84.5px,#0e0000 103.5px,#1c0000 115.0px,#390000 128.0px,#4f0000 131.5px,#c70000 135.5px,#dc0000 137.0px,#e30000 138.0px,#bd0000 141.0px,#780000 144.5px,#4c0000 147.5px,#2f0000 152.5px,#0d0000 176.5px,#0a0000 199.5px)"></div>
<div style="top:174px;height:2px;background:linear-gradient(90deg,#0a0000 0.0px,#0b0000 28.5px,#150000 29.0px,#1b0000 43.5px,#310000 49.5px,#6e0000 53.0px,#a70000 55.5px,#cc0000 58.5px,#b50000 61.5px,#810000 64.5px,#640000 70.5px,#3c0000 76.5px,#220000 81.5px,#0a0000 84.5px,#0e0000 103.5px,#1c0000 115.5px,#380000 128.0px,#4e0000 131.5px,#690000 132.5px,#c70000 135.5px,#d70000 136.5px,#e30000 137.5px,#e40000 138.0px,#bc0000 141.0px,#770000 144.5px,#4f0000 147.0px,#300000 152.0px,#0d0000 176.0px,#0a0000 199.5px)"></div>
<div style="top:176px;height:2px;background:linear-gradient(90deg,#0a0000 0.0px,#0a0000 28.5px,#150000 29.0px,#1b0000 43.5px,#300000 49.5px,#6d0000 53.0px,#a60000 55.5px,#cc0000 58.5px,#b50000 61.5px,#810000 64.5px,#640000 70.5px,#4c0000 74.0px,#3a0000 77.0px,#220000 81.5px,#0a0000 84.5px,#0e0000 104.0px,#1b0000 115.5px,#370000 128.0px,#4e0000 131.5px,#570000 132.0px,#c60000 135.5px,#d80000 136.5px,#e40000 137.5px,#e50000 138.0px,#bc0000 141.0px,#760000 144.5px,#4f0000 147.0px,#2f0000 152.0px,#0e0000 175.0px,#0a0000 181.5px,#0a0000 199.5px)"></div>
</div>
<div class="cbar" style="left:243.5px;top:6.4px;width:12.5px;height:177.2px"></div>
<div class="cbar" style="left:510.7px;top:6.4px;width:12.7px;height:177.2px"></div>
<svg width="533" height="428" viewBox="0 0 533 428">
<g fill="none">
<path d="M36,6.5 L235,6.5" stroke="#5f6b6b" stroke-width="1"/>
<path d="M302.5,6.5 L502,6.5" stroke="#5f6b6b" stroke-width="1"/>
<path d="M234.6,6 L234.6,184" stroke="#9aa" stroke-width="0.8"/>
<path d="M302.9,6 L302.9,184" stroke="#9aa" stroke-width="0.8"/>
<path d="M501.6,6 L501.6,184" stroke="#9aa" stroke-width="0.8"/>
<path d="M80.2,184 L80.2,182.5" stroke="#556" stroke-width="1"/>
<path d="M80.2,6 L80.2,7.5" stroke="#556" stroke-width="1"/>
<path d="M135.5,184 L135.5,182.5" stroke="#556" stroke-width="1"/>
<path d="M135.5,6 L135.5,7.5" stroke="#556" stroke-width="1"/>
<path d="M190.8,184 L190.8,182.5" stroke="#556" stroke-width="1"/>
<path d="M190.8,6 L190.8,7.5" stroke="#556" stroke-width="1"/>
<path d="M36,35.7 L37.5,35.7" stroke="#556" stroke-width="1"/>
<path d="M235,35.7 L233.5,35.7" stroke="#556" stroke-width="1"/>
<path d="M36,65.3 L37.5,65.3" stroke="#556" stroke-width="1"/>
<path d="M235,65.3 L233.5,65.3" stroke="#556" stroke-width="1"/>
<path d="M36,95.0 L37.5,95.0" stroke="#556" stroke-width="1"/>
<path d="M235,95.0 L233.5,95.0" stroke="#556" stroke-width="1"/>
<path d="M36,124.7 L37.5,124.7" stroke="#556" stroke-width="1"/>
<path d="M235,124.7 L233.5,124.7" stroke="#556" stroke-width="1"/>
<path d="M36,154.3 L37.5,154.3" stroke="#556" stroke-width="1"/>
<path d="M235,154.3 L233.5,154.3" stroke="#556" stroke-width="1"/>
<path d="M346.8,184 L346.8,182.5" stroke="#556" stroke-width="1"/>
<path d="M346.8,6 L346.8,7.5" stroke="#556" stroke-width="1"/>
<path d="M402.2,184 L402.2,182.5" stroke="#556" stroke-width="1"/>
<path d="M402.2,6 L402.2,7.5" stroke="#556" stroke-width="1"/>
<path d="M457.6,184 L457.6,182.5" stroke="#556" stroke-width="1"/>
<path d="M457.6,6 L457.6,7.5" stroke="#556" stroke-width="1"/>
<path d="M302.5,35.7 L304.0,35.7" stroke="#556" stroke-width="1"/>
<path d="M502,35.7 L500.5,35.7" stroke="#556" stroke-width="1"/>
<path d="M302.5,65.3 L304.0,65.3" stroke="#556" stroke-width="1"/>
<path d="M502,65.3 L500.5,65.3" stroke="#556" stroke-width="1"/>
<path d="M302.5,95.0 L304.0,95.0" stroke="#556" stroke-width="1"/>
<path d="M502,95.0 L500.5,95.0" stroke="#556" stroke-width="1"/>
<path d="M302.5,124.7 L304.0,124.7" stroke="#556" stroke-width="1"/>
<path d="M502,124.7 L500.5,124.7" stroke="#556" stroke-width="1"/>
<path d="M302.5,154.3 L304.0,154.3" stroke="#556" stroke-width="1"/>
<path d="M502,154.3 L500.5,154.3" stroke="#556" stroke-width="1"/>
<path d="M252.6,158.2 L255.4,158.2" stroke="#8a8a70" stroke-width="1"/>
<path d="M519.9,158.2 L522.7,158.2" stroke="#8a8a70" stroke-width="1"/>
<path d="M252.6,132.9 L255.4,132.9" stroke="#8a8a70" stroke-width="1"/>
<path d="M519.9,132.9 L522.7,132.9" stroke="#8a8a70" stroke-width="1"/>
<path d="M252.6,107.6 L255.4,107.6" stroke="#8a8a70" stroke-width="1"/>
<path d="M519.9,107.6 L522.7,107.6" stroke="#8a8a70" stroke-width="1"/>
<path d="M252.6,82.3 L255.4,82.3" stroke="#8a8a70" stroke-width="1"/>
<path d="M519.9,82.3 L522.7,82.3" stroke="#8a8a70" stroke-width="1"/>
<path d="M252.6,57.0 L255.4,57.0" stroke="#8a8a70" stroke-width="1"/>
<path d="M519.9,57.0 L522.7,57.0" stroke="#8a8a70" stroke-width="1"/>
<path d="M252.6,31.7 L255.4,31.7" stroke="#8a8a70" stroke-width="1"/>
<path d="M519.9,31.7 L522.7,31.7" stroke="#8a8a70" stroke-width="1"/>

</g>
<g fill="none" stroke-width="1.4" stroke-linejoin="round">
<path d="M35.3,349.2 36.3,349.1 37.3,349.1 38.3,349.0 39.3,348.9 40.3,348.7 41.3,348.6 42.3,348.4 43.3,348.2 44.3,348.0 45.3,347.7 46.3,347.3 47.3,347.0 48.3,346.5 49.3,345.9 50.3,345.2 51.3,344.4 52.3,343.4 53.3,342.3 54.3,341.0 55.3,339.7 56.3,338.3 57.3,336.9 58.3,335.4 59.3,333.9 60.3,332.5 61.3,331.0 62.3,329.6 63.3,328.1 64.3,326.7 65.3,325.3 66.3,324.0 67.3,322.6 68.3,321.3 69.3,320.1 70.3,318.9 71.3,317.8 72.3,316.8 73.3,315.9 74.3,315.0 75.3,314.2 76.3,313.4 77.3,312.6 78.3,311.7 79.3,310.8 80.3,309.8 81.3,308.7 82.3,307.5 83.3,306.3 84.3,305.0 85.3,303.7 86.3,302.3 87.3,300.9 88.3,299.5 89.3,298.2 90.3,296.9 91.3,295.8 92.3,294.7 93.3,293.7 94.3,292.8 95.3,292.1 96.3,291.5 97.3,290.9 98.3,290.5 99.3,290.3 100.3,290.1 101.3,290.0 102.3,290.0 103.3,290.0 104.3,290.1 105.3,290.1 106.3,290.2 107.3,290.2 108.3,290.3 109.3,290.3 110.3,290.4 111.3,290.4 112.3,290.5 113.3,290.5 114.3,290.6 115.3,290.7 116.3,290.8 117.3,291.0 118.3,291.1 119.3,291.4 120.3,291.7 121.3,292.1 122.3,292.6 123.3,293.1 124.3,293.8 125.3,294.5 126.3,295.2 127.3,296.1 128.3,297.1 129.3,298.1 130.3,299.2 131.3,300.3 132.3,301.4 133.3,302.5 134.3,303.5 135.3,304.5 136.3,305.4 137.3,306.3 138.3,307.1 139.3,307.9 140.3,308.7 141.3,309.4 142.3,310.1 143.3,310.7 144.3,311.3 145.3,311.8 146.3,312.2 147.3,312.6 148.3,313.0 149.3,313.2 150.3,313.5 151.3,313.7 152.3,314.0 153.3,314.2 154.3,314.4 155.3,314.5 156.3,314.7 157.3,314.9 158.3,315.1 159.3,315.2 160.3,315.4 161.3,315.5 162.3,315.6 163.3,315.7 164.3,315.8 165.3,315.8 166.3,315.8 167.3,315.7 168.3,315.5 169.3,315.2 170.3,314.8 171.3,314.3 172.3,313.6 173.3,312.8 174.3,311.8 175.3,310.8 176.3,309.6 177.3,308.4 178.3,307.1 179.3,305.8 180.3,304.5 181.3,303.2 182.3,301.9 183.3,300.6 184.3,299.3 185.3,298.0 186.3,296.7 187.3,295.4 188.3,294.2 189.3,293.1 190.3,291.9 191.3,290.8 192.3,289.6 193.3,288.4 194.3,287.3 195.3,286.1 196.3,284.8 197.3,283.6 198.3,282.3 199.3,281.0 200.3,279.6 201.3,278.1 202.3,276.7 203.3,275.1 204.3,273.6 205.3,272.1 206.3,270.6 207.3,269.2 208.3,267.8 209.3,266.5 210.3,265.2 211.3,264.0 212.3,262.8 213.3,261.8 214.3,260.9 215.3,260.1 216.3,259.5 217.3,258.9 218.3,258.4 219.3,258.0 220.3,257.6 221.3,257.3 222.3,257.0 223.3,256.8 224.3,256.6 225.3,256.5 226.3,256.4 227.3,256.4 228.3,256.5 229.3,256.6 230.3,256.7 231.3,256.9 232.3,257.2 233.3,257.5 234.3,257.8 235.3,258.2 236.3,258.6 237.3,259.0 238.3,259.6 239.3,260.1 240.3,260.8 241.3,261.5 242.3,262.2 243.3,263.1 244.3,264.0 245.3,264.9 246.3,265.8 247.3,266.8 248.3,267.9 249.3,268.9 250.3,269.9 251.3,270.9 252.3,271.8 253.3,272.7 254.3,273.6 255.0,274.0" stroke="#2b2b2b"/>
<path d="M35.3,360.3 36.3,360.1 37.3,360.0 38.3,359.8 39.3,359.6 40.3,359.4 41.3,359.2 42.3,359.0 43.3,358.8 44.3,358.6 45.3,358.3 46.3,358.0 47.3,357.6 48.3,357.0 49.3,356.4 50.3,355.6 51.3,354.8 52.3,353.8 53.3,352.7 54.3,351.6 55.3,350.3 56.3,349.0 57.3,347.5 58.3,346.1 59.3,344.6 60.3,343.1 61.3,341.5 62.3,340.0 63.3,338.5 64.3,337.0 65.3,335.6 66.3,334.1 67.3,332.7 68.3,331.4 69.3,330.2 70.3,329.0 71.3,327.9 72.3,326.8 73.3,325.9 74.3,325.0 75.3,324.1 76.3,323.3 77.3,322.5 78.3,321.6 79.3,320.6 80.3,319.5 81.3,318.3 82.3,317.1 83.3,315.8 84.3,314.4 85.3,313.0 86.3,311.6 87.3,310.2 88.3,308.8 89.3,307.5 90.3,306.2 91.3,304.9 92.3,303.8 93.3,302.7 94.3,301.8 95.3,300.9 96.3,300.2 97.3,299.5 98.3,299.1 99.3,298.7 100.3,298.5 101.3,298.4 102.3,298.4 103.3,298.5 104.3,298.5 105.3,298.6 106.3,298.6 107.3,298.7 108.3,298.7 109.3,298.8 110.3,298.8 111.3,298.8 112.3,298.9 113.3,298.9 114.3,299.0 115.3,299.1 116.3,299.2 117.3,299.3 118.3,299.5 119.3,299.8 120.3,300.1 121.3,300.4 122.3,300.8 123.3,301.3 124.3,301.8 125.3,302.3 126.3,302.9 127.3,303.6 128.3,304.4 129.3,305.3 130.3,306.3 131.3,307.3 132.3,308.3 133.3,309.3 134.3,310.2 135.3,311.1 136.3,312.1 137.3,312.9 138.3,313.8 139.3,314.6 140.3,315.4 141.3,316.2 142.3,316.9 143.3,317.5 144.3,318.0 145.3,318.5 146.3,318.9 147.3,319.3 148.3,319.6 149.3,319.9 150.3,320.2 151.3,320.5 152.3,320.8 153.3,321.1 154.3,321.3 155.3,321.6 156.3,321.8 157.3,322.1 158.3,322.3 159.3,322.5 160.3,322.8 161.3,323.0 162.3,323.2 163.3,323.3 164.3,323.5 165.3,323.6 166.3,323.7 167.3,323.8 168.3,323.7 169.3,323.5 170.3,323.2 171.3,322.7 172.3,322.0 173.3,321.2 174.3,320.3 175.3,319.3 176.3,318.1 177.3,316.9 178.3,315.7 179.3,314.4 180.3,313.1 181.3,311.6 182.3,310.1 183.3,308.6 184.3,306.9 185.3,305.3 186.3,303.7 187.3,302.3 188.3,300.9 189.3,299.6 190.3,298.4 191.3,297.1 192.3,295.9 193.3,294.6 194.3,293.4 195.3,292.1 196.3,290.8 197.3,289.4 198.3,288.1 199.3,286.7 200.3,285.3 201.3,283.8 202.3,282.3 203.3,280.7 204.3,279.2 205.3,277.7 206.3,276.2 207.3,274.7 208.3,273.2 209.3,271.8 210.3,270.5 211.3,269.2 212.3,268.0 213.3,267.0 214.3,266.1 215.3,265.4 216.3,264.9 217.3,264.4 218.3,264.1 219.3,263.8 220.3,263.5 221.3,263.3 222.3,263.0 223.3,262.8 224.3,262.6 225.3,262.5 226.3,262.4 227.3,262.4 228.3,262.4 229.3,262.5 230.3,262.6 231.3,262.7 232.3,262.9 233.3,263.1 234.3,263.4 235.3,263.7 236.3,264.0 237.3,264.4 238.3,264.8 239.3,265.3 240.3,265.8 241.3,266.3 242.3,266.9 243.3,267.5 244.3,268.3 245.3,269.1 246.3,270.0 247.3,270.9 248.3,271.9 249.3,272.9 250.3,274.0 251.3,275.0 252.3,276.0 253.3,277.1 254.3,278.2 255.0,278.7" stroke="#ee2c2c"/>
<path d="M35.3,366.5 36.3,366.6 37.3,366.7 38.3,366.8 39.3,366.8 40.3,366.8 41.3,366.7 42.3,366.6 43.3,366.4 44.3,366.0 45.3,365.6 46.3,365.1 47.3,364.5 48.3,363.7 49.3,362.9 50.3,361.9 51.3,360.7 52.3,359.5 53.3,358.2 54.3,356.9 55.3,355.5 56.3,354.1 57.3,352.7 58.3,351.3 59.3,349.9 60.3,348.6 61.3,347.3 62.3,346.1 63.3,344.8 64.3,343.6 65.3,342.3 66.3,341.1 67.3,339.8 68.3,338.6 69.3,337.4 70.3,336.1 71.3,334.9 72.3,333.6 73.3,332.4 74.3,331.2 75.3,329.9 76.3,328.7 77.3,327.4 78.3,326.2 79.3,324.9 80.3,323.6 81.3,322.3 82.3,321.1 83.3,319.8 84.3,318.5 85.3,317.2 86.3,316.0 87.3,314.7 88.3,313.4 89.3,312.2 90.3,310.9 91.3,309.7 92.3,308.5 93.3,307.3 94.3,306.2 95.3,305.2 96.3,304.4 97.3,303.9 98.3,303.6 99.3,303.5 100.3,303.5 101.3,303.5 102.3,303.6 103.3,303.6 104.3,303.6 105.3,303.6 106.3,303.6 107.3,303.6 108.3,303.7 109.3,303.7 110.3,303.8 111.3,303.8 112.3,303.9 113.3,304.0 114.3,304.1 115.3,304.2 116.3,304.4 117.3,304.6 118.3,304.8 119.3,305.0 120.3,305.3 121.3,305.6 122.3,306.0 123.3,306.5 124.3,306.9 125.3,307.5 126.3,308.1 127.3,308.7 128.3,309.5 129.3,310.3 130.3,311.1 131.3,312.1 132.3,313.1 133.3,314.1 134.3,315.2 135.3,316.2 136.3,317.2 137.3,318.1 138.3,318.9 139.3,319.7 140.3,320.4 141.3,321.0 142.3,321.6 143.3,322.2 144.3,322.7 145.3,323.2 146.3,323.7 147.3,324.2 148.3,324.6 149.3,324.9 150.3,325.3 151.3,325.6 152.3,325.9 153.3,326.2 154.3,326.5 155.3,326.7 156.3,327.0 157.3,327.2 158.3,327.5 159.3,327.7 160.3,327.9 161.3,328.1 162.3,328.2 163.3,328.4 164.3,328.5 165.3,328.6 166.3,328.7 167.3,328.7 168.3,328.6 169.3,328.4 170.3,328.1 171.3,327.7 172.3,327.0 173.3,326.2 174.3,325.3 175.3,324.3 176.3,323.1 177.3,322.0 178.3,320.7 179.3,319.4 180.3,318.1 181.3,316.7 182.3,315.2 183.3,313.6 184.3,312.0 185.3,310.4 186.3,308.8 187.3,307.1 188.3,305.5 189.3,304.0 190.3,302.4 191.3,300.9 192.3,299.4 193.3,297.9 194.3,296.4 195.3,294.9 196.3,293.5 197.3,292.1 198.3,290.6 199.3,289.2 200.3,287.8 201.3,286.4 202.3,285.1 203.3,283.7 204.3,282.4 205.3,281.1 206.3,279.8 207.3,278.6 208.3,277.4 209.3,276.3 210.3,275.2 211.3,274.2 212.3,273.3 213.3,272.5 214.3,271.7 215.3,270.9 216.3,270.2 217.3,269.6 218.3,269.0 219.3,268.4 220.3,267.9 221.3,267.4 222.3,267.0 223.3,266.6 224.3,266.3 225.3,265.9 226.3,265.7 227.3,265.4 228.3,265.2 229.3,265.1 230.3,265.1 231.3,265.1 232.3,265.2 233.3,265.3 234.3,265.5 235.3,265.8 236.3,266.2 237.3,266.6 238.3,267.1 239.3,267.6 240.3,268.2 241.3,268.8 242.3,269.5 243.3,270.3 244.3,271.1 245.3,272.0 246.3,272.9 247.3,273.9 248.3,274.9 249.3,276.0 250.3,277.2 251.3,278.4 252.3,279.7 253.3,281.0 254.3,282.4 255.0,283.1" stroke="#a65ee8"/>
<path d="M35.3,364.7 36.3,364.7 37.3,364.8 38.3,364.8 39.3,364.8 40.3,364.7 41.3,364.6 42.3,364.4 43.3,364.2 44.3,363.9 45.3,363.6 46.3,363.1 47.3,362.6 48.3,361.9 49.3,361.1 50.3,360.1 51.3,359.1 52.3,358.0 53.3,356.7 54.3,355.4 55.3,354.1 56.3,352.7 57.3,351.3 58.3,349.9 59.3,348.5 60.3,347.1 61.3,345.8 62.3,344.5 63.3,343.1 64.3,341.8 65.3,340.5 66.3,339.3 67.3,338.0 68.3,336.7 69.3,335.5 70.3,334.3 71.3,333.1 72.3,331.9 73.3,330.7 74.3,329.6 75.3,328.4 76.3,327.3 77.3,326.2 78.3,325.0 79.3,323.8 80.3,322.6 81.3,321.3 82.3,320.1 83.3,318.8 84.3,317.5 85.3,316.2 86.3,314.9 87.3,313.6 88.3,312.3 89.3,311.0 90.3,309.8 91.3,308.6 92.3,307.4 93.3,306.2 94.3,305.1 95.3,304.2 96.3,303.4 97.3,302.9 98.3,302.6 99.3,302.4 100.3,302.4 101.3,302.4 102.3,302.4 103.3,302.4 104.3,302.5 105.3,302.5 106.3,302.5 107.3,302.6 108.3,302.6 109.3,302.7 110.3,302.7 111.3,302.8 112.3,302.9 113.3,303.0 114.3,303.1 115.3,303.2 116.3,303.3 117.3,303.5 118.3,303.7 119.3,304.0 120.3,304.3 121.3,304.6 122.3,305.0 123.3,305.5 124.3,306.0 125.3,306.5 126.3,307.1 127.3,307.8 128.3,308.5 129.3,309.4 130.3,310.3 131.3,311.2 132.3,312.3 133.3,313.3 134.3,314.3 135.3,315.3 136.3,316.3 137.3,317.2 138.3,318.1 139.3,318.9 140.3,319.6 141.3,320.3 142.3,320.9 143.3,321.5 144.3,322.0 145.3,322.5 146.3,323.0 147.3,323.4 148.3,323.8 149.3,324.2 150.3,324.6 151.3,324.9 152.3,325.2 153.3,325.5 154.3,325.8 155.3,326.1 156.3,326.3 157.3,326.6 158.3,326.8 159.3,327.0 160.3,327.3 161.3,327.5 162.3,327.6 163.3,327.8 164.3,327.9 165.3,328.0 166.3,328.1 167.3,328.1 168.3,328.0 169.3,327.9 170.3,327.5 171.3,327.1 172.3,326.4 173.3,325.6 174.3,324.7 175.3,323.7 176.3,322.5 177.3,321.4 178.3,320.1 179.3,318.8 180.3,317.5 181.3,316.1 182.3,314.6 183.3,313.0 184.3,311.4 185.3,309.8 186.3,308.2 187.3,306.6 188.3,305.0 189.3,303.5 190.3,301.9 191.3,300.5 192.3,299.0 193.3,297.5 194.3,296.0 195.3,294.6 196.3,293.2 197.3,291.7 198.3,290.3 199.3,288.9 200.3,287.5 201.3,286.1 202.3,284.7 203.3,283.4 204.3,282.0 205.3,280.7 206.3,279.4 207.3,278.1 208.3,276.9 209.3,275.7 210.3,274.7 211.3,273.6 212.3,272.7 213.3,271.8 214.3,271.0 215.3,270.3 216.3,269.6 217.3,269.0 218.3,268.4 219.3,267.9 220.3,267.4 221.3,266.9 222.3,266.5 223.3,266.2 224.3,265.8 225.3,265.5 226.3,265.3 227.3,265.1 228.3,264.9 229.3,264.8 230.3,264.8 231.3,264.8 232.3,264.9 233.3,265.0 234.3,265.3 235.3,265.6 236.3,265.9 237.3,266.3 238.3,266.8 239.3,267.3 240.3,267.9 241.3,268.5 242.3,269.2 243.3,269.9 244.3,270.7 245.3,271.6 246.3,272.5 247.3,273.5 248.3,274.6 249.3,275.6 250.3,276.8 251.3,278.0 252.3,279.2 253.3,280.5 254.3,281.9 255.0,282.5" stroke="#1f9a4e"/>
<path d="M35.3,363.0 36.3,363.0 37.3,362.9 38.3,362.9 39.3,362.8 40.3,362.7 41.3,362.5 42.3,362.4 43.3,362.1 44.3,361.9 45.3,361.5 46.3,361.1 47.3,360.6 48.3,360.0 49.3,359.3 50.3,358.4 51.3,357.4 52.3,356.3 53.3,355.2 54.3,353.9 55.3,352.6 56.3,351.2 57.3,349.8 58.3,348.4 59.3,347.0 60.3,345.5 61.3,344.1 62.3,342.7 63.3,341.3 64.3,339.9 65.3,338.6 66.3,337.2 67.3,335.9 68.3,334.6 69.3,333.4 70.3,332.2 71.3,331.0 72.3,329.9 73.3,328.8 74.3,327.7 75.3,326.7 76.3,325.7 77.3,324.7 78.3,323.6 79.3,322.5 80.3,321.3 81.3,320.1 82.3,318.9 83.3,317.6 84.3,316.3 85.3,314.9 86.3,313.6 87.3,312.2 88.3,310.9 89.3,309.6 90.3,308.3 91.3,307.1 92.3,305.9 93.3,304.8 94.3,303.7 95.3,302.8 96.3,302.1 97.3,301.5 98.3,301.1 99.3,300.9 100.3,300.8 101.3,300.7 102.3,300.8 103.3,300.8 104.3,300.9 105.3,300.9 106.3,301.0 107.3,301.0 108.3,301.1 109.3,301.1 110.3,301.2 111.3,301.3 112.3,301.4 113.3,301.4 114.3,301.6 115.3,301.7 116.3,301.8 117.3,302.0 118.3,302.2 119.3,302.5 120.3,302.8 121.3,303.1 122.3,303.6 123.3,304.0 124.3,304.5 125.3,305.1 126.3,305.7 127.3,306.4 128.3,307.2 129.3,308.0 130.3,309.0 131.3,310.0 132.3,311.0 133.3,312.0 134.3,313.0 135.3,314.0 136.3,315.0 137.3,315.9 138.3,316.8 139.3,317.6 140.3,318.4 141.3,319.1 142.3,319.7 143.3,320.3 144.3,320.9 145.3,321.4 146.3,321.8 147.3,322.3 148.3,322.7 149.3,323.1 150.3,323.4 151.3,323.7 152.3,324.0 153.3,324.3 154.3,324.6 155.3,324.9 156.3,325.2 157.3,325.4 158.3,325.7 159.3,325.9 160.3,326.2 161.3,326.4 162.3,326.6 163.3,326.7 164.3,326.9 165.3,327.0 166.3,327.1 167.3,327.1 168.3,327.0 169.3,326.9 170.3,326.6 171.3,326.1 172.3,325.5 173.3,324.7 174.3,323.8 175.3,322.7 176.3,321.6 177.3,320.4 178.3,319.2 179.3,317.9 180.3,316.6 181.3,315.2 182.3,313.7 183.3,312.1 184.3,310.5 185.3,308.9 186.3,307.3 187.3,305.7 188.3,304.2 189.3,302.7 190.3,301.3 191.3,299.8 192.3,298.4 193.3,297.0 194.3,295.6 195.3,294.1 196.3,292.7 197.3,291.3 198.3,289.9 199.3,288.5 200.3,287.1 201.3,285.7 202.3,284.3 203.3,282.9 204.3,281.5 205.3,280.2 206.3,278.8 207.3,277.6 208.3,276.3 209.3,275.1 210.3,274.0 211.3,273.0 212.3,272.0 213.3,271.1 214.3,270.3 215.3,269.5 216.3,268.9 217.3,268.3 218.3,267.8 219.3,267.3 220.3,266.9 221.3,266.4 222.3,266.1 223.3,265.7 224.3,265.4 225.3,265.1 226.3,264.9 227.3,264.7 228.3,264.6 229.3,264.5 230.3,264.5 231.3,264.5 232.3,264.6 233.3,264.8 234.3,265.0 235.3,265.3 236.3,265.7 237.3,266.1 238.3,266.5 239.3,267.0 240.3,267.6 241.3,268.2 242.3,268.9 243.3,269.6 244.3,270.4 245.3,271.3 246.3,272.2 247.3,273.2 248.3,274.2 249.3,275.3 250.3,276.4 251.3,277.6 252.3,278.8 253.3,280.1 254.3,281.4 255.0,282.0" stroke="#1a62e6"/>

<path d="M302.6,264.2 303.6,264.3 304.6,264.5 305.6,264.8 306.6,265.2 307.6,265.7 308.6,266.4 309.6,267.3 310.6,268.2 311.6,269.2 312.6,270.2 313.6,271.2 314.6,272.2 315.6,273.2 316.6,274.2 317.6,275.2 318.6,276.2 319.6,277.2 320.6,278.2 321.6,279.2 322.6,280.2 323.6,281.2 324.6,282.3 325.6,283.4 326.6,284.7 327.6,286.1 328.6,287.6 329.6,289.2 330.6,290.8 331.6,292.5 332.6,294.2 333.6,296.0 334.6,297.9 335.6,299.9 336.6,301.9 337.6,304.0 338.6,306.1 339.6,308.2 340.6,310.4 341.6,312.5 342.6,314.6 343.6,316.6 344.6,318.5 345.6,320.3 346.6,322.1 347.6,323.8 348.6,325.4 349.6,326.9 350.6,328.3 351.6,329.7 352.6,330.8 353.6,331.9 354.6,332.7 355.6,333.4 356.6,334.0 357.6,334.4 358.6,334.8 359.6,335.1 360.6,335.4 361.6,335.6 362.6,335.8 363.6,335.9 364.6,336.0 365.6,336.1 366.6,336.2 367.6,336.2 368.6,336.2 369.6,336.1 370.6,335.9 371.6,335.6 372.6,335.4 373.6,335.0 374.6,334.7 375.6,334.2 376.6,333.7 377.6,332.9 378.6,332.0 379.6,330.8 380.6,329.3 381.6,327.5 382.6,325.5 383.6,323.3 384.6,321.0 385.6,318.7 386.6,316.3 387.6,314.0 388.6,311.7 389.6,309.4 390.6,307.2 391.6,305.0 392.6,303.0 393.6,300.9 394.6,298.9 395.6,296.8 396.6,294.7 397.6,292.7 398.6,290.6 399.6,288.5 400.6,286.6 401.6,284.7 402.6,282.8 403.6,281.0 404.6,279.3 405.6,277.5 406.6,275.6 407.6,273.7 408.6,271.8 409.6,269.8 410.6,267.8 411.6,265.7 412.6,263.6 413.6,261.3 414.6,259.1 415.6,256.8 416.6,254.6 417.6,252.5 418.6,250.5 419.6,248.7 420.6,247.2 421.6,245.9 422.6,244.9 423.6,244.1 424.6,243.5 425.6,243.2 426.6,242.9 427.6,242.8 428.6,242.8 429.6,243.0 430.6,243.3 431.6,243.7 432.6,244.3 433.6,245.0 434.6,245.7 435.6,246.6 436.6,247.5 437.6,248.5 438.6,249.5 439.6,250.5 440.6,251.6 441.6,252.7 442.6,253.8 443.6,254.9 444.6,256.1 445.6,257.2 446.6,258.5 447.6,259.8 448.6,261.4 449.6,263.2 450.6,265.1 451.6,267.3 452.6,269.6 453.6,271.9 454.6,274.2 455.6,276.5 456.6,278.9 457.6,281.2 458.6,283.6 459.6,286.1 460.6,288.7 461.6,291.5 462.6,294.3 463.6,297.1 464.6,299.8 465.6,302.4 466.6,304.9 467.6,307.3 468.6,309.5 469.6,311.7 470.6,313.7 471.6,315.7 472.6,317.5 473.6,319.3 474.6,321.0 475.6,322.6 476.6,324.1 477.6,325.6 478.6,327.1 479.6,328.4 480.6,329.8 481.6,331.1 482.6,332.4 483.6,333.6 484.6,334.8 485.6,336.0 486.6,337.1 487.6,338.2 488.6,339.2 489.6,340.2 490.6,341.2 491.6,342.1 492.6,342.9 493.6,343.7 494.6,344.2 495.6,344.6 496.6,344.7 497.6,344.7 498.6,344.3 499.6,343.8 500.6,343.0 501.6,341.9 502.6,340.7 503.6,339.2 504.6,337.5 505.6,335.5 506.6,333.3 507.6,331.0 508.6,328.6 509.6,326.1 510.6,323.6 511.6,321.1 512.6,318.6 513.6,316.2 514.6,313.7 515.6,311.2 516.6,308.7 517.6,306.2 518.6,303.6 519.6,301.0 520.6,298.4 521.6,295.7 522.3,294.4" stroke="#2b2b2b"/>
<path d="M302.6,296.4 303.6,296.5 304.6,296.8 305.6,297.2 306.6,297.7 307.6,298.5 308.6,299.4 309.6,300.4 310.6,301.4 311.6,302.5 312.6,303.6 313.6,304.7 314.6,305.7 315.6,306.8 316.6,307.8 317.6,308.7 318.6,309.6 319.6,310.5 320.6,311.5 321.6,312.4 322.6,313.4 323.6,314.4 324.6,315.4 325.6,316.5 326.6,317.7 327.6,318.9 328.6,320.1 329.6,321.2 330.6,322.4 331.6,323.6 332.6,324.9 333.6,326.5 334.6,328.3 335.6,330.4 336.6,332.7 337.6,335.0 338.6,337.4 339.6,339.7 340.6,342.0 341.6,344.2 342.6,346.4 343.6,348.5 344.6,350.5 345.6,352.4 346.6,354.3 347.6,356.0 348.6,357.6 349.6,359.1 350.6,360.4 351.6,361.6 352.6,362.6 353.6,363.6 354.6,364.4 355.6,365.1 356.6,365.7 357.6,366.2 358.6,366.6 359.6,366.9 360.6,367.1 361.6,367.3 362.6,367.4 363.6,367.5 364.6,367.5 365.6,367.5 366.6,367.4 367.6,367.3 368.6,367.1 369.6,366.9 370.6,366.6 371.6,366.3 372.6,365.8 373.6,365.3 374.6,364.7 375.6,364.1 376.6,363.3 377.6,362.3 378.6,361.2 379.6,359.8 380.6,358.2 381.6,356.3 382.6,354.3 383.6,352.2 384.6,349.9 385.6,347.7 386.6,345.4 387.6,343.1 388.6,340.8 389.6,338.6 390.6,336.5 391.6,334.4 392.6,332.4 393.6,330.2 394.6,328.0 395.6,325.7 396.6,323.4 397.6,321.3 398.6,319.3 399.6,317.4 400.6,315.6 401.6,313.9 402.6,312.2 403.6,310.5 404.6,308.8 405.6,307.0 406.6,305.2 407.6,303.3 408.6,301.3 409.6,299.2 410.6,297.1 411.6,294.8 412.6,292.6 413.6,290.3 414.6,288.1 415.6,285.9 416.6,283.8 417.6,281.7 418.6,279.7 419.6,277.8 420.6,276.1 421.6,274.5 422.6,273.2 423.6,272.1 424.6,271.1 425.6,270.4 426.6,270.0 427.6,269.7 428.6,269.6 429.6,269.7 430.6,270.0 431.6,270.3 432.6,270.8 433.6,271.3 434.6,272.0 435.6,272.7 436.6,273.5 437.6,274.3 438.6,275.2 439.6,276.1 440.6,277.1 441.6,278.1 442.6,279.1 443.6,280.2 444.6,281.4 445.6,282.6 446.6,283.9 447.6,285.4 448.6,286.9 449.6,288.6 450.6,290.5 451.6,292.4 452.6,294.4 453.6,296.5 454.6,298.6 455.6,300.7 456.6,302.9 457.6,305.1 458.6,307.3 459.6,309.6 460.6,312.0 461.6,314.4 462.6,317.0 463.6,319.6 464.6,322.3 465.6,325.0 466.6,327.8 467.6,330.6 468.6,333.4 469.6,336.1 470.6,338.7 471.6,341.3 472.6,343.8 473.6,346.2 474.6,348.5 475.6,350.6 476.6,352.6 477.6,354.3 478.6,355.9 479.6,357.4 480.6,358.7 481.6,360.0 482.6,361.2 483.6,362.3 484.6,363.3 485.6,364.3 486.6,365.2 487.6,366.0 488.6,366.8 489.6,367.5 490.6,368.1 491.6,368.6 492.6,369.0 493.6,369.3 494.6,369.5 495.6,369.5 496.6,369.4 497.6,369.1 498.6,368.7 499.6,368.1 500.6,367.4 501.6,366.5 502.6,365.3 503.6,364.0 504.6,362.3 505.6,360.4 506.6,358.3 507.6,355.9 508.6,353.4 509.6,350.9 510.6,348.2 511.6,345.6 512.6,342.9 513.6,340.3 514.6,337.6 515.6,334.9 516.6,332.2 517.6,329.4 518.6,326.6 519.6,323.8 520.6,320.9 521.6,318.0 522.3,316.6" stroke="#ee2c2c"/>
<path d="M302.6,317.3 303.6,317.4 304.6,317.7 305.6,318.0 306.6,318.6 307.6,319.4 308.6,320.3 309.6,321.2 310.6,322.3 311.6,323.3 312.6,324.4 313.6,325.5 314.6,326.6 315.6,327.6 316.6,328.6 317.6,329.5 318.6,330.5 319.6,331.4 320.6,332.3 321.6,333.2 322.6,334.2 323.6,335.2 324.6,336.2 325.6,337.3 326.6,338.5 327.6,339.6 328.6,340.8 329.6,342.0 330.6,343.2 331.6,344.4 332.6,345.7 333.6,347.2 334.6,349.0 335.6,351.1 336.6,353.4 337.6,355.8 338.6,358.1 339.6,360.4 340.6,362.7 341.6,364.9 342.6,367.1 343.6,369.2 344.6,371.2 345.6,373.1 346.6,375.0 347.6,376.7 348.6,378.3 349.6,379.8 350.6,381.1 351.6,382.3 352.6,383.3 353.6,384.2 354.6,385.0 355.6,385.7 356.6,386.3 357.6,386.8 358.6,387.2 359.6,387.5 360.6,387.8 361.6,387.9 362.6,388.0 363.6,388.1 364.6,388.1 365.6,388.0 366.6,387.9 367.6,387.8 368.6,387.5 369.6,387.3 370.6,387.0 371.6,386.6 372.6,386.1 373.6,385.6 374.6,384.9 375.6,384.2 376.6,383.4 377.6,382.4 378.6,381.2 379.6,379.8 380.6,378.2 381.6,376.3 382.6,374.2 383.6,372.1 384.6,369.8 385.6,367.5 386.6,365.1 387.6,362.8 388.6,360.5 389.6,358.3 390.6,356.2 391.6,354.1 392.6,351.9 393.6,349.7 394.6,347.5 395.6,345.1 396.6,342.9 397.6,340.7 398.6,338.7 399.6,336.7 400.6,334.9 401.6,333.1 402.6,331.4 403.6,329.7 404.6,327.9 405.6,326.1 406.6,324.3 407.6,322.4 408.6,320.3 409.6,318.2 410.6,316.0 411.6,313.7 412.6,311.4 413.6,309.2 414.6,306.9 415.6,304.7 416.6,302.5 417.6,300.4 418.6,298.3 419.6,296.4 420.6,294.6 421.6,293.1 422.6,291.7 423.6,290.5 424.6,289.6 425.6,288.8 426.6,288.3 427.6,288.0 428.6,287.9 429.6,288.0 430.6,288.2 431.6,288.5 432.6,288.9 433.6,289.4 434.6,290.1 435.6,290.7 436.6,291.5 437.6,292.3 438.6,293.1 439.6,294.0 440.6,295.0 441.6,295.9 442.6,296.9 443.6,298.0 444.6,299.1 445.6,300.3 446.6,301.6 447.6,303.0 448.6,304.5 449.6,306.2 450.6,308.0 451.6,309.9 452.6,311.8 453.6,313.9 454.6,316.0 455.6,318.1 456.6,320.2 457.6,322.4 458.6,324.6 459.6,326.8 460.6,329.2 461.6,331.6 462.6,334.1 463.6,336.7 464.6,339.3 465.6,342.0 466.6,344.8 467.6,347.5 468.6,350.3 469.6,352.9 470.6,355.6 471.6,358.1 472.6,360.6 473.6,362.9 474.6,365.2 475.6,367.3 476.6,369.2 477.6,370.9 478.6,372.5 479.6,373.9 480.6,375.2 481.6,376.4 482.6,377.6 483.6,378.7 484.6,379.7 485.6,380.6 486.6,381.5 487.6,382.3 488.6,383.0 489.6,383.7 490.6,384.2 491.6,384.7 492.6,385.1 493.6,385.4 494.6,385.5 495.6,385.5 496.6,385.3 497.6,384.9 498.6,384.4 499.6,383.7 500.6,382.9 501.6,381.9 502.6,380.7 503.6,379.2 504.6,377.5 505.6,375.5 506.6,373.3 507.6,370.8 508.6,368.3 509.6,365.6 510.6,362.9 511.6,360.1 512.6,357.4 513.6,354.6 514.6,351.9 515.6,349.1 516.6,346.3 517.6,343.4 518.6,340.5 519.6,337.6 520.6,334.6 521.6,331.7 522.3,330.2" stroke="#a65ee8"/>
<path d="M302.6,311.6 303.6,311.7 304.6,312.0 305.6,312.3 306.6,312.9 307.6,313.7 308.6,314.6 309.6,315.5 310.6,316.6 311.6,317.6 312.6,318.7 313.6,319.8 314.6,320.9 315.6,321.9 316.6,322.9 317.6,323.8 318.6,324.8 319.6,325.7 320.6,326.6 321.6,327.5 322.6,328.5 323.6,329.5 324.6,330.5 325.6,331.6 326.6,332.8 327.6,333.9 328.6,335.1 329.6,336.3 330.6,337.5 331.6,338.7 332.6,340.0 333.6,341.5 334.6,343.3 335.6,345.4 336.6,347.7 337.6,350.1 338.6,352.4 339.6,354.7 340.6,357.0 341.6,359.2 342.6,361.4 343.6,363.5 344.6,365.5 345.6,367.4 346.6,369.3 347.6,371.0 348.6,372.6 349.6,374.1 350.6,375.4 351.6,376.6 352.6,377.6 353.6,378.5 354.6,379.3 355.6,380.0 356.6,380.6 357.6,381.1 358.6,381.5 359.6,381.8 360.6,382.1 361.6,382.2 362.6,382.3 363.6,382.4 364.6,382.4 365.6,382.4 366.6,382.3 367.6,382.1 368.6,381.9 369.6,381.7 370.6,381.4 371.6,381.0 372.6,380.5 373.6,380.0 374.6,379.4 375.6,378.7 376.6,377.9 377.6,376.9 378.6,375.8 379.6,374.4 380.6,372.7 381.6,370.9 382.6,368.8 383.6,366.7 384.6,364.4 385.6,362.1 386.6,359.8 387.6,357.5 388.6,355.2 389.6,353.0 390.6,350.9 391.6,348.8 392.6,346.7 393.6,344.5 394.6,342.2 395.6,339.9 396.6,337.7 397.6,335.5 398.6,333.5 399.6,331.6 400.6,329.8 401.6,328.0 402.6,326.3 403.6,324.6 404.6,322.9 405.6,321.1 406.6,319.3 407.6,317.4 408.6,315.3 409.6,313.2 410.6,311.0 411.6,308.8 412.6,306.5 413.6,304.2 414.6,302.0 415.6,299.8 416.6,297.6 417.6,295.5 418.6,293.5 419.6,291.6 420.6,289.8 421.6,288.3 422.6,286.9 423.6,285.7 424.6,284.8 425.6,284.1 426.6,283.6 427.6,283.3 428.6,283.2 429.6,283.3 430.6,283.5 431.6,283.8 432.6,284.3 433.6,284.8 434.6,285.4 435.6,286.1 436.6,286.9 437.6,287.7 438.6,288.5 439.6,289.4 440.6,290.4 441.6,291.4 442.6,292.4 443.6,293.5 444.6,294.6 445.6,295.8 446.6,297.1 447.6,298.5 448.6,300.0 449.6,301.7 450.6,303.5 451.6,305.4 452.6,307.4 453.6,309.5 454.6,311.5 455.6,313.7 456.6,315.8 457.6,318.0 458.6,320.2 459.6,322.5 460.6,324.8 461.6,327.2 462.6,329.7 463.6,332.3 464.6,335.0 465.6,337.7 466.6,340.5 467.6,343.2 468.6,346.0 469.6,348.7 470.6,351.3 471.6,353.9 472.6,356.3 473.6,358.7 474.6,361.0 475.6,363.1 476.6,365.0 477.6,366.7 478.6,368.3 479.6,369.8 480.6,371.1 481.6,372.3 482.6,373.5 483.6,374.5 484.6,375.6 485.6,376.5 486.6,377.4 487.6,378.2 488.6,378.9 489.6,379.6 490.6,380.2 491.6,380.7 492.6,381.1 493.6,381.4 494.6,381.5 495.6,381.5 496.6,381.3 497.6,381.0 498.6,380.5 499.6,379.8 500.6,379.0 501.6,378.1 502.6,376.8 503.6,375.4 504.6,373.7 505.6,371.7 506.6,369.5 507.6,367.1 508.6,364.6 509.6,361.9 510.6,359.2 511.6,356.5 512.6,353.8 513.6,351.1 514.6,348.3 515.6,345.5 516.6,342.7 517.6,339.9 518.6,337.0 519.6,334.1 520.6,331.2 521.6,328.3 522.3,326.8" stroke="#1f9a4e"/>
<path d="M302.6,306.6 303.6,306.7 304.6,306.9 305.6,307.3 306.6,307.9 307.6,308.7 308.6,309.5 309.6,310.5 310.6,311.5 311.6,312.6 312.6,313.7 313.6,314.8 314.6,315.8 315.6,316.9 316.6,317.8 317.6,318.8 318.6,319.7 319.6,320.6 320.6,321.5 321.6,322.4 322.6,323.4 323.6,324.4 324.6,325.4 325.6,326.5 326.6,327.6 327.6,328.8 328.6,330.0 329.6,331.2 330.6,332.3 331.6,333.5 332.6,334.8 333.6,336.4 334.6,338.2 335.6,340.3 336.6,342.5 337.6,344.9 338.6,347.3 339.6,349.6 340.6,351.8 341.6,354.0 342.6,356.2 343.6,358.3 344.6,360.3 345.6,362.2 346.6,364.0 347.6,365.8 348.6,367.4 349.6,368.8 350.6,370.1 351.6,371.3 352.6,372.4 353.6,373.3 354.6,374.1 355.6,374.8 356.6,375.4 357.6,375.9 358.6,376.2 359.6,376.5 360.6,376.8 361.6,376.9 362.6,377.0 363.6,377.1 364.6,377.1 365.6,377.1 366.6,377.0 367.6,376.8 368.6,376.6 369.6,376.4 370.6,376.1 371.6,375.7 372.6,375.3 373.6,374.8 374.6,374.2 375.6,373.5 376.6,372.7 377.6,371.7 378.6,370.6 379.6,369.2 380.6,367.5 381.6,365.7 382.6,363.6 383.6,361.5 384.6,359.2 385.6,357.0 386.6,354.6 387.6,352.3 388.6,350.1 389.6,347.9 390.6,345.7 391.6,343.7 392.6,341.6 393.6,339.4 394.6,337.1 395.6,334.8 396.6,332.6 397.6,330.4 398.6,328.4 399.6,326.5 400.6,324.7 401.6,322.9 402.6,321.2 403.6,319.5 404.6,317.8 405.6,316.1 406.6,314.2 407.6,312.3 408.6,310.3 409.6,308.2 410.6,306.0 411.6,303.8 412.6,301.5 413.6,299.2 414.6,297.0 415.6,294.8 416.6,292.6 417.6,290.5 418.6,288.5 419.6,286.6 420.6,284.9 421.6,283.3 422.6,282.0 423.6,280.8 424.6,279.9 425.6,279.2 426.6,278.7 427.6,278.4 428.6,278.3 429.6,278.4 430.6,278.6 431.6,279.0 432.6,279.4 433.6,280.0 434.6,280.6 435.6,281.3 436.6,282.1 437.6,282.9 438.6,283.8 439.6,284.7 440.6,285.7 441.6,286.7 442.6,287.7 443.6,288.8 444.6,289.9 445.6,291.1 446.6,292.4 447.6,293.9 448.6,295.4 449.6,297.1 450.6,299.0 451.6,300.9 452.6,302.9 453.6,304.9 454.6,307.0 455.6,309.2 456.6,311.3 457.6,313.5 458.6,315.7 459.6,318.0 460.6,320.4 461.6,322.8 462.6,325.3 463.6,328.0 464.6,330.6 465.6,333.4 466.6,336.2 467.6,338.9 468.6,341.7 469.6,344.4 470.6,347.0 471.6,349.6 472.6,352.1 473.6,354.5 474.6,356.8 475.6,358.9 476.6,360.8 477.6,362.6 478.6,364.2 479.6,365.6 480.6,367.0 481.6,368.2 482.6,369.4 483.6,370.5 484.6,371.5 485.6,372.5 486.6,373.4 487.6,374.2 488.6,374.9 489.6,375.6 490.6,376.2 491.6,376.7 492.6,377.2 493.6,377.5 494.6,377.6 495.6,377.6 496.6,377.4 497.6,377.1 498.6,376.6 499.6,376.0 500.6,375.2 501.6,374.3 502.6,373.1 503.6,371.7 504.6,370.0 505.6,368.0 506.6,365.8 507.6,363.4 508.6,360.9 509.6,358.3 510.6,355.6 511.6,352.9 512.6,350.2 513.6,347.5 514.6,344.8 515.6,342.0 516.6,339.2 517.6,336.4 518.6,333.6 519.6,330.7 520.6,327.8 521.6,324.9 522.3,323.4" stroke="#1a62e6"/>

</g>
<g fill="none" stroke-width="1.3">
<path d="M201,325.5 L223,325.5" stroke="#2b2b2b"/>
<path d="M201,339 L223,339" stroke="#ee2c2c"/>
<path d="M201,352.7 L223,352.7" stroke="#1a62e6"/>
<path d="M201,365.8 L223,365.8" stroke="#1f9a4e"/>
<path d="M201,379.2 L223,379.2" stroke="#a65ee8"/>

<path d="M476.4,228.1 L497.9,228.1" stroke="#2b2b2b"/>
<path d="M476.4,242.1 L497.9,242.1" stroke="#ee2c2c"/>
<path d="M476.4,255.8 L497.9,255.8" stroke="#1a62e6"/>
<path d="M476.4,269.8 L497.9,269.8" stroke="#1f9a4e"/>
<path d="M476.4,283.8 L497.9,283.8" stroke="#a65ee8"/>

</g>
<g fill="none">
<rect x="35.3" y="218.7" width="219.8" height="178.3" fill="none" stroke="#262626" stroke-width="1.3"/>
<path d="M35.3,397.0 L35.3,400.0" stroke="#333" stroke-width="1.1"/>
<path d="M71.9,397.0 L71.9,400.0" stroke="#333" stroke-width="1.1"/>
<path d="M108.6,397.0 L108.6,400.0" stroke="#333" stroke-width="1.1"/>
<path d="M145.2,397.0 L145.2,400.0" stroke="#333" stroke-width="1.1"/>
<path d="M181.8,397.0 L181.8,400.0" stroke="#333" stroke-width="1.1"/>
<path d="M218.5,397.0 L218.5,400.0" stroke="#333" stroke-width="1.1"/>
<path d="M255.1,397.0 L255.1,400.0" stroke="#333" stroke-width="1.1"/>
<path d="M53.6,397.0 L53.6,398.8" stroke="#333" stroke-width="1"/>
<path d="M90.2,397.0 L90.2,398.8" stroke="#333" stroke-width="1"/>
<path d="M126.9,397.0 L126.9,398.8" stroke="#333" stroke-width="1"/>
<path d="M163.5,397.0 L163.5,398.8" stroke="#333" stroke-width="1"/>
<path d="M200.1,397.0 L200.1,398.8" stroke="#333" stroke-width="1"/>
<path d="M236.8,397.0 L236.8,398.8" stroke="#333" stroke-width="1"/>
<path d="M35.3,218.7 L32.3,218.7" stroke="#333" stroke-width="1.1"/>
<path d="M35.3,263.3 L32.3,263.3" stroke="#333" stroke-width="1.1"/>
<path d="M35.3,307.9 L32.3,307.9" stroke="#333" stroke-width="1.1"/>
<path d="M35.3,352.4 L32.3,352.4" stroke="#333" stroke-width="1.1"/>
<path d="M35.3,397.0 L32.3,397.0" stroke="#333" stroke-width="1.1"/>
<path d="M35.3,241.0 L33.5,241.0" stroke="#333" stroke-width="1"/>
<path d="M35.3,285.6 L33.5,285.6" stroke="#333" stroke-width="1"/>
<path d="M35.3,330.1 L33.5,330.1" stroke="#333" stroke-width="1"/>
<path d="M35.3,374.7 L33.5,374.7" stroke="#333" stroke-width="1"/>

<rect x="302.6" y="218.7" width="219.69999999999993" height="178.3" fill="none" stroke="#262626" stroke-width="1.3"/>
<path d="M302.6,397.0 L302.6,400.0" stroke="#333" stroke-width="1.1"/>
<path d="M339.2,397.0 L339.2,400.0" stroke="#333" stroke-width="1.1"/>
<path d="M375.8,397.0 L375.8,400.0" stroke="#333" stroke-width="1.1"/>
<path d="M412.4,397.0 L412.4,400.0" stroke="#333" stroke-width="1.1"/>
<path d="M449.1,397.0 L449.1,400.0" stroke="#333" stroke-width="1.1"/>
<path d="M485.7,397.0 L485.7,400.0" stroke="#333" stroke-width="1.1"/>
<path d="M522.3,397.0 L522.3,400.0" stroke="#333" stroke-width="1.1"/>
<path d="M320.9,397.0 L320.9,398.8" stroke="#333" stroke-width="1"/>
<path d="M357.5,397.0 L357.5,398.8" stroke="#333" stroke-width="1"/>
<path d="M394.1,397.0 L394.1,398.8" stroke="#333" stroke-width="1"/>
<path d="M430.8,397.0 L430.8,398.8" stroke="#333" stroke-width="1"/>
<path d="M467.4,397.0 L467.4,398.8" stroke="#333" stroke-width="1"/>
<path d="M504.0,397.0 L504.0,398.8" stroke="#333" stroke-width="1"/>
<path d="M302.6,218.7 L299.6,218.7" stroke="#333" stroke-width="1.1"/>
<path d="M302.6,263.3 L299.6,263.3" stroke="#333" stroke-width="1.1"/>
<path d="M302.6,307.9 L299.6,307.9" stroke="#333" stroke-width="1.1"/>
<path d="M302.6,352.4 L299.6,352.4" stroke="#333" stroke-width="1.1"/>
<path d="M302.6,397.0 L299.6,397.0" stroke="#333" stroke-width="1.1"/>
<path d="M302.6,241.0 L300.8,241.0" stroke="#333" stroke-width="1"/>
<path d="M302.6,285.6 L300.8,285.6" stroke="#333" stroke-width="1"/>
<path d="M302.6,330.1 L300.8,330.1" stroke="#333" stroke-width="1"/>
<path d="M302.6,374.7 L300.8,374.7" stroke="#333" stroke-width="1"/>

</g>
</svg>
<div class="t tk" style="left:32.5px;top:6.3px;transform:translate(-100%,-50%)">0.3</div>
<div class="t tk" style="left:299.6px;top:6.3px;transform:translate(-100%,-50%)">0.3</div>
<div class="t tk" style="left:32.5px;top:36.0px;transform:translate(-100%,-50%)">0.2</div>
<div class="t tk" style="left:299.6px;top:36.0px;transform:translate(-100%,-50%)">0.2</div>
<div class="t tk" style="left:32.5px;top:65.6px;transform:translate(-100%,-50%)">0.1</div>
<div class="t tk" style="left:299.6px;top:65.6px;transform:translate(-100%,-50%)">0.1</div>
<div class="t tk" style="left:32.5px;top:95.3px;transform:translate(-100%,-50%)">0</div>
<div class="t tk" style="left:299.6px;top:95.3px;transform:translate(-100%,-50%)">0</div>
<div class="t tk" style="left:32.5px;top:125.0px;transform:translate(-100%,-50%)">-0.1</div>
<div class="t tk" style="left:299.6px;top:125.0px;transform:translate(-100%,-50%)">-0.1</div>
<div class="t tk" style="left:32.5px;top:154.6px;transform:translate(-100%,-50%)">-0.2</div>
<div class="t tk" style="left:299.6px;top:154.6px;transform:translate(-100%,-50%)">-0.2</div>
<div class="t tk" style="left:32.5px;top:184.3px;transform:translate(-100%,-50%)">-0.3</div>
<div class="t tk" style="left:299.6px;top:184.3px;transform:translate(-100%,-50%)">-0.3</div>
<div class="t tk" style="left:80.2px;top:191.2px;transform:translate(-50%,-50%)">-50</div>
<div class="t tk" style="left:346.8px;top:191.2px;transform:translate(-50%,-50%)">-50</div>
<div class="t tk" style="left:135.5px;top:191.2px;transform:translate(-50%,-50%)">0</div>
<div class="t tk" style="left:402.2px;top:191.2px;transform:translate(-50%,-50%)">0</div>
<div class="t tk" style="left:190.8px;top:191.2px;transform:translate(-50%,-50%)">50</div>
<div class="t tk" style="left:457.6px;top:191.2px;transform:translate(-50%,-50%)">50</div>
<div class="t cb" style="left:258.3px;top:183.5px;transform:translate(0,-50%)">0</div>
<div class="t cb" style="left:525.8px;top:183.5px;transform:translate(0,-50%)">0</div>
<div class="t cb" style="left:258.3px;top:158.2px;transform:translate(0,-50%)">1</div>
<div class="t cb" style="left:525.8px;top:158.2px;transform:translate(0,-50%)">1</div>
<div class="t cb" style="left:258.3px;top:132.9px;transform:translate(0,-50%)">2</div>
<div class="t cb" style="left:525.8px;top:132.9px;transform:translate(0,-50%)">2</div>
<div class="t cb" style="left:258.3px;top:107.6px;transform:translate(0,-50%)">3</div>
<div class="t cb" style="left:525.8px;top:107.6px;transform:translate(0,-50%)">3</div>
<div class="t cb" style="left:258.3px;top:82.3px;transform:translate(0,-50%)">4</div>
<div class="t cb" style="left:525.8px;top:82.3px;transform:translate(0,-50%)">4</div>
<div class="t cb" style="left:258.3px;top:57.0px;transform:translate(0,-50%)">5</div>
<div class="t cb" style="left:525.8px;top:57.0px;transform:translate(0,-50%)">5</div>
<div class="t cb" style="left:258.3px;top:31.7px;transform:translate(0,-50%)">6</div>
<div class="t cb" style="left:525.8px;top:31.7px;transform:translate(0,-50%)">6</div>
<div class="t cb" style="left:258.3px;top:6.4px;transform:translate(0,-50%)">7</div>
<div class="t cb" style="left:525.8px;top:6.4px;transform:translate(0,-50%)">7</div>
<div class="t xl" style="left:134px;top:202.6px;transform:translate(-50%,-50%)">Far-field divergency angle / °</div>
<div class="t xl" style="left:402px;top:202.6px;transform:translate(-50%,-50%)">Far-field divergency angle / °</div>
<div class="t yl" style="left:11.6px;top:94.8px;transform:translate(-50%,-50%) rotate(-90deg)"><span class="z">Z</span><span class="zt">t</span> / μm</div>
<div class="t yl" style="left:281.2px;top:94.6px;transform:translate(-50%,-50%) rotate(-90deg)"><span class="z">Z</span><span class="zt">t</span> / μm</div>
<div class="t pl w" style="left:37.8px;top:16.6px;-webkit-text-stroke:0.15px #fff;transform:translate(0,-50%)">(a)</div>
<div class="t pl w" style="left:309.3px;top:16.6px;-webkit-text-stroke:0.15px #fff;transform:translate(0,-50%)">(b)</div>
<div class="t tt w" style="left:133.1px;top:18px;transform:translate(-50%,-50%) scaleX(0.78)">TE</div>
<div class="t tt w" style="left:420.1px;top:17.9px;transform:translate(-50%,-50%) scaleX(0.98)">TM</div>
<div class="t tk" style="left:30.2px;top:218.7px;transform:translate(-100%,-50%)">0.8</div>
<div class="t tk" style="left:298.2px;top:218.7px;transform:translate(-100%,-50%)">0.2</div>
<div class="t tk" style="left:30.2px;top:263.3px;transform:translate(-100%,-50%)">0.7</div>
<div class="t tk" style="left:298.2px;top:263.3px;transform:translate(-100%,-50%)">0.1</div>
<div class="t tk" style="left:30.2px;top:307.9px;transform:translate(-100%,-50%)">0.6</div>
<div class="t tk" style="left:298.2px;top:307.9px;transform:translate(-100%,-50%)">0</div>
<div class="t tk" style="left:30.2px;top:352.4px;transform:translate(-100%,-50%)">0.5</div>
<div class="t tk" style="left:298.2px;top:352.4px;transform:translate(-100%,-50%)">-0.1</div>
<div class="t tk" style="left:30.2px;top:397.0px;transform:translate(-100%,-50%)">0.4</div>
<div class="t tk" style="left:298.2px;top:397.0px;transform:translate(-100%,-50%)">-0.2</div>
<div class="t tk" style="left:35.8px;top:406.4px;transform:translate(-50%,-50%)">-0.3</div>
<div class="t tk" style="left:303.1px;top:406.4px;transform:translate(-50%,-50%)">-0.3</div>
<div class="t tk" style="left:72.4px;top:406.4px;transform:translate(-50%,-50%)">-0.2</div>
<div class="t tk" style="left:339.7px;top:406.4px;transform:translate(-50%,-50%)">-0.2</div>
<div class="t tk" style="left:109.1px;top:406.4px;transform:translate(-50%,-50%)">-0.1</div>
<div class="t tk" style="left:376.3px;top:406.4px;transform:translate(-50%,-50%)">-0.1</div>
<div class="t tk" style="left:145.7px;top:406.4px;transform:translate(-50%,-50%)">0</div>
<div class="t tk" style="left:412.9px;top:406.4px;transform:translate(-50%,-50%)">0</div>
<div class="t tk" style="left:182.3px;top:406.4px;transform:translate(-50%,-50%)">0.1</div>
<div class="t tk" style="left:449.6px;top:406.4px;transform:translate(-50%,-50%)">0.1</div>
<div class="t tk" style="left:219.0px;top:406.4px;transform:translate(-50%,-50%)">0.2</div>
<div class="t tk" style="left:486.2px;top:406.4px;transform:translate(-50%,-50%)">0.2</div>
<div class="t tk" style="left:255.6px;top:406.4px;transform:translate(-50%,-50%)">0.3</div>
<div class="t tk" style="left:522.8px;top:406.4px;transform:translate(-50%,-50%)">0.3</div>
<div class="t pl" style="left:39.2px;top:230px;transform:translate(0,-50%)">(c)</div>
<div class="t pl" style="left:311.2px;top:230px;transform:translate(0,-50%)">(d)</div>
<div class="t tt" style="left:133.1px;top:230.8px;transform:translate(-50%,-50%) scaleX(0.78)">TE</div>
<div class="t tt" style="left:414.5px;top:230.9px;transform:translate(-50%,-50%) scaleX(0.93)">TM</div>
<div class="t lg" style="left:232.6px;top:320.6px">80</div>
<div class="t lg" style="left:232.6px;top:334.1px">86</div>
<div class="t lg" style="left:232.6px;top:347.8px">88</div>
<div class="t lg" style="left:232.6px;top:360.9px">89</div>
<div class="t lg" style="left:232.6px;top:374.2px">90</div>
<div class="t lg" style="left:501.8px;top:223.2px">80</div>
<div class="t lg" style="left:501.8px;top:237.2px">86</div>
<div class="t lg" style="left:501.8px;top:250.9px">88</div>
<div class="t lg" style="left:501.8px;top:264.9px">89</div>
<div class="t lg" style="left:501.8px;top:278.9px">90</div>
<div class="t xl2" style="left:146.3px;top:418.6px;transform:translate(-50%,-50%)"><span class="z">Z</span><span class="zt">t</span> / μm</div>
<div class="t xl2" style="left:413.7px;top:418.6px;transform:translate(-50%,-50%)"><span class="z">Z</span><span class="zt">t</span> / μm</div>
<div class="t yl2" style="left:6.2px;top:308.6px;transform:translate(-50%,-50%) rotate(-90deg)">Split detector signal</div>
<div class="t yl2" style="left:276px;top:308.6px;transform:translate(-50%,-50%) rotate(-90deg)">Split detector signal</div>

</body></html>
